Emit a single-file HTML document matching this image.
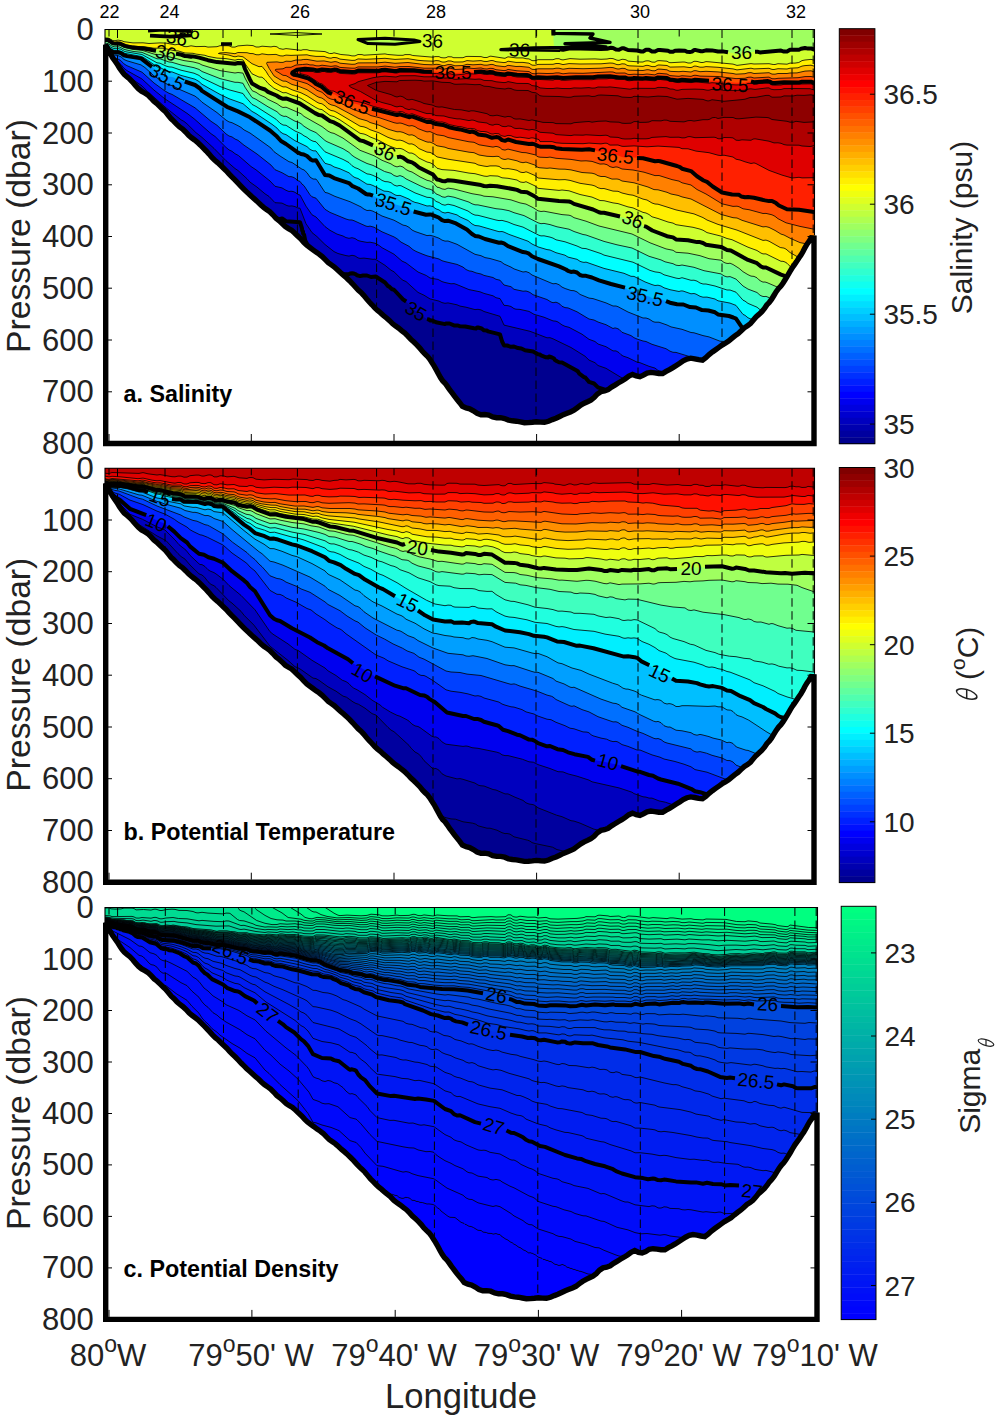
<!DOCTYPE html>
<html><head><meta charset="utf-8"><title>Section</title><style>html,body{margin:0;padding:0;background:#fff}svg{display:block}</style></head><body>
<svg width="1000" height="1421" viewBox="0 0 1000 1421">
<rect width="1000" height="1421" fill="#fff"/>
<clipPath id="cp1"><rect x="105.0" y="29.5" width="709.5" height="414.0"/></clipPath>
<g clip-path="url(#cp1)" stroke-linejoin="round">
<rect x="103.0" y="27.5" width="713.5" height="418.0" fill="#00008f"/>
<path d="M99 23.5L825 23.5L825 448.5L718 448.5L718 447.4L715 447.3L713 446.3L709.3 443.5L706 442.2L703 439.5L702 439.4L701 438.5L699 438.4L698 439.1L696 438.4L695 437.5L694 437.4L691 435.5L690 435.4L689 434.5L688 434.4L687 433.5L684 433L682 432L679 429.5L678 429.4L677 428.5L676 428.4L675 427.5L674 427.3L673 426.5L672 426.3L671 425.4L664 422.2L661 419.5L658 418.4L657 417.5L656 418.3L655.1 417.5L654 417.4L649 414.3L645.2 412.5L644 412.4L643 411.5L640 410.8L639 409.5L635.4 407.5L630 405.7L622.7 400.5L620 400.4L617 398.4L612 393.5L608 391.9L604.2 389.5L598 387.4L594 383.5L589 381.9L585.3 377.5L584 377.1L581.2 374.5L579 373.3L578 371.5L576.6 370.5L562 362.5L559 362.2L557 361.3L555 360.1L554 358.5L552 357.5L549 356.5L548 357.4L546 357.3L542.1 355.5L541 355.4L540 354.5L538 354.3L533.1 351.5L525 350.2L524 349.4L521.4 348.5L518 348.1L515 347.2L514 346.5L511 346.8L508 346.2L507.1 345.5L504 345.4L502.1 341.5L500 334.4L488 331.4L487 330.5L484 330.3L481.7 328.5L478 327.5L477 327.5L476 328.4L474 328.3L471.6 327.5L467 327.2L465.3 326.5L460 326.3L458 325.5L454 325.4L449.5 323.5L446 323.5L445 324.1L436 322.2L432.4 320.5L430 320.4L429 319.5L427 319.1L417 312.8L406.2 301.5L403 299.3L400 296.4L394.7 290.5L393.5 289.5L392 289.2L389.1 286.5L388 286.1L385 282.5L375.8 276.5L373.9 276.5L373 277.1L371 277L367 275.5L363 275.5L361 276.2L360 276.1L357 275.3L356 274.3L354 273.6L352 273.3L349.9 273.5L349 274.2L346 273.8L343 274.1L339 273.3L334 271L331.1 268.5L330 268.4L326.3 264.5L326 263.5L323 261.3L311.2 250.5L310 247.5L307.4 244.5L305.2 240.5L305 238.3L304.1 236.5L304 234.5L303.1 233.5L303 231.5L302.2 230.5L302 228.3L301.1 226.5L301 224.8L300.1 223.5L300 222.2L294 221.4L286 221.2L282.1 218.5L281 219.1L278 219.4L275 219.5L274 218.9L272 216.4L267.1 211.5L262 208.2L256 202.5L253 201.2L251 199.4L237.1 185.5L232 181.1L226.1 174.5L222.2 171.5L209 156.5L207 154.5L206 154.3L205 153.4L190 138.9L183.1 131.5L180 130L171 120.5L170 120.4L168 118.9L162.2 112.5L148 99.7L141 92.5L140 92.3L137 89.9L129.1 82.5L128 82.3L127 81.4L122.1 75.5L122 74.5L121 73.5L121 72.5L119 70.5L115 68.4L111.4 64.5L110 62.5L110 61.5L104 55.5L103 55.5L100.1 53.5L99 53.5L99 23.5Z" fill="#0000bf" stroke="none"/>
<path d="M99 23.5L825 23.5L825 448.5L771.8 448.5L769 445.9L760 442.3L757 442.7L754 441.3L751 437.5L748 436L745 435.6L743 434.6L736 429.3L724 423.5L719 420.1L714 419.3L709 416L702 412.4L697 411.3L688 407.4L684 406.8L677 402.8L673 401.5L664 397.3L654 391.8L652 390.9L649 390.5L645 388.8L622 378L606 368.3L598 365.5L595 362.7L589 360.1L585 356.2L571 347.5L553 338.8L550 337.7L547 337.8L530 331.3L504 325.1L500 316.3L484 311.5L481 309.9L478 309.3L475 309.6L466 307.2L460 306.1L457 304.8L448 302.9L445 303.3L442 302.6L439 301.1L430 298.9L424 295.2L418 292.4L406 281.5L403 280.3L401 278.7L394 271.8L391 270.2L385 265.3L376 259.6L375 259.1L373 259.3L364 258.1L360 258.4L358 257.9L355 255.9L352 255.3L349 256.1L346 255.6L338 253.5L334 251.6L325 244.5L317 236.6L312 232.6L306 223.7L300 208.2L298 208L295 206.6L292 205.9L289 206.1L287 205.6L282 203.1L275 202.7L269 196.4L265 193.8L257 187.1L250 182.1L247 178.7L238 170.5L235 168.5L226 160.7L214 148.4L202 137.4L196 132.7L187 123.8L184 121.4L181 119.8L166 107.8L148 91.9L142 85.9L127 75.4L124 72.7L121 68.4L118 65.7L114 63.3L105 54.1L100 51.4L99 51.4L99 23.5Z" fill="#0000ef" stroke="#000" stroke-width="0.8"/>
<path d="M99 23.5L825 23.5L825 446L815 440.3L811 439.7L798 433.4L790 430.6L785 427.7L781 427L772 422.9L769 419.8L766 418.4L760 415.9L758 416.5L756 416.1L754 415L751 411.3L748 409.8L745 409.3L743 408.3L736 401.6L732 400.2L721 394.5L718 393.2L713 392L709 389.6L703 387.1L694 384.5L691 382.3L689 381.5L685 381L676 377.3L673 377.1L670 375.8L666 373.3L658 370.4L655 368.1L649 366.3L640 362.7L637 362.1L628 357.7L623 356L621 354.7L619 352.6L616 350.9L613 350.9L606 346.7L598 344L595 341.5L589 339.3L582 334.2L569 327.3L565 326.3L562 324.9L558 322L556 321.2L553 320.9L544 317.2L534 314.3L529 311.4L520 309.4L516 309.2L514 308.6L511 306.5L508 305.7L504 305.3L500 298.6L496 297.7L493 295.8L484 293.4L480 291.8L469 289.6L456 284.2L454 283.6L451 283.8L445 282.5L442 281.6L438 279.4L430 278L426.3 275.5L418 272L406 262.9L402 261.1L394 254.2L382 247.7L379 245.4L375 243.2L370 242.2L367 242.4L361 241.3L358 240.5L355 238.5L352 237.7L349 238.3L346 237.6L343 236L337 234.1L330 230.3L325 226.6L316 217L312 214.8L306 206.2L300 195L298 194.5L295 192.3L293 191.5L291 191.2L289 191.5L286 190.3L282 187.9L275 186.3L270 181L256 169.8L251 166.5L238.4 155.5L235 153.7L232 151.3L229 149.9L226 147.4L215.1 136.5L211 133.7L194 118.7L187 113.3L165 98.9L154 90.1L142 79L127 70.6L124 68.3L121 64.5L118 62.3L115 61.2L113 59.8L109 55.7L105 52.7L100 50.2L99 50.2L99 23.5Z" fill="#0020ff" stroke="#000" stroke-width="0.8"/>
<path d="M99 23.5L825 23.5L825 420L815 413.9L813 413.4L811 413.6L803 409.5L796 406.9L784 400.8L781 400.1L773 397.2L768 393.2L760 389.7L757 389.7L755 388.7L751 385.6L743 381.6L736 374.1L731.4 372.5L727 369.8L724 368.7L721 368.3L712 365.2L709 363.7L695 359.5L690 356.7L676 352.4L673 352.3L670 351.2L666 348.7L652 344.3L646 341.5L643 341L637 339L634 337.7L631 335.6L622 332.3L619 329.3L617 328.4L615 327.9L613 328.5L606 324.7L598 322L594 320L589 319L577 311.8L568 307.9L565 307.6L562 306.3L560 304.2L558 303L556 302.2L553 302.7L551 302L547 299.5L533 294.7L530 292.5L528 291.6L526 291L523 291.2L514 289.3L511 286.7L504 285L500 280.2L496 279.3L493 277.5L484 275.4L481 274L476 272.9L472 271.3L469 270.9L466 269.5L463 267.1L457 264.4L445 261.6L442 260.7L439 259L427 255.8L423 254.3L416 251.4L413 249.7L409 246.3L401 242.1L397 238.7L394 236.9L382 231.8L374 227.2L370 226.1L368 226.5L366 226.1L354 220.7L352 220L349 219.9L346 219L330 212.4L325 209.3L316 198.2L312 196.8L310 194.8L304 185.7L302 184.1L300 181.4L298 180.7L295 178.2L293 177.2L291 176.6L289 176.7L282 172.7L275 169.7L271 165.1L257 154L244 145.2L238 140.3L235 139L232 136.9L229 136L226 133.9L217 125.3L211 121.3L195 107.8L172 94.4L169 93.3L165 91L154 83L142 72.2L127 65.7L124 63.9L120.7 60.5L118 59L115 58.3L113 57.1L109 53.7L105 51.3L100 49L99 49L99 23.5Z" fill="#0060ff" stroke="#000" stroke-width="0.8"/>
<path d="M99 23.5L825 23.5L825 394.1L820 391.2L816 387.9L799 382L787 375.6L779 372.6L769 367.7L748 358.4L745 355.8L743 354.8L736 346.2L730 343.2L724 341.4L720 341.2L709 336.9L703 335.6L694 332.8L691 332.5L682 329.3L671 326.9L667 325L659 322.2L655 322.2L653 321.6L649 319L646 318L643 318L628 312L618 306.7L616 306L613 306L606 302.9L593 298.6L589 298.1L580 294.4L577 291.9L574 290.7L571 290.5L565.1 288.5L562 287.1L559 284.7L556 283.5L553 283.8L551 283L532 275L529 272.7L526 271.6L523 272L514 268.9L511 267.1L504 264L501 261.7L490 258.5L485 257.6L481 255.7L475 254.3L457 244.3L448 241L445 241.1L442 240.1L439 238.2L433 236L430 235.3L427 235.6L415 231.5L412 230L409 227.3L406 225.7L403 225.1L394 220.2L382 216L373 211.2L370 210.3L367 210.5L364 209.1L361 206.9L350 201.7L335 196.4L328 193.1L325 192.4L317 180.2L316 179.1L313 179L310 177.1L307 172.7L304 169.9L302 169.2L292 162.5L289 161.7L280 156L274 151.7L271 148.1L269 146.6L250 133L244 129.9L241 127.4L238 125.7L232 122.7L229 121.9L226 120.1L217 112.6L202 102.2L199 99.2L195 96.1L180 89.6L172 85.5L169 85L165 83.1L154 75.9L145 67.6L141 64.9L127 60.8L124 59.5L121 56.8L118 55.6L114 54.9L112 54L108.8 51.5L100 47.9L99 47.9L99 23.5Z" fill="#008fff" stroke="#000" stroke-width="0.8"/>
<path d="M99 23.5L825 23.5L825 367.3L823 365.5L815 361.5L808 358.6L807 358.4L806 358.9L804 358.4L796 353.8L778 346.5L768 340.7L766 339.9L763 340.1L760 338.7L757 336.2L749 332.9L747 331.6L746 330.4L743 328.8L736 318.7L730.7 316.5L719 314.6L717 313.8L715 312.3L706 310.1L702 310.1L696 307.5L694 307.1L690 307.1L683.4 304.5L678 304.4L670 302.7L659.4 298.5L658 298.3L655 298.9L653 298.4L649 296.4L643 294.9L635 291.2L631 290.8L628 289.8L625 287.6L623 286.9L611 284L599 280.3L592 277.5L586 275.8L584 276.1L582 275.7L580 275L577 272.5L574 271.6L571 271.9L568 270.9L566 269.5L559 266.4L538 259L532 256.2L529 253.7L526.2 252.5L523 252.1L508 246.1L504 243.4L501 242.5L499 242.8L485 239L478.9 236.5L475 235.9L472 234L466.9 229.5L460 226L456 223.4L448 220.7L447 220.5L446 221.1L445 221.1L442 220.1L438.6 217.5L432 214.8L430 214.4L427 214.9L418 212.4L415 212.1L412 210.9L409 208.7L406 207.5L394 204.1L388.2 201.5L385 201.3L383 200.7L379 198.4L372.5 195.5L370 194.6L367 194.5L358.1 188.5L355 187.5L352 185.8L349 183.1L340 179.8L334 178.1L329.3 175.5L325 175L316 160.3L313 160.6L311 159.7L307 156L303.8 154.5L301 154L297 151.9L286 144L282 141.8L279.3 139.5L277 136.6L270 130.5L256.7 121.5L250 117.3L238 111.4L232 108.7L229 107.9L225 105.7L216 99.5L202 90.9L200 88.5L195 85L179 79.9L173.9 77.5L171 76.7L169 76.8L165 75.3L160 72.1L156 70.3L145 61.1L141 58.4L127 56.1L124 55.3L121 53.2L118 52.3L116 52.5L113 52L109 49.6L99 46.6L99 23.5Z" fill="#00bfff" stroke="none"/>
<path d="M99 23.5L825 23.5L825 352.7L823 351.4L814 347.5L808 345.4L805 345.3L802 344L799 341.5L796 339.8L790 336.7L772 328.8L769 326.3L767.3 325.5L766 325L763 325.5L760 324.2L757 321.6L748 317.8L745 315.3L743 314.4L736 305.4L730 303.1L718 300.8L715 299L707 297.1L703 297.2L700 296.3L696 294.1L694 293.5L691 293.8L683 291L681 290.9L679 291.5L670 289.7L664 287.8L661 286L658 285.2L655 285.5L652 284.6L645 281.9L634 276.4L631 276.3L624 273.3L604 268.4L586 262.1L584 262.4L582 262L580 261.3L577 259.3L568 257.1L565 255.2L556 252.7L550 250L547 249.6L538 246.9L532 244L528 241.2L509 234.4L504 232.1L502 231.5L499 231.7L479 225.9L475 225.5L472 223.9L468.1 220.5L460 216.9L457 214.9L448 212.3L445 213L442 212.2L439 209.9L436 208.9L433 206.7L430 205.8L427 206L418 203L415 202.4L412 201.1L409 199.1L402 196.2L400 195.4L397 195.5L395 194.9L391 192.4L388 191.4L384 191.1L373 185.5L370 184.4L367 184.2L358 178.5L355 177.6L353 176.4L349 172.8L340 168.8L334 166.9L331 165L325 163.3L316 150.9L313 150.8L310 149.4L307 146.6L295 140.7L286 134.6L283 133.7L280 131.6L277 128.1L272 124.3L256 113.6L252 111.4L243 103.7L229 98.7L220 94.4L202 84.3L199 81.5L195 79.2L181 75.4L172 71.9L169 71.8L167 71.2L160 67.5L157 66.8L145 58.4L141.6 56.5L125 53.4L121 51.2L118 50.4L115 50.5L113 50L109 47.7L99 45.1L99 23.5Z" fill="#00ffff" stroke="#000" stroke-width="0.8"/>
<path d="M99 23.5L825 23.5L825 338.7L820 336.6L803 330.9L790 322.5L787 321.5L778 316.6L775 315.9L772 314.5L769 311.8L766 310.5L763 311L760 309.7L757 307.2L748 303.4L745 301.1L743 300.2L736 292.2L730 290L727 290L715 286L706 284L703 284L700 283L697 281.1L694 280.2L691 280.3L682 277.7L679 278.6L676 278.1L664 274.8L661 273L659 272.4L655 271.9L650 270.4L633 262.2L604 255.1L601 253.6L586 248.6L582 248.3L577 246L565 241.8L556 239.8L553 238.1L550 237.1L544 235.8L541 235.9L539 235.3L523 227.1L514 224.5L508 222L502 220.4L499 220.6L496 220L478 215.3L475 215.1L472 213.8L468 211L454 205.5L448 204.2L445 205.2L442 204.5L439 202.5L436 201.4L433 198.5L430 197.5L427 197.3L415 192.9L401 185.7L399 185.5L397 186.1L394 185.1L391 182.7L388 181.8L385 181.6L382 180.4L379 178.3L373 175.4L370 174.3L367 173.9L358 168.7L355 167.6L352 165.7L349 162.6L343 159.4L325 151.8L316 141.8L313 141.2L310 139.7L307 137.3L304 135.8L301 133.6L295 131L286 125.3L283 125L280 123.2L276 119.2L256 106.4L252 104.4L245 96.4L243 93.5L229 89.8L220 86.5L202 77.9L199 75.4L194 73.2L181 70.2L172 67.1L169 66.9L166 66L160 63.2L157 62.8L142 54.5L126 51.8L124 51.2L121 49.3L118 48.6L115 48.7L113 48.2L111 47.4L109 45.8L99 43.6L99 23.5Z" fill="#30ffcf" stroke="#000" stroke-width="0.8"/>
<path d="M99 23.5L825 23.5L825 325.1L820 323.2L817 322.8L811 321L808 319.9L805 317.9L800 316.1L790 308.4L784 305.4L781 303.2L778 301.8L775 301.2L772 299.8L769 297.6L766 296.4L764 296.6L762 296.2L760 295.2L757 292.5L748 289.1L743 286L736 279.1L730 276.6L727 276.9L724 275.9L721 273.9L704 270.7L694 267.3L682 265L679 265.6L676 265.2L673 263.7L665 261.8L661 259.9L649 256.3L632 248L617 244.8L604 241.4L586 235L583 234.5L574 231.5L569 229.2L557 226.8L550 224.6L544 223.4L541 223.7L538 222.8L524 215.6L514 212.7L509 210.7L502 209.3L496 208.7L478 204.9L475 204.8L472 203.8L469 202.1L454 197.2L448 196.1L445 197.3L442 196.8L440 195.5L436 193.9L433 190.5L430 189.2L427 188.7L420 185.7L406 178.9L403 176.7L400 175.6L397 176.5L394 175.5L391 173.3L384.6 171.5L373 165.4L367 163.5L361 160.6L355 157.4L352 155.3L349 152.4L343 148.7L327 141.7L325 140.5L316 132.6L310 130L304 126.3L301 123.6L298 122L295 121.2L286 116.2L284 116.4L282 115.7L280 114.6L277 111.7L268 106.8L256 99.3L252 97.5L245 87.2L243 83.3L238 82.3L235 82.3L220 78.6L202 71.5L199 69.4L194 67.7L181 65L172 62.3L169 62L160 58.8L157 58.8L142 52.4L133 51.4L127 50.1L124 49.3L120 47.2L118 46.7L115 46.9L112 46.1L108 43.6L99 42L99 23.5Z" fill="#70ff8f" stroke="#000" stroke-width="0.8"/>
<path d="M99 23.5L825 23.5L825 311.8L820 309.8L817 310.1L808 307.1L805 304.4L802 303.2L800 303L799 302.3L786 291.4L779 287.8L767 282.6L765 282L763 282.1L761 281.2L759 279.9L757 277.8L754 276.4L751 276.1L748 274.7L743 271.7L739 268.3L733 264.5L730 263.2L728 263.5L726 263.2L724 262.4L721 260.2L709 258.7L700 255.7L688 253.2L676 252.3L673 250.3L666 248.9L650 242.8L632 234L599 226L586 221.2L574 217.7L571 215.8L569 215.2L562 214.6L544 211.2L541 211.5L538 210.8L533 207.6L526 204.1L520 202.9L511 199.9L493 196.8L484 196.2L481 195.2L472 193.7L454 189L448 188.1L445 189.4L442 188.9L439 187.5L437 187.2L433 182.5L430 181L427 180.3L420 176.9L412 172L409 171.1L406 169.5L403 167L400 166L397 166.9L394 165.9L391 163.9L382 160.3L374 155.7L360 150.3L343 138.1L334 133.4L331 132.7L328 131.2L322 126.6L304 116.4L301 113.7L286 107.2L283 107.5L281 106.6L277 103.7L268 99.4L265 97.2L260 95L256 92.3L253 91.1L252 90.5L249.6 86.5L245 78L243 73.1L238 72.5L235 73L220 70.6L202 65L199 63.4L193 61.9L184 60.6L160 54.5L157 54.8L154 54.1L142 50.3L133 49.4L127 48.1L124 47.4L120 45.4L118 44.9L115 45L112 44.3L110 42.7L108 41.7L99 40.5L99 23.5Z" fill="#9fff60" stroke="#000" stroke-width="0.8"/>
<path d="M99 23.5L553.3 23.5L553.5 40.5L554.1 47.5L555 48.8L559 48.5L562 49.8L565 49.7L568 48.4L570 48.2L601 48.9L608 48.7L610 47.8L613 47.9L616 49.6L618 49.7L619.6 49.5L622 48.2L624 48.3L628 50L637 50.5L641.3 51.5L643.1 51.5L646 49.7L649 49.8L652 51.5L655 51.5L658 50L660 49.9L668 50.8L669 51.6L670 51.8L673 51.8L675 50.8L679 50.6L685 50.8L687 51.8L689 52L692 51.6L694 50.1L697 50.1L701 51.2L703 51.2L706 50.3L712 50.4L715 50.6L718 51.5L725 51.7L733 53L735.6 54.5L738 54.6L740 54.4L742 53L751 51.9L757 51.7L760 52.4L780 50.6L784 51.6L786 51.6L787 51.5L790 49.8L799 49.7L801 48.8L805 48L808 48.6L811 48.4L814 49.5L820 48.5L825 48.3L825 298.5L820 296.5L817 297.2L808 294L805 291.1L799.6 289.5L786 276.4L781 274.6L773 270.4L766 267.5L762 267L760 266L757 263.2L754 261.8L750 260.9L736 253.5L733 251.5L730 250.2L727 250L721 246.9L708 245.2L700 242.1L697 242.1L688 240.3L676 239.4L673 237.4L667 236.2L652 230.4L646 226.6L643 225.7L633 220.3L616 215.5L604 212.8L601 212.8L599 212.3L593.1 209.5L574 203.9L571 202.1L569 201.5L559 201L538 198.8L535 196.5L526 191.8L522 192L520 191.6L516 189.7L502 187.3L499 186.4L490 185.7L487 186.2L484 186L481 185.1L468 183.3L454 180.8L448 180.2L445 181.3L442 180.9L439 179.8L437 179.6L433 174.5L430 172.8L427 171.9L419 167.5L415 164.2L412 162.4L408 161.3L403 157.6L400 156.6L397 157.2L394 156.2L387 153L374 145.7L364 141.3L360 140.4L339.7 125.5L334 122.4L332 122.1L330 121.2L322 115.5L319 115.1L315 113.1L309 109.7L299.9 103.5L286 98.4L283 98.8L280 97.7L276.5 95.5L268 91.8L265 89.5L260 87.9L253 84.1L252 83.4L250 79.6L245 69L243 63.2L238 63L235 63.8L217 62.1L208 60.2L199 57.6L193 56.4L185 56L180.9 54.5L161.2 50.5L156 50.8L149 49.8L144 48.5L133 47.6L125 45.9L119.9 43.5L113 43.2L108 40L103 40.1L102 39.4L99 39.2L99 23.5Z" fill="#cfff30" stroke="none"/>
<path d="M102.4 38.5L105 37.9L108 38.1L109 38.3L112.8 40.5L115 40.7L118 40.1L122 40.8L124 41.7L133 42.9L143 42.8L149 43.5L160 42.9L166 43.1L175 44.8L178 44.3L180 44.6L184 46.5L187 46.7L191 45.8L196 46.6L205 46.4L208 47.1L217 46.7L220 45.7L227 45.7L229 45.8L232 47.1L235 47.1L238 45.9L247 45.2L253 45.6L256 47L259 47L262 46.2L271 46.9L274 46.3L277 46.8L279.2 48.5L283 49.3L286 48.6L301 50.3L303 49.7L307 49.7L310 50.6L325 51.6L329.5 53.5L332 53.5L334 52.8L340.9 54.5L349 55.2L352 55.9L355 55.9L358 54.5L362 54.6L364 55.2L385 53.9L387.9 54.5L398 55.3L403 55.3L405 54.6L410 54.6L412.8 55.5L433 57.2L435 56.6L439 56.6L441 57.6L444 57.9L446 57.7L448 56.7L452 56.9L453 57.6L454 57.7L463 57.7L466 56.5L468 56.4L481 56.6L484 57.5L487 57.5L490 56.2L491 56.2L504 58.2L505 58.3L508 56.8L516 57.9L523 57.9L526 58.7L529 58.9L532 60.6L534 60.7L535.9 60.5L538 59.7L553 59.7L556 58.7L559 58.7L561 59.6L563 59.9L570 58.6L580 59.2L595 58.9L601 59.3L607 59L610 58.4L613 58.6L617 60.2L619 60.4L622 59.3L623 59.3L626 59.8L628 61.1L640 62L643 62L645 61.1L647 60.8L649 60.9L652 62.1L655 62.2L657 60.9L659 60.6L667 61.2L669.1 62.5L671 62.7L683 62L685 62.1L688 63L691 63L694 61.3L695 61.3L697 61.4L701 62.5L703.1 62.5L706 61.6L709 61.8L733 64.1L737 65.4L751 63.6L754 64L769 63.7L773.1 64.5L775 64.5L778 63.7L787 64.2L790 63.1L795 63.1L798.8 62.5L802 60.6L805 60L811 59.4L814 60.1L817 59.8L820 58.6L825 58.4L825 281.6L820 279.8L818 280.7L816 280.7L808 277.7L805 275.3L800 274L791 267.3L787 263.2L785 262L783 261.3L781 261.3L766 253.9L763 253.9L761 253.1L757 250.5L748 247.2L732 239.7L727 238.5L721 236.1L707 232.6L703 230.2L700 229.1L693 227.3L676 224.7L673 223.1L668 222L658 218.5L652 216.8L649 214.5L646 213L643 212.4L633 207.9L628 206.9L618 203.6L613 202.9L604 200.7L600 200.5L592 197.1L580 194.5L569 190.8L562 190L559 190.4L538 188.3L535 185.9L526 181.7L524 182.4L522 182.3L520 181.9L517 180L508 178.3L502 177.8L498 176.1L490 175.7L487 176.4L484 176.1L475 173.7L469 173.1L454 170.4L442 169.6L437 168.2L433 164.2L430 162.7L427 162L419 158.1L415 154.6L412 153.1L409 153L403 149.3L401 148.6L399 148.4L397 148.7L394 147.8L388 145.4L379 140.5L370 136.9L367 135.2L364 134L360 133.3L340 119.9L334 116.6L330 115.5L322 109.6L319 109.1L316 107.6L301 98.4L298 97L292 95.2L286 92.6L283 92.8L274 88.3L268.1 83.5L265 79.7L262 77.2L259 77.1L252 73.8L245 63.6L243 59.9L238 59.4L235 60.2L226 58.6L217 58.1L208 56.4L205 55.3L196 54.1L193 53.3L185 53L178 50.9L175 50.8L163 48.2L154 48.2L143 46.6L139 46.7L130 45.7L124 44.6L122 43.1L117 41.9L115 42.7L113.3 42.5L109 39.7L108 38.6L104 38.8L103 39.5L102.4 38.5Z" fill="#ffef00" stroke="#000" stroke-width="0.8"/>
<path d="M237.9 52.5L247 52.7L250 53.5L253 53.6L256 54.7L259 54.8L262 53.8L268 54.7L276 54.4L280 55.8L283 56L286 55.1L291 55.4L307 54.8L310 55.6L316 56.4L324 56.4L328 57.8L331 58.2L333 57.5L335 57.5L337 57.8L340 59.1L352 60.4L355 60.3L358 58.9L366 59.3L385 58.3L395 59.4L408 58.7L418 60.3L424 60.8L433 61.2L436 60.6L439 60.8L442 62L444 62.1L446 61.8L448 60.9L451 61L454 62L459 62L463 61.9L467 60.6L473 61.1L481 60.6L484 61.4L487 61.5L491 60.5L493 60.6L496 61.7L504 62.6L506 62.3L508 61.2L516 62.4L523 62.4L529 63.2L532 65.1L535 65.3L538 64.4L553 64.3L556 63.5L559 63.5L563 64.6L569 63.6L580 64L601 63.8L610 63L613 63.2L617 64.6L619 64.7L622 63.8L625 64L627 65.3L629 65.8L643 66.4L646 65.4L648 65.4L652 66.6L655 66.6L658 65L660 65L667 65.5L670 67.1L684 66.8L690 67.6L692 67.3L694 66.1L696 66.1L700 67.2L703 67.2L706 66.6L718 67.3L733 68.9L737 69.9L751 68.2L754 68.9L769 68.3L772 69.4L774 69.5L778 68.7L787 69L790 68.2L798 67.8L802 66.1L805 65.6L811 65.2L814 66.1L817 65.8L820 64.6L825 64.5L825 264.2L820 262.9L817 264.2L814 263.6L805 259.5L800 258.3L790 252.5L786 249.1L784 248.1L780.2 247.5L769 241.2L766 240.1L763 240.4L737 230.1L718 224.4L707 220L703 217.6L694 213.9L676 209.9L658 204.2L655 204L652 203L647 200L643 199.1L633 195.2L629 194.7L622 193L618 191.3L613 191.1L604 188.5L601 188.6L598 187.8L595 186L592 185.1L580 183.3L570 180.4L565 179.6L559 179.8L538 178L535 175.5L527 172.1L526 171.8L524 172.5L522 172.5L520 172L517 170.3L514 169.6L508 168.6L505 168.9L502 168.4L499 166.4L496 165.9L490 165.9L487 166.5L484 166.1L478 164.9L475 163.3L448 159.2L437 156.9L433 153.8L430 152.4L427 152.1L419 148.6L415 145.3L412 143.9L409 144L403 140.9L400 140.1L397 140.3L394 139.5L388 137.4L379 132.8L370 129.7L367 128L364 126.9L360 126.2L337 112.5L334 111L331 110.5L328 108.8L325 105.9L322 103.8L319 103.2L317 102.2L307 95.8L301 92.8L292 89.8L286 86.9L283 86.9L280 85.5L274 82.1L268.5 75.5L266 71.3L262 66.4L259 66.7L252 63.7L243 56.8L238 56L236 56.7L234 56.7L229 55.1L218.4 53.5L220 52.9L226 52.6L235 53.7L237.9 52.5Z" fill="#ffbf00" stroke="#000" stroke-width="0.8"/>
<path d="M303.2 59.5L307 59.4L317 61.2L324 60.9L331 62.3L335 61.6L337 61.9L340 63.2L352 64.3L355 64.2L358 62.9L378 62.8L385 62.2L395 63.3L408 62.5L424 64.5L433 64.8L436 64.3L439 64.5L442 65.5L444 65.7L448 64.6L451 64.6L455 65.8L463 65.5L467 64.3L473 64.8L481 64.3L484 65.1L487 65.2L491 64.4L493 64.5L496 65.7L503 66.5L505 66.7L508 65.3L516 66.5L520 66.4L529 67.3L532 69.3L535 69.5L538 68.8L553 68.8L556 68.2L559 68.2L563 69.2L569 68.3L583 68.7L601 68.2L610 67.4L613 67.6L617 68.9L619 69L622 68.3L625 68.5L627 69.7L629 70.2L643 70.5L647 69.7L649 69.8L652 70.7L655 70.8L658 69.1L661 69.2L667 69.8L669 71L671 71.4L679 71.7L683 71.3L691 72L694 70.7L696 70.7L700 71.7L706 71.3L718 71.9L733 73.5L736 74.2L745 73.7L748 72.8L751 72.6L754 73.5L769 72.7L772 74.1L775 74.2L778 73.5L787 73.5L790 73L797 72.9L805 71.1L811 70.8L814 71.8L817 71.6L820 70.5L825 70.7L825 246.5L820 245.7L818 246.8L816 247L805 243.6L800 242.6L790 238.2L784 235L781 234.1L775 230.4L769 227.4L766 226.6L763 226.9L742 220.3L737 218L733 217.7L721 214.4L691 199L682 196.9L678 195.4L671 194L667 192.3L658 189.8L654 189.6L648 187L634 182.8L622 181L619 179.4L617 179L612 179.1L605 176.5L601 176.5L598 175.7L595 174L592 173.2L582 172.5L571 169.9L565 169.2L559 169.1L550 168L547 168.3L539 167.7L537 166.9L535 165.1L526 162.1L523 162.7L520 162.1L517 160.8L508 158.8L505 159.5L503 159.2L501 158.4L499 156.6L497 156.3L493 156.6L487 156.3L479 155L474 152.7L469 152.2L448 148.4L445 147.2L437 145.8L433 143.3L430 142.1L428 142.2L426 141.7L418 138.4L415 136L412 134.8L409 135.1L403 132.4L400 131.7L397 131.8L388 129.2L379 125.2L370 122.5L367 120.8L359 118.6L335 105.8L331 104.8L328 103.2L325 100.2L322 98.1L319 97.3L317 96.3L307 89.7L298 86.1L292 84.5L286 81.2L283 81.1L280 79.6L274 75.9L269.2 68.5L266.6 63.5L267 62.3L277 61.9L280 62.4L283 62.4L286 61.2L291 61.4L296 60L301 60L303.2 59.5Z" fill="#ff8000" stroke="#000" stroke-width="0.8"/>
<path d="M302.4 64.5L307 64.1L310 64.9L313 64.9L316 65.8L319 65.9L322 65.2L331 66.4L335 65.8L337 66L340 67.4L352 68.2L355 68.2L358 66.9L378 66.9L385 66.1L395 67.2L400 66.6L409 66.5L424 68.2L439 68.2L442 69.1L444 69.2L448 68.2L451 68.3L455 69.5L463 69.1L467 68L474 68.5L481 67.9L484 68.8L487 69L490 68.3L493 68.5L496 69.7L504 70.6L506 70.4L508 69.4L517 70.8L529 71.5L532 73.5L535 73.8L538 73.2L547 73.5L553 73.4L556 72.9L559 72.9L563 73.8L569 73.1L583 73.3L610 71.9L613 72L616 73.1L625 73L628 74.4L630 74.5L634 74.2L643 74.5L647 74L655 74.9L657 73.7L659 73.3L667 74L670 75.6L676 76.1L679 76.3L682 75.7L691 76.4L694 75.3L696 75.3L700 76.1L718 76.5L736 78.6L745 78.3L748 77.3L751 77.1L754 78L769 77.1L772 78.7L775 78.8L778 78.3L798 77.7L805 76.6L811 76.5L815 77.5L817 77.5L820 76.5L824 76.6L825 76.9L825 229L820 228.3L818 229.3L816 229.6L800 226.4L786 222.8L778 218.7L775 216.3L772 214.8L766 213.4L763 213.5L749 209.7L743 208.8L739 206.7L737 206.2L733 206.4L722 203.8L706 194L697 189.5L691 185L682 182.8L679 181.1L672 179.6L659 175.5L655 175.6L644 172.2L633 170L622 169L618 167.2L616 166.9L613 167.5L610 166.7L607 164.7L604 163.9L600 164.1L592 161.4L586 160.8L581 161L571 159.4L556 158.3L550 157.1L547 157.5L540 157.2L538 156.8L535 154.8L526 152.7L522 152.5L508 149.1L505 150.1L502 149.5L500 147.6L498 146.8L496 146.4L493 147.1L479 144.8L474 142.3L469 141.8L448 137.5L444 135.8L437 134.8L430 131.6L427 131.9L424 130.9L418 128.6L415 126.6L412 125.6L409 126L402 123.4L400 123L397 123.3L394 122.7L379 117.6L371 115.6L367 113.6L360 111.9L353 109.4L334 99.7L331 99.1L328 97.7L322 92.3L317 90.3L313 87.3L307 83.6L292 79.1L286 75.6L283 75.3L275.3 70.5L275.5 69.5L276 69.3L283 68.8L286 67.3L291 67.3L296 65L302.4 64.5Z" fill="#ff5000" stroke="#000" stroke-width="0.8"/>
<path d="M299.4 69.5L303 68.8L307 68.7L317 70.4L319 70.4L322 69.5L331 70.3L335 69.7L337 69.8L340 71.1L352 71.9L355 71.8L358 70.6L379 70.7L382 69.9L385 69.8L394 70.9L397 70.9L400 70L414 70.2L424 71.6L439 71.7L443 72.6L446 72.6L448 71.7L451 71.8L453 72.7L455 73L463 72.5L466 71.5L474 71.9L481 71.5L485.5 72.5L492 72.1L496 73.6L505 74.5L508 73.4L517 74.8L528 75.2L530 75.9L532 77.6L535 77.8L538 77.3L547 77.8L557 77.3L563 78.1L576 77.3L580 77.7L593 77.3L598 76.6L610 76.2L619 77.5L625 77.5L629 78.6L632 78.6L634 78L643 78.4L646 77.9L655 78.7L658 77.4L667 78L670 79.6L677.8 80.5L682 79.8L691 80.6L693 79.8L697 79.7L701 80.4L718 80.8L724 81.9L736 82.8L745 82.7L747 81.8L751 81.4L754 82.2L766 81.1L769 81.2L772 83L775 83.1L784 82.3L799 82.5L803 81.8L811 81.7L813 82.7L815 82.9L823 82.3L825 82.9L825 211.5L823 210.7L820 210.7L817 212.1L814 212L799 209.7L787 209.3L778.9 205.5L777 204.4L776 203.1L772 200.9L769 201.1L765 200.4L760 199.5L754 197.8L748 196.9L745 197.3L741.3 196.5L739 194.8L732.1 194.5L722 192.5L712.7 186.5L707 181.9L703.5 180.5L697 176.3L691 171.1L682 168.7L680 167.2L677 166L659 161.1L655 161.2L643 158.3L628 157L625 157.4L622 157L618 155.4L616 155.1L613 155.6L610 154.8L608 153.1L606 152.2L604 151.8L600 152.1L595 150.4L589 149.3L582 149.7L561 148.8L556 148.2L554 147.3L550 146.7L541 146.7L538 146.1L535 144.4L532 143.7L529 144L516 142L508 139.5L505 140.8L504 140.6L502 140.1L498.8 137.5L496 137.1L493 137.9L492 137.8L489 137L486 135.5L478 134.4L475.2 132.5L472 131.5L470 132L460 129.4L457 129.1L449 127.2L443 124.9L436 124.1L433 122.5L430 121.7L427 122L412 116.4L409 117.2L400 114.3L397 115.1L373 109.1L366 106.5L353 103.3L347.2 100.5L341 98.2L334.6 94.5L331 93.7L328 92.3L322 86.9L320 86.3L316 84L313 81.3L308 78.3L298.3 75.5L294 74.8L292.1 73.5L292.4 72.5L296 70L299.4 69.5Z" fill="#ff2000" stroke="none"/>
<path d="M300 71.5L313 71.5L315 72.4L318 72.5L320 72.4L322 71.5L324.5 71.5L327 72.3L331 72.4L335.2 71.5L340 73.4L352 74L355 74L358 72.8L378 72.8L382 72L385 71.9L391 72.3L395 73L397 73L400 72.1L415 72.2L423 73.3L436.8 73.5L444 74.5L450 73.7L455 75L464 74.2L466 73.5L475 74L480 73.3L484 74.3L493 74.4L496 75.6L505 76.6L508 75.3L511 75.5L513 76.3L517 77L529 77.5L532 79.5L535 79.9L538 79.4L553 80.1L555 79.4L559 79.4L560 79.5L561 80.2L565 80.3L574 79.6L592 79.7L598 78.9L607 78.8L610 78.3L613 78.4L616 79.3L624.2 79.5L629 80.8L634 80.2L646 80.2L655 80.8L657.8 79.5L660.3 79.5L668 80.4L669 81.3L672.5 81.5L676 82.4L679 82.6L682 82L691 82.6L696 82L709 83.1L712 82.7L721 83.3L724 84.2L736 84.9L743 84.8L746 84.4L748 83.4L752 83.4L754 84.3L757 84.2L759 83.5L766 83.2L769 83.3L772 85L775 85.2L781 85L784 84.3L808 83.9L811 83.9L814 85.1L817 85.1L819 84.4L824 84.5L825 85.2L825 177.5L824 176.9L822 176.7L814 177.7L802 177.9L799 177.3L792 178L782 175.1L769 170.4L755.9 163.5L754 162.9L751 163.5L745 161.8L740 160L736 159.2L733 157L724 155.2L721 155.6L718 155.2L709 152.7L696 151.1L688 148.8L682 148.7L679 147.4L658 146.1L647 146.8L634 145.9L624 146.4L622 146.3L618 145L610 145.1L607 143.3L605 143.2L601 143.9L589 143.1L583 143.7L562 143.3L556 142.8L552 141.6L540 141.6L539 139.6L533 137.9L531 137.9L529 138.5L520 137.2L517 137.5L514 137L511 135.7L508 135.4L505 136.4L504 136.3L501 135.6L499 133.8L495 133.5L493 134.1L491 133.9L487 132L484 131.5L481 131.5L477.1 130.5L475 129L471 128.4L467.7 128.5L461 126.7L458 126.5L449 124.5L446 123L442 121.9L440 122.1L436 121.5L433 119.8L430 118.9L428 119.1L425 118.5L412 113.7L409 114.5L405.7 113.5L403 111.9L400 111.5L397 112.3L394 111.7L373 106.3L364 103L352.2 100.5L349 98.6L340.9 95.5L335 91.7L333 90.9L332 91.2L330 90.5L328 89.5L326 87.2L322 83.9L319.9 83.5L308 75.6L300 73.5L300 71.5Z" fill="#df0000" stroke="#000" stroke-width="0.8"/>
<path d="M381.1 76.5L385 76.2L396 77L400 75.8L415 75.7L424 76.8L436 76.8L445 78.1L450 77.7L454 79.2L456 79.3L466 78.6L475 79.3L479 79L481 79.2L484 80.4L492 80.7L496 81.8L504 82.6L506 82.4L508 81.6L517 83.4L528 83.5L530 84.2L532 85.6L537 86.2L540 87.9L547 88.5L553 88.5L557 88L562 88.5L570 88.6L574 87.9L581 88.1L589 87.6L592 88.1L595 88L598 87L607 87.2L610 86.9L630 89.2L634 88.3L655 88.4L658 87.4L661 87.4L667 87.8L670 89L673 89.1L676 90.2L678 90.3L682 89.4L695 89.1L703 89.4L707 90.2L709 90.2L712 89.3L720 89.6L724 90.4L742 90.4L745 90.2L749 88.9L751 88.8L755 89.4L767 87.9L769 87.9L771 89.2L774 89.7L781 89.5L784 88.6L796 88.5L810 88.7L814 90L823 90L825 90.8L825 147.7L820 147.1L818 145.7L816 145.2L814 145.2L812 146.2L810 146.5L802 146L799 145.2L787 145.1L784 144.6L781 143.3L778 142.8L774 142.9L769 141.2L755 138.8L753 139.1L751 140.3L742 139.8L739 140.4L736 140.2L733 137.9L730 137.6L724 137.5L721.9 138.5L720 138.8L718 138.7L716 137.6L714 137.2L695 137.7L690 136.6L688 136.7L685 137.8L682 137.9L679 137.2L670 137.3L666 136.6L652 137.4L649.1 138.5L646 138.8L640 138.8L634 138.3L631 138.9L625 139L622 138.7L618 137.4L610 137L608 135.7L606 135.2L600 135.6L586 134.8L583 135.2L574 135L571 135.6L556 134.6L553 133.2L540 132.3L536 130.2L532 129.4L529 130L520 128.3L516 128.5L514 128.1L511 126.3L508 125.9L506 126.6L504 126.6L502 126.3L499 124.6L497 124.3L495 124.4L493 125.2L491 124.9L489 124.3L487 123L478 121.9L474 120.3L472 120L469 120.6L460 118.9L457 118.9L449 117.5L444 116L436 115.6L432 113.9L430 113.5L427 113.6L424 112.8L413 109.1L411 109L409 109.7L405 108.5L403 106.9L400 106.2L397 106.9L395 106.5L391 104.8L382 102.5L376 100.4L360.4 91.5L352 87.9L349.7 86.5L349.1 85.5L355 83.6L358 81.8L360 81.2L373 77.7L381.1 76.5Z" fill="#af0000" stroke="#000" stroke-width="0.8"/>
<path d="M399.4 80.5L415 80.2L421 80.5L424 81.1L433 80.9L442 82.3L450 82.6L454 84.1L456 84.3L465 84L475 84.7L480 84.5L484 86.2L489 86.5L496 88.1L505 89L508 88.2L511 88.5L514 89.9L517 90.4L528 90.5L532 92.3L536 92.8L540 95.7L543 96.2L559 96.5L568 97.3L571 97.2L574 96.3L589 95.8L592 96.5L595 96.3L598 95.2L601 95L618 95.8L622 97.1L630 97.5L632 97.3L634 96.3L648 97L658 96.1L667 96.5L677 99.2L688 98.4L703 99.4L707 100.8L709 100.9L712 99.7L724 101.3L742 99.6L745 99.2L750 97.5L756 97.3L766 95.4L769 95.4L772 97.2L775 97.2L781 97L784 95.9L793 96L797 95.2L804 95.4L811 94.8L814 95.6L823 95.4L825 96.2L825 124.1L820 123.3L817 122L815 121.8L804 122.4L796 121.3L793 122.3L790 122.2L787 121.3L772 119.5L769 117.9L767 117.5L756 117.1L739 118.8L736 118.7L733 117.5L724 117.4L718 118.5L715.4 117.5L714 117.5L712 117.8L710 119.1L708 119.7L703 119.7L694 121.1L691 120.5L688 120.7L684 121.9L670 121.3L667 120.2L664 120.1L661 120.9L652 120.7L649 122L646 122.3L640 122.4L637 121.6L634 121.6L631 123.2L625 123.4L622 123.2L619 122.2L610 121.9L606 121L598 121.3L592 122.2L589 121.5L586 121.7L574 122.7L571 123.8L556 123.6L553 122.6L543 122.4L532 119.9L529 120.5L520 118.9L516 119.1L514 118.7L511 116.8L508 116.4L505 117.1L497 115.2L493 115.8L490 115.5L487 113.7L474 110.9L471 110.8L469 111.4L461 109.8L454.5 109.5L442 106.9L439 107.1L436 106.7L432 105L424 103.5L421 102.1L412 99.3L409 99.9L406.9 99.5L403 96.9L401 96.3L400 96.1L397 97L395 96.5L391 94.6L376.4 90.5L367.5 85.5L376 82.4L385 81.4L397 81.8L399.4 80.5Z" fill="#8e0000" stroke="#000" stroke-width="0.8"/>
<path d="M117.5 29.5V443.5" stroke="#000" stroke-width="1" stroke-dasharray="8.5 4.5" fill="none"/>
<path d="M165.0 29.5V443.5" stroke="#000" stroke-width="1" stroke-dasharray="8.5 4.5" fill="none"/>
<path d="M223.0 29.5V443.5" stroke="#000" stroke-width="1" stroke-dasharray="8.5 4.5" fill="none"/>
<path d="M297.4 29.5V443.5" stroke="#000" stroke-width="1" stroke-dasharray="8.5 4.5" fill="none"/>
<path d="M376.6 29.5V443.5" stroke="#000" stroke-width="1" stroke-dasharray="8.5 4.5" fill="none"/>
<path d="M433.0 29.5V443.5" stroke="#000" stroke-width="1" stroke-dasharray="8.5 4.5" fill="none"/>
<path d="M536.0 29.5V443.5" stroke="#000" stroke-width="1" stroke-dasharray="8.5 4.5" fill="none"/>
<path d="M638.0 29.5V443.5" stroke="#000" stroke-width="1" stroke-dasharray="8.5 4.5" fill="none"/>
<path d="M722.0 29.5V443.5" stroke="#000" stroke-width="1" stroke-dasharray="8.5 4.5" fill="none"/>
<path d="M792.0 29.5V443.5" stroke="#000" stroke-width="1" stroke-dasharray="8.5 4.5" fill="none"/>
<path d="M813.2 29.5V443.5" stroke="#000" stroke-width="1" stroke-dasharray="8.5 4.5" fill="none"/>
<path d="M718 448.5L718 447.4L715 447.3L713 446.3L709.3 443.5L706 442.2L703 439.5L702 439.4L701 438.5L699 438.4L698 439.1L687 433.5L684 433L679 429.5L678 429.4L664 422.2L661 419.5L658 418.4L657 417.5L656 418.3L654 417.4L649 414.3L644 412.4L643 411.5L640 410.8L639 409.5L635.4 407.5L630 405.7L622.7 400.5L620 400.4L617 398.4L612 393.5L608 391.9L604.2 389.5L598 387.4L594 383.5L589 381.9L585.3 377.5L584 377.1L579 373.3L578 371.5L576.6 370.5L562 362.5L559 362.2L557 361.3L555 360.1L554 358.5L552 357.5L549 356.5L548 357.4L546 357.3L541 355.4L540 354.5L538 354.3L533.1 351.5L525 350.2L521.4 348.5L518 348.1L514 346.5L511 346.8L507.1 345.5L504 345.4L502.1 341.5L500 334.4L488 331.4L487 330.5L484 330.3L481.7 328.5L478 327.5L477 327.5L476 328.4L474 328.3L465.3 326.5L460 326.3L458 325.5L454 325.4L449.5 323.5L446 323.5L445 324.1L436 322.2L432.4 320.5L430 320.4L429 319.5L427 319.1M406.2 301.5L403 299.3L394.7 290.5L393.5 289.5L392 289.2L389.1 286.5L388 286.1L385 282.5L375.8 276.5L371 277L367 275.5L363 275.5L360 276.1L357 275.3L356 274.3L354 273.6L352 273.3L349.9 273.5L349 274.2L342 273.9L339 273.3L334 271L331.1 268.5L330 268.4L326.3 264.5L326 263.5L311.2 250.5L310 247.5L307.4 244.5L305.2 240.5L304 234.5L303.1 233.5L303 231.5L302.2 230.5L302 228.3L300 222.2L286 221.2L282.1 218.5L278 219.4L275 219.5L274 218.9L267.1 211.5L262 208.2L256 202.5L253 201.2L251 199.4L232 181.1L226.1 174.5L222.2 171.5L209 156.5L207 154.5L205 153.4L183.1 131.5L180 130L171 120.5L170 120.4L168 118.9L162.2 112.5L148 99.7L141 92.5L137 89.9L129.1 82.5L127 81.4L122.1 75.5L121 72.5L119 70.5L115 68.4L111.4 64.5L110 62.5L110 61.5L104 55.5L103 55.5L100.1 53.5L99 53.5" fill="none" stroke="#000" stroke-width="4" stroke-linecap="butt"/>
<path d="M825 367.3L823 365.5L815 361.5L808 358.6L806 358.9L804 358.4L796 353.8L778 346.5L768 340.7L766 339.9L763 340.1L760 338.7L757 336.2L749 332.9L746 330.4L743 328.8L736 318.7L733.3 317.5L729 316L718 314.4L715 312.3L708.4 310.5L702 310.1L696 307.5L690 307.1L683.4 304.5L677 304.2L670 302.7L666 301.1M625 287.6L611 284L599 280.3L592 277.5L586 275.8L582 275.7L580 275L577 272.5L574 271.6L571 271.9L568 270.9L566 269.5L559 266.4L538 259L532 256.2L529 253.7L526.2 252.5L523 252.1L508 246.1L504 243.4L501 242.5L499 242.8L485 239L478.9 236.5L475 235.9L472 234L466.9 229.5L456 223.4L448 220.7L445 221.1L442 220.1L438.6 217.5L432 214.8L430 214.4L426 214.8L413.6 211.5M373 195.7L370 194.6L368 194.6L366 194L358.1 188.5L352 185.8L349 183.1L334 178.1L329.3 175.5L325 175L316 160.3L313 160.6L311 159.7L307 156L303.8 154.5L301 154L297 151.9L286 144L281 141L277 136.6L270 130.5L250 117.3L238 111.4L227 106.8L202 90.9L200 88.5L195 85L184.8 81.5M152 66.8L141 58.4L127 56.1L124 55.3L121 53.2L118 52.3L116 52.5L113 52L109 49.6L99 46.6" fill="none" stroke="#000" stroke-width="4" stroke-linecap="butt"/>
<path d="M553.3 23.5L553.4 35.5M560 48.8L561 49.5L563 49.8L570 48.2L601 48.9L607 48.8L611 47.8L613 47.9L616 49.6L619 49.7L622 48.2L624 48.3L628 50L637 50.5L641.3 51.5L643.1 51.5L646 49.7L647 49.7L649 49.8L652 51.5L655 51.5L658 50L660 49.9L668 50.8L670 51.8L673 51.8L675 50.8L679 50.6L685 50.8L687 51.8L690 52L692 51.6L694 50.1L696 50.1L701 51.2L703 51.2L706 50.3L712 50.4L718 51.5L724 51.6L728 52.3M755 51.8L758 51.8L760 52.4L781 50.6L784 51.6L786 51.6L787 51.5L790 49.8L799 49.7L801 48.8L805 48L808 48.6L811 48.4L814 49.5L825 48.3M825 298.5L820 296.5L817 297.2L808 294L805 291.1L799.6 289.5L786 276.4L781 274.6L766 267.5L763 267.4L761 266.5L757 263.2L748 259.9L730.8 250.5L727 250L721 246.9L706 244.7L703 243L700 242.1L697 242.1L688 240.3L676 239.4L673 237.4L667 236.2L652.3 230.5L646 226.6L644 226.1M620 216.5L604 212.8L601 212.8L599 212.3L593.1 209.5L574 203.9L571 202.1L569 201.5L559 201L538 198.8L535 196.5L527 192.2L521 191.8L517 189.9L514 189.2L497 186.2L490 185.7L487 186.2L484 186L481 185.1L454 180.8L448 180.2L445 181.3L442 180.9L439 179.8L437 179.6L433 174.5L419 167.5L415 164.2L412 162.4L408 161.3L403 157.6L400 156.6L397 157.2M373 145.3L364 141.3L360 140.4L339.7 125.5L334 122.4L330 121.2L322 115.5L319 115.1L315 113.1L299.9 103.5L286 98.4L283 98.8L280 97.7L276.5 95.5L268 91.8L265 89.5L260 87.9L253 84.1L252 83.4L250 79.6L245 69L243 63.2L238 63L235 63.8L217 62.1L208 60.2L199 57.6L193 56.4L185 56L180.9 54.5L176 53.7M156 50.8L144 48.5L133 47.6L125 45.9L119.9 43.5L113 43.2L108 40L103 40.1L102 39.4L99 39.2" fill="none" stroke="#000" stroke-width="4" stroke-linecap="butt"/>
<path d="M825 211.5L823 210.7L820 210.7L817 212.1L814 212L799 209.7L787 209.3L778.9 205.5L776 203.1L772 200.9L769 201.1L765 200.4L754 197.8L748 196.9L745 197.3L741.3 196.5L739 194.8L732.1 194.5L722 192.5L712.7 186.5L707 181.9L703.5 180.5L697 176.3L691 171.1L682 168.7L680 167.2L677 166L660 161.3L658 160.9L655 161.2L643 158.3L637 157.9M595 150.4L589 149.3L582 149.7L562 148.9L556 148.2L554 147.3L550 146.7L541 146.7L538 146.1L535 144.4L532 143.7L529 144L516 142L508 139.5L505 140.8L504 140.6L502 140.1L498.8 137.5L496 137.1L492 137.8L486 135.5L478 134.4L475.2 132.5L472 131.5L470 132L460 129.4L457 129.1L449 127.2L443 124.9L436 124.1L430 121.7L427 122L412 116.4L409 117.2L400 114.3L397 115.1L372 108.8M332 94L328 92.3L322 86.9L316 84L313 81.3L308 78.3L298.3 75.5L294 74.8L292.1 73.5L292.4 72.5L297 69.7L305 68.7L313 69.4L317 70.4L322 69.5L331 70.3L334 69.6L337 69.8L340 71.1L352 71.9L355 71.8L358 70.6L379 70.7L382 69.9L385 69.8L394 70.9L397 70.9L400 70L414 70.2L424 71.6L432 71.7M474 71.9L481 71.5L487 72.5L490 71.9L493 72.3L496 73.6L505 74.5L508 73.4L517 74.8L527 75.1L529 75.4L532 77.6L535 77.8L538 77.3L547 77.8L557 77.3L563 78.1L576 77.3L593 77.3L598 76.6L610 76.2L619 77.5L625 77.5L628 78.6L632 78.6L634 78L643 78.4L646 77.9L655 78.7L658 77.4L667 78L670 79.6L677.8 80.5L682 79.8L691 80.6L695 79.7L709 80.8M751 81.4L754 82.2L768 81.1L770 81.6L772 83L775 83.1L784 82.3L799 82.5L802 81.8L809 81.7L811 81.7L814 82.8L821 82.2L825 82.9" fill="none" stroke="#000" stroke-width="4" stroke-linecap="butt"/>
<path d="M358 39.5L385 38.2L414 40L420 41.5L395 44.3L368 43.6Z" fill="#b3ff4c" stroke="#000" stroke-width="3" stroke-linejoin="round"/><path d="M270 34L296 32.6L322 34L296 35.4Z" fill="none" stroke="#000" stroke-width="0.9"/><path d="M148 30.8L163 29.8L191 31.2M150 35.6L170 36.6L191 35.4M221 44L232 44M186 56L192 57" fill="none" stroke="#000" stroke-width="3.6"/><path d="M553.5 29.5V33.4L593 34L590 38L610 42.4L565 43.8L606 47L534 48L501 49.6L560 50.2" fill="none" stroke="#000" stroke-width="3.4" stroke-linejoin="round"/>
<text x="453.0" y="78.8" transform="rotate(0 453.0 72.0)" font-size="19" text-anchor="middle" font-family="Liberation Sans, sans-serif" fill="#000">36.5</text>
<text x="352.0" y="108.8" transform="rotate(22 352.0 102.0)" font-size="19" text-anchor="middle" font-family="Liberation Sans, sans-serif" fill="#000">36.5</text>
<text x="385.0" y="157.8" transform="rotate(27 385.0 151.0)" font-size="19" text-anchor="middle" font-family="Liberation Sans, sans-serif" fill="#000">36</text>
<text x="393.4" y="210.8" transform="rotate(18 393.4 204.0)" font-size="19" text-anchor="middle" font-family="Liberation Sans, sans-serif" fill="#000">35.5</text>
<text x="416.0" y="317.8" transform="rotate(30 416.0 311.0)" font-size="19" text-anchor="middle" font-family="Liberation Sans, sans-serif" fill="#000">35</text>
<text x="741.5" y="59.3" transform="rotate(0 741.5 52.5)" font-size="19" text-anchor="middle" font-family="Liberation Sans, sans-serif" fill="#000">36</text>
<text x="730.0" y="91.3" transform="rotate(3 730.0 84.5)" font-size="19" text-anchor="middle" font-family="Liberation Sans, sans-serif" fill="#000">36.5</text>
<text x="615.4" y="162.3" transform="rotate(6 615.4 155.5)" font-size="19" text-anchor="middle" font-family="Liberation Sans, sans-serif" fill="#000">36.5</text>
<text x="632.8" y="226.1" transform="rotate(22 632.8 219.3)" font-size="19" text-anchor="middle" font-family="Liberation Sans, sans-serif" fill="#000">36</text>
<text x="645.0" y="302.8" transform="rotate(13 645.0 296.0)" font-size="19" text-anchor="middle" font-family="Liberation Sans, sans-serif" fill="#000">35.5</text>
<text x="167.0" y="83.8" transform="rotate(28 167.0 77.0)" font-size="19" text-anchor="middle" font-family="Liberation Sans, sans-serif" fill="#000">35.5</text>
<text x="166.0" y="59.3" transform="rotate(12 166.0 52.5)" font-size="19" text-anchor="middle" font-family="Liberation Sans, sans-serif" fill="#000">36</text>
<text x="177.0" y="44.3" transform="rotate(12 177.0 37.5)" font-size="19" text-anchor="middle" font-family="Liberation Sans, sans-serif" fill="#000">36</text>
<text x="190.0" y="37.8" transform="rotate(12 190.0 31.0)" font-size="19" text-anchor="middle" font-family="Liberation Sans, sans-serif" fill="#000">36</text>
<text x="432.6" y="47.4" transform="rotate(2 432.6 40.6)" font-size="19" text-anchor="middle" font-family="Liberation Sans, sans-serif" fill="#000">36</text>
<text x="519.5" y="56.6" transform="rotate(2 519.5 49.8)" font-size="19" text-anchor="middle" font-family="Liberation Sans, sans-serif" fill="#000">36</text>
<text x="553.5" y="50.3" transform="rotate(0 553.5 43.5)" font-size="19" text-anchor="middle" font-family="Liberation Sans, sans-serif" fill="#000"></text>
</g>
<path d="M105.7 44.8L112.5 57.5L114.8 60.8L117.2 64.1L119.5 68L121.9 71.5L124.2 74.3L126.9 76.6L129.7 79L132.6 82L135.4 85.4L138.4 88.7L141.5 91.2L144.7 93L147.8 94.9L150.9 98L153.9 101.3L156.9 103.6L159.9 106.5L162.9 109.4L165.6 111.8L168.3 115.2L171 118.6L173.7 121.1L176.6 124.1L179.6 127L182.6 129.1L185.6 132L188.6 135.2L191.6 137.8L194.6 140L197.5 142.3L200.5 145.2L203.4 148.2L206.2 151L209.1 154.1L211.9 157.5L214.8 160.3L217.6 162.6L220.5 165.3L223.3 168L226.2 170.8L229 173.9L231.9 176.9L234.7 179.6L237.6 182.6L240.4 185.6L243.3 188.6L246.1 191.4L249 194L251.9 196.8L254.9 199.4L257.9 202.1L260.9 205L263.9 207.6L266.9 209.7L269.9 211.8L272.9 214.8L276 218.2L279.3 220.8L282.4 223.7L285.4 226.6L288.5 228.6L291.6 230.3L294.6 233L297.7 236L300.7 238.8L303.8 242.3L306.8 245.3L309.9 247.5L313 249.8L316.1 252.1L319.1 254.1L322.2 256.6L325.3 259.7L328.3 262.7L331.4 264.9L334.4 267L337.4 269.7L340.4 272.5L343.4 275.1L346.4 277.7L349.5 280.7L352.5 283.8L355.4 287L358.2 290L361 292.5L363.7 295.4L366.5 298.8L369.3 302L372 304.8L374.8 307.9L377.6 310.4L380.4 312.7L383.4 315.5L386.5 318L389.6 320.7L392.7 323.8L395.7 326.1L398.8 328.2L401.9 330.8L404.9 333.1L407.9 336.1L410.9 339.4L413.9 342.1L416.8 344.9L419.8 348L422.4 351.3L424.9 353.8L427.4 356.2L429.9 359.4L432.1 362.9L434.2 366.1L436.3 369.9L438.5 374L440.6 377.8L442.8 381L445.1 383.2L447.4 386.4L449.8 390L452.1 392.9L454.5 396.2L457.1 399.5L459.7 402.7L462.4 406.3L466.1 408L469.7 408.8L473.4 410.8L477.1 413.3L480.9 414.7L484.8 414.5L488.8 415.1L492.7 416.9L496.7 417.7L500.6 417.7L504.6 418.5L508.5 420.1L512.4 420.8L516.4 421.2L520.4 421.9L524.4 422.7L528.4 422.6L532.4 422.2L536.4 421.7L540.5 422.1L544.5 422.3L548.5 421.3L552.3 419.6L556 418.3L559.7 416.5L563.3 414.7L567 413.2L570.4 411.9L573.9 410.2L577.3 407.7L580.8 405.1L584.2 403.2L587.5 401.7L590.8 400.1L594.1 397.6L597.4 394L600.9 391.7L604.5 391L608.1 389.6L611.5 387.1L614.9 385.1L618.2 383L621.8 381L625.3 378.7L628.9 376L632.5 374.4L636.2 376L639.9 376.7L643.4 375.2L647 373.1L650.8 372.4L654.8 372.9L658.8 373.5L662.6 373.5L666.1 371.4L669.5 369.6L672.9 367.6L676.3 365.4L679.7 363.2L683.2 360.8L686.9 359L690.7 358.2L694.7 358.8L698.7 359.7L702.5 360.1L705.8 357.7L709.1 354.6L712.4 352L715.6 349.7L718.9 347.4L722.1 345.1L725.3 343.2L728.6 341.1L731.8 338.4L734.9 335.9L738.1 333.6L741.2 330.7L744.4 327.8L747.5 325.9L750.4 323.6L753.2 320.2L756 316.9L758.9 314.4L761.7 311.8L764.5 308.5L766.8 305L769.2 302.5L771.5 299.5L773.9 295.5L776.2 291.7L778.6 288.4L780.9 286L783.1 283L785.4 279.3L787.6 275.6L789.9 271.6L792.1 268L794.3 264.9L796.6 261.6L798.7 258.3L800.8 255.3L802.9 251.8L804.9 247.8L807 244.2L809.1 241.3L811.2 237.8L814 238L814 443.5L105.7 443.5Z" fill="#fff" stroke="#000" stroke-width="5.4" stroke-linejoin="miter" stroke-miterlimit="3"/>
<path d="M105.0 46.25V29.5H814.5V235.0" fill="none" stroke="#000" stroke-width="1.1"/>
<path d="M105.0 81.2h7M814.5 81.2h-7M105.0 133.0h7M814.5 133.0h-7M105.0 184.8h7M814.5 184.8h-7M105.0 236.5h7M814.5 236.5h-7M105.0 288.2h7M814.5 288.2h-7M105.0 340.0h7M814.5 340.0h-7M105.0 391.8h7M814.5 391.8h-7M109.0 29.5v7M109.0 441.0v-7M251.3 29.5v7M251.3 441.0v-7M394.0 29.5v7M394.0 441.0v-7M536.6 29.5v7M536.6 441.0v-7M679.2 29.5v7M679.2 441.0v-7" stroke="#000" stroke-width="1" fill="none"/>
<clipPath id="cp2"><rect x="105.0" y="468.2" width="709.5" height="414.00000000000006"/></clipPath>
<g clip-path="url(#cp2)" stroke-linejoin="round">
<rect x="103.0" y="466.2" width="713.5" height="418.00000000000006" fill="#00008f"/>
<path d="M99 462.2L825 462.2L825 888.2L750.4 888.2L742 885.6L739 885.5L731 883.7L729 882.7L727 881.1L722 879.7L718 879.3L715 878.1L703 878.4L700 878.1L698 877.1L694 876.7L685 877.5L676 875.6L674 874.2L670 873.3L668 873.5L664 872.9L661 873.6L658 873.1L655 871.2L652 870.9L649 871.8L640 870.8L635 868.4L623 865.4L619 865.5L616 864.9L613.9 863.2L612 862.4L606 862L590 858.6L580.1 855.2L571 853.6L564.1 851.2L557 849.6L552.6 847.2L535 843.5L532 842.6L530 841.1L527.6 840.2L514 836.8L510 834.1L507 833.5L505 833.6L502 832.7L497 830.2L490 828.2L487 828.2L478 825.8L475.8 824.2L472.8 823.2L463 821.8L455.5 819.2L451 818.9L446 817.7L442 816.2L437.4 813.2L436 812.7L433 812.8L430 809.6L427 805.1L415 793.3L406 782.8L402.4 779.2L394 769.1L388 763L385 758.5L382 755.3L380 754.1L374.1 748.2L364 739.3L358.1 733.2L356 732L342 720.6L338 716.2L331 709.6L324 704.1L318.5 698.2L316 696L313 694.8L300 682.2L294 678.1L277 662.1L270 656.9L256.7 642.2L253 637.4L243.2 628.2L240 623.9L232 616.5L228 613.7L216.9 601.2L213.6 598.2L211 596.9L208 594L203.7 588.2L201.4 586.2L200 585.9L199 585.1L184 570.2L181 568.2L176 563.7L172 559.7L169 555.4L166.7 553.2L158 547.7L137.2 531.2L132 528.6L130 527.1L123.2 518.2L120 513.2L113.1 506.2L109.2 501.2L109 500.2L106.1 497.2L105 495.2L99 495.2L99 462.2Z" fill="#00009f" stroke="#000" stroke-width="0.8"/>
<path d="M99 462.2L825 462.2L825 885.3L820 884.9L814 882.6L811 882.9L808 881.9L805 879.7L803 879L796 876.8L793 876.9L791 876.2L784 873.5L781 871.6L757 863.5L745 857.9L733 854L722 849.5L712 848.4L701 849.5L697 848.3L681.1 848.2L676 847.6L673 846.4L665 845.6L663 845.7L661 846.5L652 845.4L646 845.2L643 845.7L639.1 845.2L637 843.7L629.1 841.2L624 838.4L622 837.7L618 837.4L606 832.6L598 830L594 829.2L580 823.1L574 821.1L571 820.7L562 816.7L556.6 815.2L538 807.8L535 805.5L533 804.6L529 804L526 802.8L523 800.4L515 797.2L508 793.9L505 793.9L496 790L493 789.5L484 786L480 785.7L478 785L475 783.1L463 779.3L460 778.6L457 778.9L446 776L442 773.8L439 770.2L437 769L435 768.3L434 769L433 768.9L424 760.6L420.9 756.2L418 753.6L415 752L411.1 748.2L409 745.4L397.9 735.2L394 731.7L391 730.1L388 727.4L376 715.1L372 713.6L365 708.2L358.4 704.2L356 703.5L353 701.9L346.5 697.2L343 696.1L336 691.2L328 686.8L319 680.3L316 678.6L313 678.1L301 669.6L298 667.8L295 666.7L288 660.4L270 646.2L254 625.2L244 615.2L241 611.3L232 603.1L229 600.9L216 587.4L214 585.7L211 584.4L208 581.7L204.6 577.2L202 575L199 573.8L190 565L185 559.1L181 556.5L178 553.6L166 540.6L157 535.9L140 525.2L130 520.4L120.8 509.2L118 506.2L115 504.1L105 492.8L99 492.6L99 462.2Z" fill="#0000bf" stroke="#000" stroke-width="0.8"/>
<path d="M99 462.2L825 462.2L825 860L820 860.3L817 858.3L815 857.6L813 857.3L811 857.8L808 856.8L803.2 854.2L792 851.4L772 842.3L767 839.3L763 838.5L754 833.5L750 832.9L745 830L732.4 824.2L724 821.1L721 819.1L718 818.1L715 817.8L700 813.2L695 812.4L691 810.2L682 808L679.2 806.2L677 805.5L673 804.8L665.3 802.2L659 800.9L652 798.1L649 798.1L646 797.1L643 796.8L634 793.6L632 792.2L619 787.9L592 781.8L589 780.1L577 776.2L568 773.9L563 771.9L558 771.7L550 768.5L538 764.6L533.3 762.2L529 761.8L522.3 759.2L508 755.6L505 755.6L502 754.8L499.8 753.2L496.9 752.2L478 748.3L472 747.7L468 746.3L466 746L463 746.4L446 744.2L445 743.7L442 741.9L439 738.6L436 736.9L434 737L432 736.3L420 727.6L418 726.5L415 725.9L412 724.1L409 721.1L407 719.8L400 716.2L397 715.3L390.7 712.2L382.5 707.2L380 704.9L372.1 700.2L365 694.6L357 689.7L353.8 688.2L351.2 686.2L349 683.7L346 681.6L342.2 680.2L336 675.5L328 670.8L325 668L312 660.3L298 650.4L295 649.4L288 643.9L273 634.2L270 631.7L255 609.8L241 595.4L229 585.5L223 579.2L217 574.6L214 572.6L210 571L208 569.7L205 566.5L202 564.6L200 564.5L199 563.8L190 555.3L186 550.2L179 544.7L175 539.9L165 530L157 526.8L142.3 519.2L130 514.3L121 504.9L118 502.2L115 500.4L105 490.8L99 490.6L99 462.2Z" fill="#0000ef" stroke="#000" stroke-width="0.8"/>
<path d="M99 462.2L825 462.2L825 839.8L823 840.6L820 840.7L818 838.8L816 837.8L814 837.1L811 837.5L805 835.1L796 832.3L793 830.7L778 824.9L767 819.3L762 818L760 817.1L756 813.8L754 813L752 813.1L750 812.6L745 809.6L736 806.3L721 799L715 797.4L700 792.2L697 792L695 791.3L691 788.8L679 784L661 779.5L658 778.5L654 776.2L649 775L640 771.8L637 771.4L622 766.5L619 765.1L604 761.8L593 760.1L588 756.9L574.4 754.2L568 752.3L563 750L557.4 749.2L550 746L547 746.3L544 745.3L538 743.2L535 741L532 739.7L529 739.6L520 735.2L517 734.7L508 731.1L503 729.7L501 728.4L499 726.2L496.6 725.2L484 721.8L480 719.7L478 719.1L474 719L469 716.8L466 716L463 716L448 712.8L446 711.9L435 702.2L429 698.6L427 696.8L424 695.4L421 695.4L420 695L409 689.4L406 688.3L403 688.2L395 685.7L376 677.1L364 669.5L353 663.3L349 659.9L328 648.3L324 645.5L317.1 642.2L312 638.7L306 635.8L298 631L292 628.3L281 621.6L277 620.3L274 618.7L270 615.3L255 591.3L250 586.9L245 581.3L232 571.2L226 566L223 562.8L214 558.7L211 558.3L208.4 557.2L204 554.8L202 554.1L200 554.3L199 553.8L190 546.4L187 542.5L184 540L180.8 538.2L174 531.4L165 523.7L157 520.6L143 513.6L130 508.8L120.3 500.2L118 498.4L115 496.9L105 489L99 488.8L99 462.2Z" fill="#0020ff" stroke="none"/>
<path d="M99 462.2L825 462.2L825 819.8L823 820.7L820 820.7L816 818.2L811 817.1L802 814L793 809.8L780 804.8L772 800.9L763 797.6L760 796.2L757 793.1L754 791.7L751 791.4L742 786.9L738 785.9L736 784.9L733 782.4L730 780.9L707 772.2L695 769.6L691 766.8L684 764.2L675 761.5L664 759L660 757.2L652 754.9L640 750L637 750L628 746.4L622 744.6L618 742L616 741.4L613 741.6L610 740.8L606.7 739.2L601 738.1L593 735.8L591 734.7L589 732.8L587 732.1L583 731.9L574 728.8L570 728.2L565 725.7L556 722.3L551 719.7L547 719.2L538 716.1L534 714L526 711.9L522 709.6L514 707.1L511 706.8L505 705.1L502 704L499 702.1L484 698L481 696.4L478 695.7L475 696L468 693.9L460 692.3L451 691.2L446 689.8L433 680.6L426 676.4L424 675.5L421 675.4L418 674L415 671.3L413 670.4L402 666.8L388 660.8L383.9 658.2L376 655L346 633.8L341.9 630.2L340 629L337 627.9L329 622.8L325 619.7L316 614L311 609.9L307 608.5L296 602.2L286 597.9L283 595.7L280 594.4L277 594.3L270 590.4L255 571L250 567L246.7 563.2L232 553L223 545L207.3 537.2L202 535.1L200 534.8L193 531.4L190 529.7L187 527.1L178 522L174.2 519.2L165 514.1L157 511.1L143 504.6L130 500.1L119.2 494.2L115 493L105 488.1L99 487.7L99 462.2Z" fill="#0040ff" stroke="#000" stroke-width="0.8"/>
<path d="M99 462.2L825 462.2L825 799.8L820 800.2L808 795.3L802 793.5L799 791.9L787 787.8L769 780.4L760 776.1L757 773.1L755.2 772.2L751 771L736 765.1L733 762L730 760.6L727 760.5L722 758L712 755.3L706.5 753.2L700 751.6L697 752.1L695 751.6L693 750.7L691 748.9L667 743L664 741.9L661 739.6L658 738.5L656 738.8L654 738.4L643 733.4L637 731.3L628 727.3L622 725.3L618 722.5L616 721.8L613 721.9L598 716.7L589 711.9L582 709.6L574 705.8L572 706.3L570 705.9L556 699.5L553 697L551.3 696.2L547 695.1L537 691.1L520 686.1L515.3 684.2L514 683.9L511 684.3L509 683.8L481 675.5L467 674.1L460 672.5L451 672L446 671L424 659.1L419 657.2L414 653.4L407 650.9L402.5 648.2L393 643.9L384.8 639.2L376 634.9L365 627.8L358 622.1L355 620.9L347 616L340 610.7L328 604.5L325 601.9L310 592.3L301 588.9L297 586.5L286 582.1L283 580.1L280 578.9L277 578.5L270 575.8L262 566.7L259 564.1L255 559.6L250 555.7L247 552.6L232.5 542.2L223 533.9L209.6 526.2L207.5 525.2L205 524.7L197 521.2L193 520.4L184 516.9L181 515.1L157 506L142.6 499.2L139 498.4L119 491L115 490.4L104 487L99 486.9L99 462.2Z" fill="#0070ff" stroke="#000" stroke-width="0.8"/>
<path d="M99 462.2L825 462.2L825 779.4L820 779.2L818 778.7L808 774.5L805 773.9L796 770.7L792.8 770.2L784 766.6L776 764.2L760 756.8L757 754.2L754 752.8L748 750.4L746 750.2L737 747.2L735 745.8L733 743.5L731 742.6L729 742.2L727 742.7L721 739.9L713 738.1L709 736.6L702 734.8L700 734.4L697 735.2L694 734.5L691 732.7L682 730.8L676 730.2L670 727L668 727.1L666 726.5L664 725.7L661 722.7L658 721.4L656 721.8L653.7 721.2L640 714.7L635 711.8L622 707.3L619 704.7L616 703.5L613 703.2L601 699.1L574 687.2L572 687.5L570 687.1L564 683.9L556 681.1L553 678.5L538 672.3L535 672.3L532 671.5L514 665.6L511 665.7L505 664.8L487 658.5L473 655.7L469 656.3L466 656L463 654.8L448 653.3L433 648L418 640.6L414 637.8L408 635.7L402 631.9L400 630.9L396.9 630.2L373 618L364 611.8L361 608.7L358 606.6L355 605.8L340 595.5L328 589.3L325 586.2L310 577.1L283 565.2L274 562L270 561.2L262 553.7L259 551.7L232 529.5L223 521.5L214 518.5L211 516.6L208 515.5L205 515.6L198 512.9L195 512.3L193 512.4L185 510.5L180.7 508.2L164 503.7L160 502.1L157 501.4L142 495.2L139 494.9L119 488.9L109 487.6L104 486.2L99 486.1L99 462.2Z" fill="#009fff" stroke="#000" stroke-width="0.8"/>
<path d="M99 462.2L825 462.2L825 754.1L818 753.2L808 749L792 745.4L785 740.9L783 740.2L781 740.2L778 738.6L766 731.5L748.8 720.2L742 716.9L738 715.7L736 714.6L733 711.5L730.6 710.2L727 709.9L722 706.9L718 706.8L715 706L708 706.4L688 705.7L682 705.7L679 706.5L676 706.5L673 704.6L671 703.9L669 703.6L667 704L664 703.1L661 700.5L659 699.8L657 699.6L655 699.9L641.6 695.2L639.4 694.2L637 692.2L634 690.9L628 689.1L626 689.1L623 688.2L618 684.8L612.7 683.2L589 674.1L581 670.4L572 668L562 663.7L558 662.9L547 656.7L538 653.4L535 653.6L532 653L514 647.9L505 647.2L492 641.7L487 640.3L478 639L475 637.9L472 637.5L469 639L466 638.7L463 637.7L454 637L451 636.2L445 635.5L436 633.5L433 633.2L424 628.8L415 623.2L406 619.2L403 616.6L401 615.5L397 614.1L382 606L373 601.9L364 595.7L361 592.6L359 591.3L357 590.4L355 590.1L340 579.8L329 574.7L327 573.2L325 570.9L312 563.6L297 556.7L292 555.4L282 551.3L274 548.7L270 548.6L264 544.2L255 539.2L244 530.6L223 512.8L214 511.6L211 509.7L208 509.1L205 509.8L196 507.3L193 507.4L184 505.9L181 503.9L169 501.5L160 498.5L157 498L142.2 492.2L139 492L128 488.9L118 487L109 486.5L103 485.3L99 485.2L99 462.2Z" fill="#00bfff" stroke="#000" stroke-width="0.8"/>
<path d="M99 462.2L825 462.2L825 729.7L817 728.8L814 727.9L810 725.4L802 723.2L799 723.3L793 721.7L784 717.8L781 717.2L778 715.8L775 713.4L766 709L763 707L754 703.2L750 700.2L740.5 696.2L731 691.1L729 690.5L727 690.6L722 687.9L713 686.1L709 686.4L706 686L700 684.4L697 683.1L688 681.5L685 681.7L676 680.8L653 667.7L647 663.8L641 661.1L637 657.9L628 656.3L624 656.6L610 652.8L607 651.6L593.5 648.2L580 645.6L577 645.8L575 645.4L562 641.6L558 641.6L545 636.9L533 635.6L529 634.1L519.9 632.2L505 630.5L496 626.7L492 624.3L478 623.1L475 621.8L473 621.6L471 622L469 623.2L462 622.6L454 622.7L451 621.2L445 621.4L433 619.5L425 615.3L415 608.6L406 603.6L403 601L384.9 590.2L379 587.5L365 579.6L359.1 575.2L355 573.9L346 568.8L340 564.8L334 562.3L329 560.8L327 559.5L324.8 557.2L304 547.9L276 539L274 538.6L272 539L270 538.8L264.6 536.2L255 533.1L250 528.7L244 524.6L223 506.9L221 506.2L218 506.5L214 505.9L212 504.2L208 503.2L205 504.1L202 503.6L198 502.1L184 501.7L181.7 500.2L179 499.2L175 499.4L165 497.5L149 492.7L143.4 490.2L138 489.9L128 487.1L124 486.9L121 486.1L109 485.7L103 484.6L99 484.6L99 462.2Z" fill="#00efff" stroke="none"/>
<path d="M99 462.2L825 462.2L825 702.6L816 702.1L811 700.7L802 699.6L799 700L796 699.5L787 696.9L778 693.5L775 691.4L763 685.8L754 682.7L750 679.9L730 672.1L727 671.5L722 669.4L718 668.7L715 667.6L712 667L709 667.3L706 666.6L703 665.1L694 662.2L676 658.8L674 658.1L670 656.1L666.1 653.2L659 650.6L655 647.6L649 644.3L642 641.5L637 638.3L634 637.9L631 638.2L628 637.8L625 638.3L623 638L619 636.3L605 634.1L594 631.3L574 629.5L565 627.1L562 626.6L559 626.9L556 626.4L547 623.5L535 622.3L527 619.8L514 617.4L509 617L505 616.1L498.9 613.2L496 611.7L492 608.8L487 608.9L478 608L475 606.6L472 606.3L469 607.4L455 607.1L453 606.6L451 605.3L448 605.1L445 605.7L435 604L426.4 600.2L406 588.4L397 582.7L383 575.3L379 573.9L370.7 569.2L364 566.4L359.1 563.2L348 558.8L340 554.4L334 552.1L331 551.8L328 550.7L325 548L304 540L297 538L292 537.1L274.6 532.2L270 532.5L264.6 530.2L256 527.6L250 523.3L247 522.1L238 516.1L234.9 513.2L223 505.1L220 504.6L217 504.9L215 504.6L213 503.9L211 502.4L208 501.9L205 502.7L202 502.2L198 500.7L184 500.3L181 498.5L175 498L165 496.1L160 494.5L157 494.1L142.6 489.2L139 489.2L128 486.6L118 485.3L109 485.1L103 484.1L99 484.1L99 462.2Z" fill="#20ffdf" stroke="#000" stroke-width="0.8"/>
<path d="M99 462.2L825 462.2L825 672.4L817 672.5L802 670.5L797 670.3L793 668.5L790 667.8L787 667.9L778.8 666.2L775 664.6L772 663.9L768.8 664.2L762 662.1L754 660.9L750 658.8L744 658.3L736 656.7L729.3 656.2L718.8 654.2L715 652.6L706 650.4L694 644.9L690.2 644.2L684 641.6L673 638.5L670 637.1L667 634.6L664 633.3L659.7 632.2L658 631.4L655 628.6L637 619.9L634 619.6L631 620.3L628 620L624 620.5L622 620.2L619 618.7L610 617.1L606 617.5L598 615.9L594 614.3L580 613.3L574 613.3L571 612L562 611.1L558 611.2L553 609.6L547 608.5L535 607.2L528 604.8L514 601.4L511 601.3L505 599.8L496 594.5L492 591.3L487 591.4L479 590.6L475 589L472 588.6L460 588.5L454 587.7L450.1 586.2L439 585.6L436 584.8L430 581.6L418 577.8L409 572.8L400 569.7L397 567.6L394 566.3L391 565.6L382 561.8L378 560.8L371 557.3L364 555.1L358.5 552.2L352 550L349 549.6L340 545.8L334 543.9L331 543.9L329 543.3L325 540.8L304 534.3L292 532.1L275 527.7L270 528L256.6 523.2L250 519.1L247 518.4L238 513.3L235 510.7L226 506.1L223 504.1L220 503.5L217 503.9L214 503.4L211 501.4L208 500.9L205 501.8L202 501.3L199 500L196 499.5L193 499.8L184 499.3L181 497.4L173 496.6L160 493.4L157 493.1L142 488.4L139 488.5L121 485.1L112 484.5L109 484.7L103 483.6L99 483.6L99 462.2Z" fill="#40ffbf" stroke="#000" stroke-width="0.8"/>
<path d="M99 462.2L825 462.2L825 631.6L823 632.3L817 632.3L796 630.3L793 628.7L790 628L787 628.2L778 625.7L773 623.7L771 623.6L769 624.3L761 622L757 622.1L754 621.5L752 620L750 619.3L748 618.9L746 619.5L744 619.4L739 617.6L724 614.6L703 612.2L694 609.9L691 610.5L688 610L685 607.9L673 607L661 605.1L637 599.3L628 599.1L625 599.9L616 598.6L613 597.2L610 596.8L607 597.8L598 595.8L595 594.4L589 593.4L580 593L577 593.6L574 593.3L571 592.1L559 591.5L550 589.3L536 587.6L526 585.4L520 584.8L515.8 583.2L505 582.4L492 574.6L484 574.3L479 574.8L475 573.7L466 573.1L464 574L462 574.2L442 571.6L439 572.2L436 571.7L430.8 569.2L418 565.9L412 563.2L409 560.9L407.1 560.2L402 559.7L395.1 556.2L390 554.8L378 550.7L373 548.5L366 546.6L361 544.3L354 542.1L352 541.5L349 541.5L335 537.1L329 536.6L325 534.4L319 532.5L304 529L292 527.3L275 523.2L270 523.5L256 518.4L253 516.3L250 514.9L246 514.2L238 510.6L235 508.3L226 504.7L223 503L220 502.5L217 502.9L214 502.4L211 500.4L208 499.9L205 500.8L196 498.6L187 498.7L184 498.3L181 496.4L174 495.7L160 492.3L157 492.1L142 487.7L139 487.9L121 484.7L112 484L109 484.3L103 483.2L99 483.2L99 462.2Z" fill="#70ff8f" stroke="#000" stroke-width="0.8"/>
<path d="M99 462.2L825 462.2L825 592.4L819 592.1L817 592.8L802 587.6L797 585.3L788 584.2L778 584.1L771 583.2L762 583.6L757 582.8L748 582.5L745 581.7L736 580.7L734 581.6L732 581.8L722 580L709 580.3L703 580.9L694 581.2L690 581.8L684 581.4L676 582.3L661 582.6L658 582.8L655 583.9L653 584.1L649 583.2L640 583.9L622 584.1L619 584.6L610 582.8L607 583.8L604 583.5L595 581.2L589 580.4L586 580.3L577 581.3L562 580.1L559 580.2L552 578.9L537 577.6L527 575.3L520 574.5L517 573.2L514 572.6L505 572.4L492 564.3L484 563.7L481 564.6L478 564.5L475 563.6L466 562.8L464 563.9L462 564.2L442 561.3L438 561.5L430 559L419 556.8L412 554.2L409 551.8L407.2 551.2L405 551L403 551.5L400 550.6L398 549.2L395.4 548.2L390 546.9L353 535.2L348 534.8L334 531.2L329 530.8L319 527L311 525.8L304 523.9L292 522.5L280 520.1L275 518.7L270 518.9L256 513.6L252 511.2L250 510.5L247 510.6L241 508.6L238 507.6L235 505.5L226 503L223 501.6L220 501.2L217 501.7L214 501.3L211 499.3L209 499L207 499.1L205 499.8L202 499.4L199 498.1L196 497.6L187 497.7L184 497.3L181 495.3L175 494.8L160 491.2L157 491.1L142 487L139 487.3L118 483.9L112 483.6L109 483.9L103 482.8L99 482.7L99 462.2Z" fill="#9fff60" stroke="#000" stroke-width="0.8"/>
<path d="M99 462.2L825 462.2L825 572.4L823 571.8L820 571.8L817 573.6L815 573.7L811 573L805 572.8L792 573.8L784 572.9L781 573.2L773 572.3L766 572.2L755 570.5L749 570.5L745 568.9L736 567.6L734 568.5L732 568.7L727 567.1L721 566.3L712 566.8L707 566.5L703 567.5L694 567.6L678 569L670 569.2L667 568.3L659 568.6L657 569.1L655 570.2L653 570.3L651 570.1L649 569.1L640 569.9L634 569.8L631 570.5L622 569.9L619 571.1L610 570.1L607 571L604 570.9L601 569.9L589 568.6L586 568.6L583 569.5L577 570L569 570L565 569.5L556 569.5L553 568.8L544 567.9L541 568.5L537 568.2L528 565.8L520 564.8L517 563.4L514 562.9L505 562.8L502 561.2L499 558.6L492 554.6L484 553.8L481 554.9L478 554.9L475 553.9L466 553.1L463 554.6L461 554.5L451 552.7L439 551.6L421 548.7L412 546.6L408.5 544.2L406 543.7L403 544.7L401 544.3L397 542.5L376 537.7L353 530.7L349 530.4L335 527L328 526L317.8 522.2L313 521.8L304 519.1L292 517.8L280 515.7L277 514.5L274 514.1L270 514.5L257 509.6L253.2 507.2L250.3 506.2L247 506.7L242 505.7L238 504.7L235 502.8L226 501.3L223 500.1L220 499.8L217 500.4L215 500.2L213 499.5L211 498.1L208 497.7L205 498.7L202 498.4L199 497.1L196 496.6L185 496.4L183 495.7L181 494.3L173 493.3L160 490.1L157 490.1L142 486.3L139 486.6L119 483.6L112 483.1L109 483.5L103 482.3L99 482.3L99 462.2Z" fill="#bfff40" stroke="none"/>
<path d="M99 462.2L825 462.2L825 555.2L820 554.9L816 555.7L802 554.4L799 555L786 555.3L767 557.1L765 556.8L763 555.8L754 556L751 556.9L749 556.9L747 556.4L745 555.1L736 554.9L733 556L730 555.9L727 555.1L723 555L712 555.7L707 555.5L703 556.6L695 556.5L691 557.3L673 558.8L670 558.8L667 557.8L664 557.9L658 558.2L654 559.6L652 559.7L649 558.6L640 559.5L634 559.3L631 560.1L628 560.1L625 558.8L623 558.8L621 559.1L619 560.3L610 559.2L607 560L605 559.9L601 559L588 557.6L586 557.6L583 558.5L569 558.9L565 558.2L556 557.9L545 556L543 556.1L541 556.8L538 556.6L532 555.6L529 554.6L520 553.6L517 552.4L514 552L511 552.7L505 552.6L502 551.4L499 549.3L493 546.9L487 545.8L484 545.8L481 547L479 547L475 546L466 545.4L464 546.6L462 546.9L454 546L451 545.2L445 545.1L427 543.2L412 540.3L409 538.1L407 537.7L405 537.7L403 538.6L401 538.2L397 536.6L388 534.9L353.2 526.2L328 522.5L317.8 519.2L313 519.1L304 516.8L295 516.1L286 514.6L280 513.5L275 512L270 512.1L257 507.8L253 505.4L250 504.6L247 505L241 503.8L238 503.1L235 501.2L226 499.8L223 498.7L220 498.3L217 499L214 498.6L211 496.6L209 496.3L207 496.4L205 497.2L202 496.9L199 495.6L196 495.2L185 495.1L183 494.5L181 493.1L173 492.3L160 489.2L157 489.2L142 485.5L139 486L119 483L112 482.6L109 482.9L103 481.7L99 481.7L99 462.2Z" fill="#efff10" stroke="#000" stroke-width="0.8"/>
<path d="M99 462.2L825 462.2L825 542.2L814 542L809 542.4L805 541.4L802 541.4L799 542.1L784 542.9L772 544.4L769 545.2L766 545.3L763 543.8L761 543.8L754 544.6L750 545.7L748 545.7L745 543.8L736 544L733 544.8L724 544.1L721 545L706 545.2L701 546.3L695 545.8L691 546.9L676 547.5L673 548.2L670 548.3L667 547.4L664 547.5L658 547.8L653 548.7L649 548L640 548.7L634 548.6L631 549.5L628 549.4L625 547.9L623 547.8L621 548.3L619 549.6L611 548.7L607 549.5L604 549.4L588 547.9L586 548L583 548.8L568 549.3L556 548.4L545 546.5L543 546.7L541 547.6L537 547.4L532 546.7L529 545.7L520 544.9L515 543.7L511 544.3L505 544.3L502 543.5L498 541.5L492 540L487 539.3L484 539.4L481 540.4L479 540.4L475 539.3L466 538.6L464 539.8L462 540.1L454 539.2L451 538.2L445 538.3L437 537.2L427 536.8L412 534.2L410 532.7L408 532L406 531.6L404 532.5L402 532.6L397 531L388 529.5L354 522.2L329 519.4L322 517.9L318 516.4L316 516.1L313 516.5L304 514.5L295 514.1L286 512.5L280 511.4L275 509.8L270 509.9L257 506.2L252 503.6L250 503.2L247 503.6L240.4 502.2L238 501.6L235 499.7L226 498.3L223 497.2L220 496.8L217 497.5L214 497.1L211 495.1L208 494.7L205 495.7L202 495.3L199 494L196 493.6L185 493.8L183 493.2L181 491.8L173 491.2L160 488.2L157 488.3L143 484.9L139 485.3L119 482.5L112 482L109 482.3L103 481.2L99 481.2L99 462.2Z" fill="#ffdf00" stroke="#000" stroke-width="0.8"/>
<path d="M99 462.2L825 462.2L825 533.2L821 533.5L814 532.8L810 533.3L805 532.5L802 532.5L799 533.1L792 533.1L784 534.1L768 537L766 537.1L763 535.7L760 535.8L757 536.8L754 537L751 538L749 538.2L748 538.2L746 536.7L744 536.3L733 537.4L724 537.3L721 538.5L707 538.1L701 539L696 537.9L694 538L691 539L676 538.8L673 539.6L670 539.6L667 538.9L652 539.1L649 538.6L634 538.9L629 539.8L627 539.3L625 538L623 538L621 538.5L619 539.8L616 539.8L613 539L610 539L606 539.9L588 539.1L583 539.9L568 540.6L556 539.9L545 538L543 538.3L541 539.3L536 539.2L515 536.1L511 536.7L505 536.8L502 536.3L499 535L487 533.5L478 534.1L475 533.1L466 532.2L464 533.2L462 533.5L454 532.5L450 531.3L445 531.6L437 530.5L427 530.4L420 528.9L412 528L408 526.1L406 525.8L404 526.6L402 526.7L379 521.9L358 518.8L355 518L328 515.8L322 514.7L318 513.3L316 513.1L313 513.7L304 511.8L295 511.6L280 509L276 507.6L271 507.6L265 506.6L256 504.2L253 502.3L251 501.8L247 502L241 500.8L238 500.1L235 498.2L226 496.8L223 495.7L220 495.3L217 496L214 495.6L212 494.1L210 493.4L208 493.1L205 494.1L202 493.7L199 492.4L196 492.1L185 492.5L183 491.9L181 490.6L172 489.9L160 487.3L157 487.4L148 485.6L143 484.1L139 484.5L119 481.9L112 481.4L109 481.8L103 480.6L99 480.6L99 462.2Z" fill="#ffbf00" stroke="#000" stroke-width="0.8"/>
<path d="M99 462.2L825 462.2L825 527.2L822 527.6L815 526.8L811 527.4L802 526.9L798 527.6L792 527.6L772 530.3L769 531.1L766 531.2L763 529.9L761 529.9L757 530.9L749 532L747 531.5L745 530.1L733 530.9L724 530.7L721 532L708 531.5L701 532.2L696 530.9L690 531.9L676 531.3L672 532L647 530.8L643 531.1L634 531L629 531.7L627 531.2L625 529.9L623 529.8L621 530.2L619 531.3L610 530.6L607 531.3L588 530.9L577 532L565 532.1L556 531.4L546 529.5L544 529.4L541 530.7L520 529.1L515 528.3L503 529L499 527.8L496 527.6L493 528.1L487 527.4L478 527.5L475 526.7L467 525.7L462 526.7L449 524.4L445 524.9L438 524L430 523.6L427 523.9L424 523.6L421 522.6L412 521.8L409 520.4L407 520.1L405 520.2L403 520.9L388 518.6L385 517.6L379 516.6L358 514.4L355 513.6L346 512.8L329 512.4L322 511.5L319 510.3L317 510.1L313 510.8L305 509.2L295 509.1L280 506.5L276 505.2L271 505.1L262 503.9L256 502.5L253 500.6L250 499.9L247 500.4L238 498.5L234 496.4L227 495.6L221 493.9L217 494.5L214 494.1L212 492.5L210 491.8L208 491.6L205 492.5L202 492.1L199 490.8L196 490.5L185 491.2L183 490.6L181 489.4L172 488.9L160 486.3L156 486.3L143 483.4L137 483.7L118 481.2L112 480.7L109 481.2L103 480L99 480L99 462.2Z" fill="#ff8f00" stroke="#000" stroke-width="0.8"/>
<path d="M99 462.2L825 462.2L825 520.7L823 521.2L814 520.4L796 521.2L793 520.9L784 522.3L772 523.6L769 524.5L766 524.6L763 523.4L761 523.5L757 524.5L748 525.3L746 523.9L744 523.5L733 524.2L724 524.1L721 525.6L712 524.8L700 525.3L698 524.2L696 523.8L694 523.9L691 524.7L685 524.8L682 524.7L678 523.8L676 523.8L673 524.4L658 523.8L655 523.2L647 522.8L643 523.3L635 523L628 523.5L626 522.2L624 521.8L622 521.8L619 522.8L610 522.2L607 522.8L601 523L592 522.6L576 524L562 523.8L545 521.2L543 521.5L541 522.4L515 520.9L508 520.9L505 521.6L503 521.6L498 520.1L496 520.1L493 520.9L490 520.9L478 520.2L467 518.6L465 518.8L463 519.6L461 519.5L449 517.4L445 518.1L430 516.9L426 517.3L421 516.1L412 515.5L407 514.3L403 514.8L388.7 513.2L385 512L377 511L358 509.8L355 509L350 508.5L330 508.5L322 507.8L319 506.7L317 506.5L313 507.4L304 506L295 506.1L280 503.8L275 502.4L271 502.6L264 502L256 500.3L253 498.5L250 497.8L247 498.4L240 497.2L238 496.6L234 494.6L228 494.2L223 492.6L220 492.3L217 492.9L214 492.5L212 490.9L210 490.2L208 490L205 490.9L202 490.5L199 489.2L196 488.9L185 489.8L183 489.3L181 488.1L172 487.8L160 485.3L155.4 485.2L143 482.5L137 482.9L118 480.5L112 480.1L109 480.6L103 479.4L99 479.4L99 462.2Z" fill="#ff6000" stroke="#000" stroke-width="0.8"/>
<path d="M99 462.2L825 462.2L825 513.7L823 514.3L814 513.4L808 513.4L796 514.2L793 513.8L786 515.3L772 516.6L769 517.6L766 517.7L763 516.8L761 516.8L757 517.9L748 518.4L746 517.2L744 516.8L738 517.4L724 517.6L721 519.1L712 518L700 518.2L698 517L696 516.5L694 516.5L691 517.2L685 517.3L682 517.1L678 515.9L673 516.2L661 515.7L658 515.4L655 514.5L647 514L643 514.6L637 514.1L628 514.2L626 513L624 512.6L619 513.2L610 512.7L601 513.4L592 512.8L589 513.4L580 513.8L577 514.5L574 514.5L562 514L544 511.4L541 512.4L533 511.7L520 512.1L509 511.5L505 512.7L503 512.7L501 512.3L499 511.1L497 511.1L493 512.2L484 512L468 510.1L466 510L463 510.9L460 510.7L457 509.8L449 509.1L445 510L430 509L425 509.4L420 508.2L415 508.3L406 507.2L403 507.6L394 506.6L390 506.6L388 506.3L385 505.2L382 504.9L364 503.9L358 504L355 503.1L349 502.7L329 503.3L322 502.8L319 501.8L317 501.6L313 502.7L310 502.5L306 501.5L295 501.6L286 500.7L275 498.7L271 498.9L262 498.3L256 497L253 495.3L251 494.9L249 494.8L247 495.3L238 493.9L236 492.5L234 491.9L227 491.5L223 490.3L220 490L217 490.8L214 490.5L212 488.9L210 488.2L208 488L205 489L202 488.7L199 487.5L196 487.3L190 487.5L187 488.4L185 488.3L183 487.9L181 486.7L172 486.5L160 484.1L157 484.4L148 482.8L143 481.5L138 482L119 479.9L112 479.4L109 479.9L103 478.7L99 478.7L99 462.2Z" fill="#ff4000" stroke="#000" stroke-width="0.8"/>
<path d="M99 462.2L825 462.2L825 504.3L822 504.9L809 503.6L804 504.4L796 504.3L792 503.8L786 505.7L772 507.5L769 508.5L760 508.5L757 509.5L748 510.2L745 509L743 509.1L736 510.2L724 510.7L721 512.3L713 510.7L709 511.1L700.3 510.2L697 508.3L685 508.3L682 507.9L679 506.6L661 505.1L652.8 503.2L646 502.7L643 503.1L638 502.4L628 502L625 501L610 501.1L599 501.8L592 501.3L589 502.3L580 502.5L577 503.5L574 503.6L571 503L562 503.2L556 502.7L553 502L544 501L541 502L532 501.5L529 502.1L514 502.4L511 501.8L508 501.9L506 503.1L504 503.5L502 503.5L500 502.3L498 502L496 502L493 503.2L484 503.3L481 502.5L472 502.2L469 501.6L461 502.1L457 501.1L450 500.8L448 500.8L445 502L436 502L430 501.4L425 501.7L421 500.6L415 500.8L403 500.2L394 499.3L391 499.6L388 499.3L385 498.2L383 498L364 497.3L359 497.5L355 496.5L349 496.2L340 496.1L337 496.7L329 496.9L322 496.4L319 495.4L317 495.3L315 495.5L313 496.4L310 496.2L305 495L289 495.1L276 493.6L265 494L256 492.8L253 491.2L251 490.9L249 490.9L247 491.5L238 490.5L234 488.8L228 488.9L223 487.7L220 487.5L217 488.4L214 488.2L212 486.6L210 486.1L208 486L205 487L202 486.7L199 485.6L196 485.4L190 485.7L187 486.7L185 486.7L183 486.3L181 485.1L172.1 485.2L160 482.8L157 483L151.8 482.2L144 480.3L142 480.2L138 480.8L112 478.5L109 479.3L107 479.2L103 477.9L99 477.9L99 462.2Z" fill="#ff1000" stroke="#000" stroke-width="0.8"/>
<path d="M99 462.2L825 462.2L825 496.3L823 496.9L820 496.8L808 495.4L805 496.5L802 496.5L793 495.5L784 497.1L757 497.2L748 496.1L746 495.1L744 494.8L742 494.8L739 495.6L727 494.5L724 494.5L721 495.5L712 494.8L709 495.9L707 495.9L703 495.2L700 495.1L697 494L694 493.9L691 494.9L684 494.9L677 493.8L664 494.2L653 492.8L643 493.6L634 493.4L631 492.5L624 492.1L599 492.7L593 492.1L589 493.4L580 493.2L577 494.3L574 494.4L571 493.5L562 494.2L556 493.6L553 492.8L544 491.9L541 492.9L532 492.6L529 493.2L515 493.8L511 492.9L509 492.9L507 493.5L505 494.9L503 495L501 494.7L499 493.6L496 493.6L493 494.6L484 494.9L475 493.7L467 493.3L460 493.6L457 492.7L453 492.6L448 492.6L445 494.1L436 494.2L424 493.7L420 492.6L409 492.9L394 491.1L390 491.5L388 491.3L385 490.1L382 489.9L379 490.1L364 489.4L358 489.7L354 488.5L340 488.2L337 488.9L330 489.4L322 488.7L319 487.7L316 487.6L313 488.7L306 487.5L297 487.2L292 487.2L288 487.8L274 487.2L263 488L256 487.3L253 485.8L251 485.6L249 485.7L247 486.5L239 486.2L234 484.5L227 484.9L223 484L220 483.8L217 484.9L214 484.7L211 482.8L210 482.6L208 482.6L205 483.7L201 483.4L199 482.5L196 482.4L190 482.8L187 484L184 484L181 482.6L178 482.5L175 483.2L172 482.9L160 480.6L157 480.8L152.2 480.2L143 478.1L138 478.7L121 476.9L112 476.3L109 476.9L103 475.7L99 475.7L99 462.2Z" fill="#df0000" stroke="#000" stroke-width="0.8"/>
<path d="M99 462.2L825 462.2L825 487.5L822 488L808 486.4L806 487.3L802 487.5L799 486.7L796 486.8L793 486.2L790 486.3L787.8 487.2L785 487.6L766 487.4L763 487.8L753 487.3L747 486.2L745 485.3L742 485.2L739.2 486.2L737 486.2L725 484.8L721 485.5L712 485.2L710 486.3L707 486.5L705 486.3L703 485.4L699.2 485.2L697 484.4L694 484.4L691 485.6L682 485.3L678 484.5L667 485.1L653 483.5L649 484.5L634 484.2L631 482.8L628 482.7L599 483.4L593 482.8L589 484.3L585 484.3L582 483.6L580 483.8L577 484.8L574 485L571 483.9L569 483.9L565 485.3L563 485.3L560 484.6L555 484.2L553 483.4L544 482.6L541 483.6L532 483.5L515 484.5L513 484.3L511 483.4L508 483.5L505 485.7L503 485.8L501 485.5L499 484.6L484 485.5L478 485.1L475 484.2L460 484.1L457 483.3L449 483.2L447 483.5L445 485.1L442 485.2L430 484.9L424 484.3L421 483.3L417 483.3L415 483.9L408 483.8L397 481.6L394 481.3L390 481.8L387 481.4L385 480.6L382 480.3L379 480.8L364 480.3L361 480.9L358 480.8L356 479.8L354 479.4L346 479.9L340 479.4L337.8 480.2L334 480.4L330 481.2L322 480.4L319 479.6L316 479.4L313 480.5L309 480.2L307 479.6L293 479L289 479.7L274 479.3L264 479.9L256 479.2L253 477.7L251 477.5L249 477.6L247 478.4L239 477.8L234 476.3L227 476.9L223 475.8L220 475.8L217 476.9L214 476.9L212 475.4L210 474.9L208 475L204 476.1L202 476.1L199 475.1L196 475.1L190 475.7L187 477.1L184 477.2L181 476.1L178 476.1L175 476.8L172 476.7L160 474.6L157 475L148 473.8L143 472.6L139 473.4L112 472.5L109 473.5L106 473.4L103 472.5L99 472.5L99 462.2Z" fill="#bf0000" stroke="#000" stroke-width="0.8"/>
<path d="M117.5 468.2V882.2" stroke="#000" stroke-width="1" stroke-dasharray="8.5 4.5" fill="none"/>
<path d="M165.0 468.2V882.2" stroke="#000" stroke-width="1" stroke-dasharray="8.5 4.5" fill="none"/>
<path d="M223.0 468.2V882.2" stroke="#000" stroke-width="1" stroke-dasharray="8.5 4.5" fill="none"/>
<path d="M297.4 468.2V882.2" stroke="#000" stroke-width="1" stroke-dasharray="8.5 4.5" fill="none"/>
<path d="M376.6 468.2V882.2" stroke="#000" stroke-width="1" stroke-dasharray="8.5 4.5" fill="none"/>
<path d="M433.0 468.2V882.2" stroke="#000" stroke-width="1" stroke-dasharray="8.5 4.5" fill="none"/>
<path d="M536.0 468.2V882.2" stroke="#000" stroke-width="1" stroke-dasharray="8.5 4.5" fill="none"/>
<path d="M638.0 468.2V882.2" stroke="#000" stroke-width="1" stroke-dasharray="8.5 4.5" fill="none"/>
<path d="M722.0 468.2V882.2" stroke="#000" stroke-width="1" stroke-dasharray="8.5 4.5" fill="none"/>
<path d="M792.0 468.2V882.2" stroke="#000" stroke-width="1" stroke-dasharray="8.5 4.5" fill="none"/>
<path d="M813.2 468.2V882.2" stroke="#000" stroke-width="1" stroke-dasharray="8.5 4.5" fill="none"/>
<path d="M825 839.8L823 840.6L820 840.7L816 837.8L814 837.1L811 837.5L796 832.3L778 824.9L767 819.3L762 818L760 817.1L756 813.8L754 813L750 812.6L745 809.6L736 806.3L721 799L700 792.2L695 791.3L691 788.8L678 783.7L661 779.5L658 778.5L653 775.8L649 775L640 771.8L637 771.4L621 766.1M595 760.6L592 759.8L588 756.9L574.4 754.2L568 752.3L563 750L557.4 749.2L550 746L547 746.3L538 743.2L535 741L532 739.7L529 739.6L520 735.2L517 734.7L508 731.1L503 729.7L499 726.2L496.6 725.2L484 721.8L481 720L478 719.1L474 719L466 716L463 716L447 712.5L435 702.2L429 698.6L427 696.8L424 695.4L420 695L406 688.3L403 688.2L395 685.7L375 676.4M353 663.3L348 659.3L328 648.3L324 645.5L317.1 642.2L310 637.5L292 628.3L280 621L277 620.3L274 618.7L270 615.3L255 591.3L250 586.9L247 583.1L244 580.4L232 571.2L223 562.8L214 558.7L208.4 557.2L204 554.8L199 553.8L190 546.4L187 542.5L180.8 538.2L174 531.4L167.8 526.2M146.2 515.2L130 508.8L120.3 500.2L115 496.9L105 489L99 488.8" fill="none" stroke="#000" stroke-width="4" stroke-linecap="butt"/>
<path d="M825 729.7L817 728.8L814 727.9L810 725.4L802 723.2L799 723.3L793 721.7L784 717.8L781 717.2L778 715.8L775 713.4L766 709L763 707L754 703.2L750 700.2L740.5 696.2L731 691.1L727 690.6L722 687.9L713 686.1L709 686.4L706 686L700 684.4L697 683.1L688 681.5L676 680.8L672 678.5M649.3 665.2L641 661.1L637.7 658.2L634.5 657.2L628 656.3L624 656.6L593.5 648.2L580 645.6L576 645.7L564 642L557 641.4L547 637.4L544 636.7L534 635.8L529 634.1L520 632.2L505 630.5L496 626.7L492 624.3L478 623.1L475 621.8L473 621.6L471 622L469 623.2L462 622.6L454 622.7L451 621.2L445 621.4L433 619.5L425 615.3L418 610.5M395 596.2L383 589.1L379 587.5L365 579.6L359 575.1L355 573.9L346 568.8L340.7 565.2L334 562.3L329 560.8L325 557.3L312 551.2L297 545.5L292 544.4L276.6 539.2L274 538.6L270 538.8L264.6 536.2L255 533.1L250 528.7L244 524.6L223 506.9L221 506.2L218 506.5L214 505.9L212 504.2L208 503.2L205 504.1L198 502.1L184 501.7L181.7 500.2L179 499.2L176 499.4L172 498.9M148 492.3L143.4 490.2L138 489.9L128 487.1L121 486.1L109 485.7L103 484.6L99 484.6" fill="none" stroke="#000" stroke-width="4" stroke-linecap="butt"/>
<path d="M825 572.4L820 571.8L818 573.1L816 573.6L805 572.8L792 573.8L785 572.9L781 573.2L766 572.2L754 570.4L749 570.5L745 568.9L736 567.6L734 568.5L732 568.7L722 566.3L705 566.8M677 569L670 569.2L667 568.3L664 568.4L658 568.7L654 570.3L652 570.3L649 569.1L640 569.9L634 569.8L631 570.5L622 569.9L618 571.1L610 570.1L607 571L604 570.9L601 569.9L589 568.6L577 570L569 570L556 569.5L544 567.9L541 568.5L538 568.3L528 565.8L520 564.8L517 563.4L514 562.9L505 562.8L492 554.6L484 553.8L481 554.9L478 554.9L475 553.9L466 553.1L464 554.2L462 554.5L451 552.7L439 551.6L431 550M405 543.9L403 544.7L401 544.3L397 542.5L376 537.7L353 530.7L349 530.4L335 527L330 526.5L319 522.5L316 521.8L313 521.8L304 519.1L286 516.8L275 514.2L270 514.5L257 509.6L253.2 507.2L250.3 506.2L247 506.7L242 505.7L238 504.7L235 502.8L226 501.3L223 500.1L220 499.8L217 500.4L215 500.2L211 498.1L208 497.7L205 498.7L202 498.4L199 497.1L196 496.6L185 496.4L181 494.3L173 493.3L160 490.1L157 490.1L142 486.3L139 486.6L119 483.6L109 483.5L103 482.3L99 482.3" fill="none" stroke="#000" stroke-width="4" stroke-linecap="butt"/>
<text x="160.0" y="504.3" transform="rotate(20 160.0 497.5)" font-size="19" text-anchor="middle" font-family="Liberation Sans, sans-serif" fill="#000">15</text>
<text x="156.0" y="529.3" transform="rotate(22 156.0 522.5)" font-size="19" text-anchor="middle" font-family="Liberation Sans, sans-serif" fill="#000">10</text>
<text x="417.5" y="554.3" transform="rotate(8 417.5 547.5)" font-size="19" text-anchor="middle" font-family="Liberation Sans, sans-serif" fill="#000">20</text>
<text x="407.5" y="609.3" transform="rotate(27 407.5 602.5)" font-size="19" text-anchor="middle" font-family="Liberation Sans, sans-serif" fill="#000">15</text>
<text x="362.5" y="679.3" transform="rotate(30 362.5 672.5)" font-size="19" text-anchor="middle" font-family="Liberation Sans, sans-serif" fill="#000">10</text>
<text x="691.0" y="574.8" transform="rotate(0 691.0 568.0)" font-size="19" text-anchor="middle" font-family="Liberation Sans, sans-serif" fill="#000">20</text>
<text x="659.7" y="680.0" transform="rotate(25 659.7 673.2)" font-size="19" text-anchor="middle" font-family="Liberation Sans, sans-serif" fill="#000">15</text>
<text x="608.0" y="768.4" transform="rotate(15 608.0 761.6)" font-size="19" text-anchor="middle" font-family="Liberation Sans, sans-serif" fill="#000">10</text>
</g>
<path d="M105.7 483.4L112.5 496.2L114.8 499.5L117.2 502.8L119.5 506.7L121.9 510.2L124.2 513L126.9 515.3L129.7 517.7L132.6 520.7L135.4 524.1L138.4 527.4L141.5 529.9L144.7 531.7L147.8 533.6L150.9 536.7L153.9 540L156.9 542.3L159.9 545.2L162.9 548.1L165.6 550.5L168.3 553.9L171 557.3L173.7 559.8L176.6 562.8L179.6 565.7L182.6 567.8L185.6 570.7L188.6 573.9L191.6 576.5L194.6 578.7L197.5 581L200.5 583.9L203.4 586.9L206.2 589.7L209.1 592.8L211.9 596.2L214.8 599L217.6 601.3L220.5 604L223.3 606.7L226.2 609.5L229 612.6L231.9 615.6L234.7 618.3L237.6 621.3L240.4 624.3L243.3 627.3L246.1 630.1L249 632.7L251.9 635.5L254.9 638.1L257.9 640.8L260.9 643.7L263.9 646.3L266.9 648.4L269.9 650.5L272.9 653.5L276 656.9L279.3 659.5L282.4 662.4L285.4 665.3L288.5 667.3L291.6 669L294.6 671.7L297.7 674.7L300.7 677.5L303.8 681L306.8 684L309.9 686.2L313 688.5L316.1 690.8L319.1 692.8L322.2 695.3L325.3 698.4L328.3 701.4L331.4 703.6L334.4 705.7L337.4 708.4L340.4 711.2L343.4 713.8L346.4 716.4L349.5 719.4L352.5 722.5L355.4 725.7L358.2 728.7L361 731.2L363.7 734.1L366.5 737.5L369.3 740.7L372 743.5L374.8 746.6L377.6 749.1L380.4 751.4L383.4 754.2L386.5 756.7L389.6 759.4L392.7 762.5L395.7 764.8L398.8 766.9L401.9 769.5L404.9 771.8L407.9 774.8L410.9 778.1L413.9 780.8L416.8 783.6L419.8 786.7L422.4 790L424.9 792.5L427.4 794.9L429.9 798.1L432.1 801.6L434.2 804.8L436.3 808.6L438.5 812.7L440.6 816.5L442.8 819.7L445.1 821.9L447.4 825.1L449.8 828.7L452.1 831.6L454.5 834.9L457.1 838.2L459.7 841.4L462.4 845L466.1 846.7L469.7 847.5L473.4 849.5L477.1 852L480.9 853.4L484.8 853.2L488.8 853.8L492.7 855.6L496.7 856.4L500.6 856.4L504.6 857.2L508.5 858.8L512.4 859.5L516.4 859.9L520.4 860.6L524.4 861.4L528.4 861.3L532.4 860.9L536.4 860.4L540.5 860.8L544.5 861L548.5 860L552.3 858.3L556 857L559.7 855.2L563.3 853.4L567 851.9L570.4 850.6L573.9 848.9L577.3 846.4L580.8 843.8L584.2 841.9L587.5 840.4L590.8 838.8L594.1 836.3L597.4 832.7L600.9 830.4L604.5 829.7L608.1 828.3L611.5 825.8L614.9 823.8L618.2 821.7L621.8 819.7L625.3 817.4L628.9 814.7L632.5 813.1L636.2 814.7L639.9 815.4L643.4 813.9L647 811.8L650.8 811.1L654.8 811.6L658.8 812.2L662.6 812.2L666.1 810.1L669.5 808.3L672.9 806.3L676.3 804.1L679.7 801.9L683.2 799.5L686.9 797.7L690.7 796.9L694.7 797.5L698.7 798.4L702.5 798.8L705.8 796.4L709.1 793.3L712.4 790.7L715.6 788.4L718.9 786.1L722.1 783.8L725.3 781.9L728.6 779.8L731.8 777.1L734.9 774.6L738.1 772.3L741.2 769.4L744.4 766.5L747.5 764.6L750.4 762.3L753.2 758.9L756 755.6L758.9 753.1L761.7 750.5L764.5 747.2L766.8 743.7L769.2 741.2L771.5 738.2L773.9 734.2L776.2 730.4L778.6 727.1L780.9 724.7L783.1 721.7L785.4 718L787.6 714.3L789.9 710.3L792.1 706.7L794.3 703.6L796.6 700.3L798.7 697L800.8 694L802.9 690.5L804.9 686.5L807 682.9L809.1 680L811.2 676.5L814 676.7L814 882.2L105.7 882.2Z" fill="#fff" stroke="#000" stroke-width="5.4" stroke-linejoin="miter" stroke-miterlimit="3"/>
<path d="M105.0 484.95V468.2H814.5V673.7" fill="none" stroke="#000" stroke-width="1.1"/>
<path d="M105.0 520.0h7M814.5 520.0h-7M105.0 571.7h7M814.5 571.7h-7M105.0 623.5h7M814.5 623.5h-7M105.0 675.2h7M814.5 675.2h-7M105.0 727.0h7M814.5 727.0h-7M105.0 778.7h7M814.5 778.7h-7M105.0 830.5h7M814.5 830.5h-7M109.0 468.2v7M109.0 879.7v-7M251.3 468.2v7M251.3 879.7v-7M394.0 468.2v7M394.0 879.7v-7M536.6 468.2v7M536.6 879.7v-7M679.2 468.2v7M679.2 879.7v-7" stroke="#000" stroke-width="1" fill="none"/>
<clipPath id="cp3"><rect x="105.0" y="907.5" width="712.5" height="411.9000000000001"/></clipPath>
<g clip-path="url(#cp3)" stroke-linejoin="round">
<rect x="103.0" y="905.5" width="716.5" height="415.9000000000001" fill="#00ff80"/>
<path d="M99 901.5L323.1 901.5L323.1 905.5L323.7 906.5L334 913.2L338 915.2L340 915.6L347 915.1L361 915.8L367 915.4L371 914.2L379 914.8L382 915.8L388 915.9L397 915.1L400 915.6L409 915.4L413 914.3L415 914.4L418 915.5L421 915.7L424 914.9L433 916L437 915L448 915.8L457 915.9L460 916.8L469 916.5L472 917.6L474 917.6L478 917.1L491 916.6L496 917L505 916.7L506 916.4L508 914.8L509 914.8L511 914.9L513 916.6L515 917L517 917.1L520 916.2L528 917.2L535 917.1L538 918L546 917.4L550 918.8L558 919.1L577 918.4L584 917.5L586 916.6L595 916.8L598 915.3L600 915.2L608 915.9L610.1 916.5L619 916L622 917.4L623.6 917.5L625 917.5L628 916L629 916L636 916.4L649 918.2L653 917.6L667 918.6L670 917.9L673 917.9L682 919.1L691 918.7L694 919.4L703 919.9L706 919L726 919.4L736.6 921.5L745 921.7L748 920.9L757 921.7L760 923L772 924.1L776 924.8L777 925.5L786 926.6L788 926.6L790 925L808.8 927.5L823 927.8L825 927.3L825 1324.5L99 1324.5L99 901.5Z" fill="#00f784" stroke="#000" stroke-width="0.8"/>
<path d="M99 901.5L306.2 901.5L306.5 907.5L312 911.3L314 912L316 912L321 914.6L327 916.4L337 917.9L349 917.5L361 918.3L367 917.9L370 916.7L372 916.7L379 917.4L382 918.5L388 918.6L397 917.8L409 918.1L412 917L414 917L418 918.2L420 918.3L424 917.6L433 918.7L436 917.8L449 918.8L457 918.8L461 919.8L469 919.4L472 920.6L474 920.7L493 919.6L496 920L505 919.9L507 918.4L509 918L511 918.1L513 919.6L515 920.2L517 920.3L520 919.4L527 920.5L535 920.5L538 921.3L547 920.7L550 922L558 922.4L571 921.6L577 921.6L583 921L587 919.8L595 920.2L598 918.6L601 918.6L610 919.8L619 919.6L623 920.9L625 920.9L628 919.7L636 919.9L640 920.8L648 921.7L652 921.2L661 921.4L665 922L673 921.5L679 921.8L682 922.6L685 922.6L689 922L703 923.3L706 922.4L724 922.7L737 924.7L745 925L748 924.4L756 924.8L760 926.3L775 927.4L778 928.5L786 929.5L788 929.2L790 928L808 930.1L823 930.7L825 930L825 1324.5L99 1324.5L99 901.5Z" fill="#00f386" stroke="#000" stroke-width="0.8"/>
<path d="M99 901.5L289.2 901.5L289.2 906.5L290 907.2L301 914.1L305 917.4L309 918.5L312 918.8L317 917.4L325 917.9L337 919.8L349 919.4L361 920.4L367 920.1L370 919L373 919L379 919.8L382 920.8L387 920.9L397 920.2L409 920.6L412 919.4L414 919.5L418 920.6L420 920.7L424 920L433 921.2L436 920.2L449 921.4L457 921.3L461 922.3L469 922L473 923.4L487 922.5L505 922.7L507 921.3L509 920.9L511 921L513 922.5L515 923L517 923.2L521 922.4L526 923.4L535 923.5L538 924.4L540 924.4L544 923.6L547 923.6L550 925L557 925.4L571 924.6L577 924.7L583 924.1L587 922.9L595 923.3L598 921.8L601 921.8L610 923L619 922.8L622 924L624 924.1L626 923.9L628 923L636 923.1L640 924.1L648 925L652 924.5L661 924.6L665 925.3L673 924.8L679 925L682 925.7L685 925.8L689 925.1L703 926.3L706 925.6L726 926L737 927.6L745 927.9L748 927.4L756 927.6L760 929L775 929.9L778 931L786 932L788 931.7L790 930.4L808 932.4L823 932.9L825 932.3L825 1324.5L99 1324.5L99 901.5Z" fill="#00ef88" stroke="#000" stroke-width="0.8"/>
<path d="M99 901.5L272.3 901.5L272.3 907.5L282 912.9L288.1 917.5L301 919.2L304 920.3L310 921L313 921L316 919.6L319 919.6L325 919.9L336 921.6L343 921.8L349 921.4L359 922.5L367 922.4L370 921.2L373 921.3L379 922.1L382 923.2L387 923.3L397 922.6L409 923L412 921.8L414 921.9L419 923.1L421 923.2L424 922.5L433 923.7L436 922.7L449 924L457 923.9L461 924.9L469 924.7L472 926L474 926.1L487 925.2L505 925.6L507 924.2L509 923.8L511 923.9L513 925.3L515 925.9L517 926L521 925.3L526 926.5L535 926.5L538 927.4L540 927.5L544 926.5L547 926.6L550 927.9L557 928.4L571 927.6L574 928L577 927.8L583 927.2L586 926.1L595 926.4L598 925L601 925.1L610 926.2L619 926L622 927.2L624 927.3L628 926.3L636 926.3L640 927.4L648 928.2L658 927.7L665 928.5L678 928.1L685 928.9L689 928.2L702 929.3L706 928.7L718 929.3L727 929.2L736 930.4L745 930.9L748 930.3L754 930.3L757 930.6L760 931.8L775 932.4L778 933.5L786 934.4L788 934.1L790 932.8L808 934.7L823 935.1L825 934.5L825 1324.5L99 1324.5L99 901.5Z" fill="#00eb8a" stroke="#000" stroke-width="0.8"/>
<path d="M99 901.5L255.4 901.5L255.4 908.5L256.2 909.5L265 915.4L271 918.5L277 919.8L283 920.1L286 921L295 921L301 921.7L304 922.7L310 923.2L313 923.2L316 921.7L319 921.7L325 921.9L337 923.5L349 923.4L360 924.7L367 924.6L370 923.5L373 923.6L379 924.4L382 925.5L387 925.6L397 925L409 925.4L412 924.2L414 924.3L419 925.5L425 924.9L433 926.2L436 925.2L449 926.6L457 926.5L461 927.5L469 927.3L472 928.7L474 928.8L487 927.9L505 928.5L507 927.1L509 926.7L511 926.8L513 928.2L515 928.8L517 928.9L521 928.2L523 928.4L526 929.5L535 929.5L538 930.4L540 930.5L544 929.5L547 929.5L550 930.9L557 931.4L565 931.3L571 930.6L574 931.1L577 930.9L583 930.2L586 929.2L595 929.5L598 928.3L601 928.3L610 929.4L619 929.2L622 930.4L624 930.5L628 929.6L636 929.5L640 930.7L648 931.4L660 931L664 931.8L678 931.3L685 932.1L689 931.3L702 932.4L706 931.8L718 932.6L727 932.3L745 933.8L754 933.1L757 933.4L760 934.6L775 934.9L778 936L786 936.8L788 936.5L790 935.3L805 936.4L808 937L817 936.9L823 937.4L825 936.7L825 1324.5L99 1324.5L99 901.5Z" fill="#00e38e" stroke="#000" stroke-width="0.8"/>
<path d="M99 901.5L238.5 901.5L238.5 908.5L239 909.5L241 910.8L244 911.8L256.7 920.5L265 923.3L272 924.6L277 924.5L280 923.7L287 924.2L295 923.7L298 924.3L301 924.3L304 925.2L310 925.5L313 925.4L316 923.9L324 924L334 925.3L343 925.7L349 925.4L361 927L367 926.9L370 925.8L373 926L379 926.8L382 927.9L385 928L397 927.4L409 927.9L412 926.7L414 926.7L419 927.9L425 927.4L433 928.7L436 927.6L450 929.2L454 928.8L457 929L461 930L469 930L472 931.4L474 931.5L487 930.6L505 931.4L507 930L509 929.6L511 929.8L513 931.1L515 931.7L517 931.8L521 931.1L523 931.3L526 932.5L535 932.5L538 933.5L540 933.6L544 932.4L547 932.5L550 933.8L556 934.4L565 934.3L571 933.6L576 934.1L583 933.4L586 932.4L595 932.7L598 931.5L600 931.5L607 932L611 932.7L619 932.4L622 933.6L624 933.7L635 932.7L637 932.9L640 934.1L649 934.7L661 934.2L664 935.1L666 935.1L678 934.5L685 935.3L689 934.5L700 935.4L707 935.1L718 936L727 935.6L745 936.9L755 936.1L762 937.6L775 937.4L778 938.6L786 939.4L788 939L790 937.8L805 938.8L808 939.5L817 939.2L823 939.7L825 939.1L825 1324.5L99 1324.5L99 901.5Z" fill="#00df90" stroke="#000" stroke-width="0.8"/>
<path d="M99 902.5L100 901.5L100 903.5L99 904.5L99 902.5ZM99 908.5L99 907.5L103 908.2L109 907.9L111 908.8L115 909.1L121 908.9L124 908.1L132 908.1L134 908.5L136 909.9L143.5 909.5L151 910.1L154 909.2L156 909.2L160 910.5L162 910.5L166 909.6L172 909.2L175 909.4L179 910.4L187 910.5L193 911.5L196 912.7L198 912.9L202 912.3L208 913.1L223 913.9L226 913.1L229 913.2L230 913.4L237.5 919.5L239.6 920.5L244 920.9L253 923.8L256 925.3L265 927.1L268 926.8L277 927.2L281 926.4L287 926.9L295 926.5L298 927.1L301 927.1L304 928L310 928.2L313 928.1L316 926.6L324 926.7L335 928.1L343 928.5L346 928L349 928.1L361 929.7L367 929.7L370 928.5L373 928.7L379 929.4L382 930.6L385 930.7L397 930.1L409 930.5L412 929.2L414 929.2L419 930.4L425 929.9L427 930L430 931L433 931.2L436 930.1L450 931.9L456 931.5L461 932.7L469 932.7L472 934.2L475 934.3L481 934.2L484 933.5L487 933.5L505 934.5L507 933.1L509 932.7L511 932.9L513 934.2L515 934.7L517 934.9L521 934.2L523 934.4L526 935.7L534 935.6L538 936.7L540 936.8L542 936.6L544 935.6L547 935.8L550 937.1L558 937.9L565 937.9L571 937.2L574 937.9L576 937.8L583 937.1L586 936.2L595 936.5L599 935.6L607 936L611 936.9L619 936.7L623 937.9L631 937.7L634 937.1L637 937.3L640 938.6L649 939.1L661 938.7L664 939.7L677 939.1L685 939.8L689 939L702 939.9L709 939.8L718 940.8L727 940.3L745 941.2L754 940.3L757 940.4L760 941.5L763 941.6L774 941L778 942.2L785 942.8L787 942.8L789 941.6L791 941.2L805 942L808 942.8L816 942.5L823 943L825 942.5L825 1324.5L99 1324.5L99 908.5Z" fill="#00db92" stroke="#000" stroke-width="0.8"/>
<path d="M99 916.5L99 915.8L106 915.6L110 915.8L112 916.6L132 916.4L134 916.9L136 918L139 918.1L142 917.5L151 918.2L154 917.4L156 917.4L160 918.8L162 918.8L166 918L173 917.5L178.4 918.5L187 918.8L199 920.8L202 920.4L214 921.4L223 921.7L226 920.9L229 921L240.9 925.5L244 925.3L256 928.5L265 929.8L268 929.4L277 929.9L280 929L288 929.6L294 929.2L298 929.9L301 929.9L304 930.8L310 931L313 930.9L316 929.5L324 929.5L340 931.3L349 930.9L355 931.4L358 932.4L360 932.5L367 932.5L370 931.3L373 931.4L379 932.1L382 933.3L384 933.3L397 932.7L409 933.1L411 932.1L413 931.7L415 931.8L418 932.9L421 933L425 932.4L432 933.7L434 933.4L436 932.6L445 933.5L449 934.5L451 934.6L454 934L457 934.2L461 935.3L469 935.4L471 936.6L473 937.1L481 937.2L484 936.4L487 936.3L490 936.9L505 937.6L507 936.2L509 935.8L511 936L513 937.3L515 937.8L522 937.4L526 938.9L529 939.2L534 938.8L538 940L540 940.1L542 939.9L544 938.9L546 939L550 940.4L559 941.3L565 941.4L568 940.8L571 940.8L574 941.6L576 941.5L586 940.1L595 940.5L599 939.7L607 940.2L611 941.2L619 941.1L622 942.1L625 942.3L631 942.3L635 941.6L637 941.8L640 943.2L642 943.3L655 943.6L661 943.3L664 944.3L676 943.8L685 944.3L688 943.6L694 943.6L709 944.6L719 945.8L724 945.2L736 945.1L745 945.6L754 944.7L763 945.7L774 944.7L778 945.9L786 946.4L788 946L790 944.7L792 944.7L796 945.2L805 945.4L808 946.3L816 945.9L823 946.5L825 946L825 1324.5L99 1324.5L99 916.5Z" fill="#00d296" stroke="#000" stroke-width="0.8"/>
<path d="M99 917.5L106 917L114 918.3L132 918.7L134 919.2L136 920.5L139 920.7L143 920.1L151 921.3L154 920.5L156 920.6L158 921.1L160 922.2L162 922.3L166 921.7L174 921.4L178 922.2L187 922.9L196 924.6L216 926.2L229 925.9L239 929.2L241 929.5L244 929.1L256 931.5L265 932.5L268 931.9L277 932.5L280 931.6L288 932.3L293 931.9L298 932.8L301 932.8L304 933.6L310 933.8L313 933.7L316 932.3L324 932.4L340 934.2L343 934.3L346 933.6L355 934.2L358 935.2L360 935.3L367 935.3L370 934.1L373 934.2L379 934.8L382 936L384 936L403 935.2L409 935.7L411 934.6L413 934.3L415 934.3L419 935.5L421 935.5L424 934.8L427 935L430 936L432 936.1L434 935.9L436 935.1L445 936.1L449 937.1L451 937.2L454 936.6L457 936.9L461 938L469 938.2L471 939.4L473 939.9L481 940.1L484 939.2L487 939.2L490 939.9L499 940L505 940.7L507 939.3L509 939L511 939.2L513 940.4L515 940.9L522 940.5L526 942.1L529 942.4L534 942L538 943.2L540 943.4L542 943.1L544 942.2L546 942.3L550 943.8L557 944.7L565 945L568 944.3L571 944.4L574 945.2L576 945.2L586 944L595 944.5L599 943.9L607 944.3L611 945.5L619 945.4L622 946.4L625 946.6L631 946.9L633 946.2L635 946.1L637 946.3L640 947.7L642 947.9L655 948.2L661 947.8L665 949L676 948.4L685 948.9L688 948.2L694 948.1L718 950.7L736 949.5L745 950L754 949L763 949.8L774 948.5L778 949.6L786 950L788 949.5L790 948.2L792 948.1L796 948.7L805 948.7L808 949.7L816 949.3L823 949.9L825 949.4L825 1324.5L99 1324.5L99 917.5Z" fill="#00ce98" stroke="#000" stroke-width="0.8"/>
<path d="M99 918.5L99 917.7L109 917.8L113 919.3L124 919.7L126.8 920.5L133 920.7L136 922.6L145 922.7L147 923.5L151 923.8L157 923.7L161 925.6L164 925.6L166 925L171 925.5L173 925L181.5 926.5L187 926.9L193 928.5L211 929.9L217 931.4L219 930.8L227 930.8L230.2 931.5L235 931.8L238 932.7L247 932.7L249.1 933.5L260 934.6L265 934.8L268 934.1L277 934.9L280 933.9L282 933.9L286 934.6L295 934.5L304 936.1L312 936.4L313 936.4L316 934.9L324 935L340 936.9L349 936.3L355 936.8L359 937.8L367 937.9L370 936.7L373 936.8L379 937.3L383 938.5L402 937.7L408 938.1L410 937.7L412 936.7L415 936.7L417 937.6L419 937.8L422 937.7L424 937.1L427 937.2L430 938.3L432 938.4L436 937.3L449.1 939.5L452 939.5L454 939L461.6 940.5L469 940.7L472.9 942.5L481 942.7L484 941.8L487 941.8L490 942.6L499 942.7L502 943.5L505 943.5L507 942.1L509 941.8L511 942.1L514 943.6L517 943.8L520 943.2L523 943.5L526 945L528.7 945.5L531 944.8L534 944.8L538 946.1L541 946.5L544 945.2L545 945.2L548 945.7L550 946.8L558 947.8L565 948.1L568 947.6L571 947.6L573 948.6L575 948.7L586 947.5L595 948.1L598 947.6L605 947.8L607 948L611 949.4L616 949.3L631 951.3L634 950.2L635 950.3L638 950.8L639 951.6L641 951.9L655 952.5L658 951.8L661 951.9L665 953.3L670 952.8L685 952.9L694 952.2L702.9 953.5L709 953.8L711 954.5L718 954.9L727 954.4L730 953.8L739 953.6L743 954.1L754 952.9L763 953.6L765 952.8L770 952.6L773 951.9L775 951.9L778 953L785 953.2L787 953.1L790 951.3L792 951.2L796 951.8L805 951.8L808 952.8L814 952.3L820 952.9L825 952.6L825 1324.5L99 1324.5L99 918.5Z" fill="#00ca9a" stroke="#000" stroke-width="0.8"/>
<path d="M99 918.5L99 918.1L103 918.4L105 917.8L108 918L112 919.6L131 921L134 921.8L135 922.7L138.4 923.5L140 923.6L142 922.9L149.1 924.5L156 924.2L158 924.8L160 926.1L162 926.5L166 925.9L174 925.9L187 927.9L194 929.5L211 931L214 931.9L228 932L235 932.9L238 933.8L246 933.7L250 934.6L264 935.9L268 935.2L277 936L280 935L282 935.1L287 935.7L295 935.6L298 936.5L301 936.6L304 937.3L311 937.6L313 937.5L316 936.2L319 936.2L325 936.4L340 938.3L343 938.4L346 937.6L355 938.1L359 939.2L367 939.2L370 937.9L373 938L379 938.6L383 939.8L403 938.8L406 939.4L409 939.3L411 938.2L413 937.8L415 937.9L419 939.1L421 939.1L424 938.4L427 938.5L430 939.6L432 939.7L434 939.5L436 938.6L445 939.7L449 940.8L451 940.9L454 940.2L457 940.5L461 941.7L469 941.9L471 943.1L473 943.6L481 944.1L484 943L487 943.1L490 943.9L499 944L505 944.8L507 943.5L509 943.1L511 943.3L514 944.8L517 945.1L520 944.5L522 944.6L526 946.2L529 946.5L532 945.9L534 946L540 947.6L542 947.3L544 946.3L546 946.5L550 948L562 949.3L571 948.9L575 949.9L586 948.8L595 949.5L598 949L604 949.2L607 949.4L610 950.7L619 950.8L622 951.6L630 952.5L632 952.4L634 951.5L636 951.7L641 953.4L655 953.8L661 953.2L665 954.5L675 954L685 954.2L694 953.4L719 956.3L736 954.8L743 955.2L757 954.2L763 954.7L766 953.8L773 953.1L775 953L778 954.2L785 954.4L787 954.3L790 952.6L792 952.4L796 953L805 952.9L808 954L814 953.5L820 954.1L825 953.7L825 1324.5L99 1324.5L99 918.5Z" fill="#00c69c" stroke="#000" stroke-width="0.8"/>
<path d="M99 918.5L103 918.6L105 918L107 918.1L110 918.7L112 919.7L133 921.8L137 923.6L140 923.8L142 923.3L148 924.7L157 924.8L159.8 926.5L161 926.7L173 926.3L186 928.3L192 929.8L211 931.7L214.2 932.5L228 932.6L235 933.6L238 934.6L241 934.8L245 934.3L250 935.4L264 936.7L268 936L277 936.9L280 935.9L282 935.9L287 936.6L295 936.5L298 937.4L301 937.5L304 938.3L312 938.6L314 938.3L316 937.2L319 937.3L325 937.6L334 939.1L340 939.6L349 938.9L355 939.2L359 940.3L367 940.3L370 939L373 939L379 939.6L383 940.8L403 939.9L406 940.4L409 940.3L411 939.2L413 938.9L415 938.9L419 940.1L421 940.2L424 939.4L427 939.6L430 940.6L432 940.8L434 940.5L436 939.7L445 940.8L449 941.8L451 942L454 941.2L457 941.5L461 942.7L469 943L472 944.5L478 945L481 945.1L484 944L487 944.1L490 944.9L499 944.9L505 945.7L507 944.5L509 944.1L511 944.3L515 945.9L522 945.6L526 947.1L529 947.4L532 946.9L534 947L538 948.3L541 948.5L544 947.3L546 947.4L550 948.9L562 950.3L571 949.9L574 950.9L576 950.9L586 949.8L595 950.6L598 950.1L604 950.2L607 950.4L610 951.8L618 951.8L630 953.6L632 953.5L634 952.6L637 952.9L640 954.4L655 954.8L658 954.2L661 954.2L664 955.4L685 955.1L694 954.3L712 956.6L721 957.2L724 956.5L736 955.6L742 956L755 955.1L763 955.5L766 954.7L773 953.9L775 953.9L778 955L786 955.3L788 954.7L790 953.4L792 953.3L796 953.9L805 953.8L808 954.9L814 954.3L820 954.9L825 954.6L825 1324.5L99 1324.5L99 918.5Z" fill="#00bea0" stroke="#000" stroke-width="0.8"/>
<path d="M104.4 918.5L106 918.2L110 918.9L112 919.8L133 922L136 923.7L138 924L142 923.6L151 925.4L154 924.8L157 925.2L159 926.5L161 927.1L173 926.7L187 929L192 930.3L211 932.3L214 933.1L228 933.3L235 934.3L238 935.2L241 935.5L245 935L250 936.1L264 937.4L268 936.8L277 937.7L280 936.7L282 936.8L287 937.4L295 937.4L304 939.2L313 939.6L315 938.6L317 938.3L325 938.8L334 940.4L340 940.9L343 940.9L346 940L349 940.1L355 940.4L359 941.4L367 941.4L369 940.4L371 940L379 940.6L382 941.7L384 941.8L402 940.9L409 941.4L411 940.3L413 939.9L415 940L419 941.2L421 941.2L424 940.5L427 940.6L430 941.7L432 941.8L434 941.6L436 940.7L445 941.8L449 942.9L451 943L454 942.3L457 942.5L460 943.6L469 944L472 945.5L478 946L481 946.1L484 945L486 945L490 945.9L499 945.9L505 946.7L507 945.5L509 945.1L511 945.3L514 946.8L517 947L520 946.4L522 946.5L526 948.1L529 948.3L532 947.8L534 947.9L540 949.4L542 949.2L544 948.2L546 948.3L550 949.9L562 951.2L571 950.8L574 951.8L576 951.9L586 950.8L595 951.6L598 951.1L604 951.2L607 951.5L610 952.8L618 952.9L630 954.7L632 954.6L634 953.7L637 954L640 955.5L655 955.8L658 955.2L661 955.2L664 956.4L685 956L694 955.2L712 957.4L721 958L730 956.7L736 956.4L742 956.8L755 956L763 956.3L766 955.5L774 954.7L778 955.8L786 956.1L788 955.6L790 954.3L792 954.1L796 954.8L805 954.6L808 955.7L814 955.2L820 955.8L825 955.4L825 1324.5L99 1324.5L99 918.6L104.4 918.5Z" fill="#00baa2" stroke="#000" stroke-width="0.8"/>
<path d="M104.8 918.5L109 918.8L112 920L115.8 920.5L133 922.2L136 924L138 924.3L142 923.9L151 925.7L154 925.2L156 925.4L158 926L160 927.3L162 927.6L173 927.1L187 929.5L192 930.8L211 932.8L215 933.8L228 933.9L235 935L238 935.9L241 936.2L245 935.7L250 936.9L264 938.2L268 937.5L276 938.5L280 937.5L288 938.3L293 938.1L304 940.2L313 940.6L316 939.4L318 939.5L340 942.1L343 942.1L346 941.2L349 941.2L355 941.5L358 942.5L367 942.4L369 941.4L371 941.1L379 941.6L383 942.8L403 941.9L408 942.4L413 941L415 941L418 942.2L421 942.3L424 941.5L426 941.6L430 942.8L433 942.9L436 941.8L445 942.9L449 943.9L451 944.1L454 943.3L457 943.6L460 944.6L469 945L472 946.5L478 947.1L481 947.1L484 946L486 946L490 946.9L499 946.9L505 947.7L507 946.5L509 946.1L511 946.3L514 947.7L517 948L520 947.3L522 947.5L526 949L529 949.3L532 948.7L534 948.8L540 950.3L542 950.1L544 949.1L546 949.2L550 950.8L562 952.2L571 951.8L574 952.8L576 952.9L586 951.8L595 952.6L598 952.1L604 952.2L607 952.5L610 953.9L618 954L630 955.8L632 955.6L634 954.8L637 955.1L640 956.5L655 956.8L658 956.2L661 956.2L664 957.4L685 956.9L694 956L712 958.2L721 958.8L730 957.5L736 957.2L742 957.6L755 956.9L763 957.2L766 956.3L774 955.5L778 956.6L786 956.9L788 956.4L790 955.1L792 955L796 955.6L805 955.4L808 956.5L814 956L820 956.6L825 956.3L825 1324.5L99 1324.5L99 918.7L104.8 918.5Z" fill="#00b6a4" stroke="#000" stroke-width="0.8"/>
<path d="M99 919.5L99 918.8L107 918.6L114.7 920.5L133 922.5L135 923.8L137.7 924.5L142 924.1L150 925.9L154 925.5L156 925.7L158 926.3L160 927.6L163 928L166 927.6L174 927.6L187 929.9L192 931.2L211 933.4L217 934.6L228 934.6L235 935.6L238 936.6L241 936.8L245 936.4L250 937.6L264 938.9L268 938.3L276 939.4L280 938.4L288 939.1L293 939L304 941.1L312 941.6L314 941.4L316 940.5L319 940.6L325 941.2L334 942.9L340 943.4L343 943.4L346 942.5L349 942.4L355 942.7L358 943.6L367 943.5L370 942.1L372 942.1L379 942.6L383 943.8L402 942.9L408 943.5L413 942L415 942L418 943.2L421 943.3L424 942.6L426 942.7L430 943.8L433 944L436 942.8L445 943.9L449 945L451 945.1L454 944.3L457 944.6L460 945.6L469 946L472 947.5L478 948.1L481 948.2L484 947L486 947L490 947.9L499 947.9L505 948.7L507 947.5L509 947.2L511 947.3L514 948.7L517 948.9L520 948.3L522 948.4L526 949.9L529 950.2L532 949.6L534 949.7L540 951.2L542 951L544 950L546 950.2L550 951.7L562 953.1L571 952.8L574 953.8L576 953.8L580 953.1L586 952.8L595 953.7L598 953.2L604 953.3L607 953.5L610 955L619 955.1L630 956.9L632 956.7L634 955.8L637 956.1L640 957.6L655 957.8L658 957.2L661 957.2L664 958.3L685 957.8L694 956.9L712 959.1L720 959.6L730 958.3L736 958L742 958.4L755 957.8L763 958L766 957.1L774 956.4L778 957.5L786 957.8L788 957.3L790 955.9L792 955.8L796 956.5L805 956.3L808 957.4L814 956.8L820 957.4L825 957.1L825 1324.5L99 1324.5L99 919.5Z" fill="#00aea8" stroke="#000" stroke-width="0.8"/>
<path d="M99 919.5L99 918.9L107 918.8L113.7 920.5L133 922.7L135 924L137 924.7L139 924.9L142 924.4L151 926.3L154 925.8L156 926L158 926.6L160 927.9L163 928.4L166 927.9L174 928L187 930.4L192 931.7L211 934L217 935.2L228 935.2L235 936.3L238 937.2L241 937.5L245 937.1L250 938.4L264 939.7L268 939L276 940.2L280 939.2L288 940L294 939.9L304 942L312 942.6L314 942.4L316 941.5L318 941.7L325 942.4L334 944.2L340 944.7L343 944.6L346 943.7L349 943.6L355 943.8L358 944.7L367 944.6L369 943.5L371 943.2L379 943.6L382 944.8L384 944.8L402 943.9L409 944.5L411 943.4L413 943L415 943.1L418 944.3L421 944.4L424 943.7L426 943.7L432 945L434 944.8L436 943.9L445 945L449 946L451 946.2L454 945.3L457 945.6L460 946.6L469 947L472 948.5L478 949.1L481 949.2L484 948L486 948L490 948.9L499 948.9L505 949.7L507 948.5L509 948.2L511 948.3L514 949.7L517 949.9L520 949.2L522 949.4L526 950.9L529 951.1L532 950.5L534 950.6L540 952.1L542 951.9L544 950.9L546 951.1L550 952.7L562 954L571 953.7L574 954.8L576 954.8L580 954.1L586 953.8L595 954.7L598 954.2L604 954.3L607 954.5L610 956L619 956.2L631 958.1L633 957.2L635 957L637 957.2L640 958.7L642 958.8L655 958.8L658 958.2L661 958.1L665 959.3L670 958.9L685 958.7L694 957.7L703 958.5L712 959.9L720 960.4L730 959.1L736 958.8L742 959.3L755 958.6L763 958.8L766 957.9L774 957.2L778 958.3L786 958.6L788 958.1L790 956.8L792 956.7L796 957.4L805 957.1L808 958.2L814 957.7L820 958.2L825 957.9L825 1324.5L99 1324.5L99 919.5Z" fill="#00aaaa" stroke="#000" stroke-width="0.8"/>
<path d="M99 919.5L99 919L107 918.9L113 920.5L133 923L135 924.3L137 924.9L139 925.2L143 924.8L151 926.6L154 926.1L156 926.3L158 927L160 928.3L163 928.7L166 928.3L174 928.4L187 930.9L192 932.2L211 934.5L217 935.8L228 935.9L235 937L238 937.9L241 938.2L245 937.8L250 939.1L264 940.4L268 939.8L276 941L280 940L288 940.8L295 940.8L304 943L313 943.7L315 942.9L317 942.7L325 943.6L335 945.6L340 945.9L343 945.9L346 944.9L349 944.8L355 945L358 945.8L367 945.7L370 944.3L372 944.2L379 944.6L382 945.8L384 945.8L402 944.9L409 945.5L411 944.4L413 944.1L415 944.1L418 945.3L421 945.4L424 944.7L426 944.8L432 946.1L434 945.8L436 945L445 946L449 947L451 947.2L454 946.4L457 946.6L460 947.7L469 948.1L472 949.5L478 950.1L481 950.2L484 949L486 949L490 949.9L499 949.9L505 950.7L507 949.5L509 949.2L511 949.4L514 950.6L517 950.9L520 950.2L522 950.3L526 951.8L529 952L532 951.4L534 951.5L540 953L542 952.8L544 951.9L546 952L550 953.6L562 955L571 954.7L574 955.7L576 955.8L580 955L586 954.8L595 955.7L598 955.3L604 955.3L607 955.6L610 957.1L619 957.3L631 959.2L633 958.2L635 958.1L637 958.3L640 959.7L642 959.8L655 959.8L658 959.2L661 959.1L665 960.3L670 959.8L685 959.6L694 958.6L703 959.3L712 960.7L720 961.1L730 959.9L736 959.6L742 960.1L755 959.5L763 959.7L766 958.8L774 958.1L778 959.1L786 959.5L788 959L790 957.6L792 957.5L796 958.2L805 957.9L808 959L814 958.5L820 959.1L825 958.8L825 1324.5L99 1324.5L99 919.5Z" fill="#00a6ac" stroke="#000" stroke-width="0.8"/>
<path d="M99 919.5L99 919.1L107 919L113 920.7L133 923.2L135 924.5L137 925.1L139 925.4L143 925L151 926.9L154 926.4L156 926.6L158 927.3L160 928.6L163 929.1L166 928.7L174 928.9L187 931.3L192 932.7L211 935.1L217 936.4L228 936.5L238 938.6L241 938.9L245 938.5L250 939.9L264 941.2L268 940.5L276 941.8L280 940.8L288 941.7L295 941.7L304 943.9L313 944.7L315 943.9L317 943.8L331 945.8L335 946.9L340 947.2L343 947.1L346 946.1L349 946L355 946.1L358 946.9L367 946.7L370 945.3L373 945.2L379 945.6L382 946.8L384 946.8L402 946L409 946.5L411 945.4L413 945.1L415 945.2L418 946.4L421 946.5L424 945.8L426 945.8L432 947.1L434 946.9L436 946L445 947.1L449 948.1L451 948.2L454 947.4L457 947.7L460 948.7L469 949.1L472 950.5L478 951.2L481 951.2L484 950.1L486 950L490 951L499 950.9L505 951.7L507 950.5L509 950.2L511 950.4L515 951.7L517 951.8L520 951.2L523 951.4L527 952.8L529 952.9L532 952.3L535 952.5L538 953.7L540 954L542 953.7L544 952.8L546 952.9L550 954.5L564 956L571 955.7L574 956.7L586 955.8L595 956.8L598 956.3L605 956.4L607 956.6L610 958.1L619 958.4L631 960.3L633 959.3L635 959.1L637 959.4L640 960.8L642 960.9L655 960.8L658 960.1L661 960.1L665 961.3L691 960.1L694 959.4L703 960.2L712 961.6L720 961.9L730 960.6L736 960.4L742 960.9L763 960.5L766 959.6L774 958.9L778 960L786 960.3L788 959.8L790 958.5L792 958.4L796 959.1L805 958.8L808 959.9L814 959.4L820 959.9L825 959.6L825 1324.5L99 1324.5L99 919.5Z" fill="#00a2ae" stroke="#000" stroke-width="0.8"/>
<path d="M99 919.5L107 919.2L113 920.8L133 923.4L135 924.8L137 925.4L139 925.7L142 925.2L150 927.1L154 926.7L156 927L158 927.6L160 928.9L163 929.4L166 929L174 929.3L187 931.8L192 933.2L211 935.6L216 936.9L228 937.2L238 939.2L245 939.3L250 940.6L264 941.9L268 941.3L271 941.5L274 942.5L276 942.7L280 941.7L288 942.5L295 942.6L304 944.9L313 945.8L315 945L317 944.9L331 947.1L335 948.1L340 948.4L343 948.3L346 947.3L349 947.2L355 947.3L358 948L367 947.8L370 946.4L373 946.2L379 946.7L382 947.8L384 947.9L402 947L409 947.5L411 946.5L413 946.1L415 946.2L418 947.4L421 947.6L424 946.8L426 946.9L432 948.2L434 948L436 947.1L445 948.2L449 949.1L451 949.3L454 948.4L457 948.7L460 949.7L469 950.1L472 951.5L478 952.2L481 952.2L484 951.1L486 951.1L490 952L499 951.9L505 952.7L507 951.5L509 951.2L511 951.4L515 952.7L517 952.8L520 952.1L523 952.3L527 953.7L529 953.8L532 953.2L535 953.4L538 954.6L540 954.9L545 953.8L547 954L550 955.4L564 957L571 956.6L574 957.7L577 957.7L580 956.9L586 956.8L595 957.8L598 957.3L605 957.4L607 957.6L610 959.2L619 959.4L631 961.4L633 960.4L635 960.2L637 960.4L641 961.9L655 961.8L658 961.1L661 961.1L665 962.2L670 961.7L691 961L694 960.3L703 961L706 961.8L712 962.4L720 962.7L731 961.4L739 961.2L742 961.7L763 961.3L766 960.4L774 959.7L778 960.8L786 961.1L788 960.6L790 959.3L792 959.2L796 959.9L805 959.6L808 960.7L814 960.2L820 960.7L825 960.4L825 1324.5L99 1324.5L99 919.5Z" fill="#009ab2" stroke="#000" stroke-width="0.8"/>
<path d="M99 919.5L107 919.3L113 920.9L133 923.7L135 925L137 925.6L139 925.9L142 925.4L150 927.3L154 927L156 927.3L158 927.9L160 929.3L163 929.8L166 929.4L174 929.7L187 932.3L192 933.7L211 936.2L216 937.5L228 937.9L238 939.9L245 940L247 940.2L250 941.4L264 942.7L268 942.1L271 942.3L274 943.3L276 943.5L280 942.5L288 943.3L295 943.5L304 945.8L313 946.8L315 946L317 945.9L331 948.3L335 949.4L340 949.7L343 949.6L346 948.5L349 948.4L355 948.5L358 949.1L367 948.9L370 947.4L372 947.3L379 947.7L382 948.8L385 948.9L402 948L409 948.6L412 947.2L414 947.2L419 948.6L425 947.9L427 948L430 949.1L433 949.2L436 948.2L450 950.2L454 949.4L456 949.6L460 950.7L469 951.1L472 952.5L478 953.2L481 953.3L484 952.1L486 952.1L490 953L499 952.9L505 953.7L507 952.6L509 952.2L511 952.4L515 953.6L517 953.8L520 953.1L523 953.3L527 954.6L529 954.7L532 954.1L535 954.3L538 955.6L540 955.8L545 954.7L547 954.9L550 956.4L564 957.9L571 957.6L574 958.6L577 958.7L580 957.9L586 957.8L595 958.8L604 958.4L607 958.7L610 960.3L619 960.5L631 962.5L633 961.5L635 961.3L637 961.5L641 963L655 962.8L658 962.1L661 962.1L665 963.2L670 962.6L691 961.9L694 961.2L703 961.8L706 962.6L712 963.2L720 963.5L731 962.2L739 962L742 962.5L763 962.2L766 961.2L774 960.6L778 961.6L786 962L788 961.5L790 960.2L792 960.1L796 960.8L805 960.5L808 961.5L814 961L820 961.6L825 961.3L825 1324.5L99 1324.5L99 919.5Z" fill="#0096b4" stroke="#000" stroke-width="0.8"/>
<path d="M99 919.5L107 919.4L113 921.1L133 923.9L135 925.2L137 925.9L139 926.2L142 925.7L150 927.6L154 927.3L157 927.8L160 929.6L163 930.1L166 929.8L174 930.1L187 932.8L192 934.2L196.1 934.5L205 936.3L211 936.8L216 938.1L228 938.5L238 940.5L245 940.7L247 940.9L250 942.1L264 943.4L268 942.8L271 943L274 944.1L276 944.3L280 943.3L288 944.2L295 944.4L304 946.7L313 947.8L315 947.1L317 947L331 949.5L335 950.7L343 950.8L346 949.7L349 949.6L355 949.6L358 950.2L366 950L368 949.6L370 948.5L373 948.3L379 948.7L383 949.8L402 949L409 949.6L412 948.2L414 948.2L419 949.6L425 949L427 949.1L430 950.2L433 950.3L436 949.2L450 951.3L454 950.5L456 950.6L460 951.8L469 952.2L472 953.5L478 954.2L481 954.3L484 953.1L486 953.1L490 954L499 953.9L505 954.7L507 953.6L509 953.3L511 953.4L515 954.6L517 954.7L520 954L523 954.3L527 955.5L529 955.7L532 955.1L535 955.2L538 956.5L540 956.7L545 955.6L547 955.9L550 957.3L564 958.9L571 958.6L574 959.6L577 959.7L580 958.8L589 958.9L595 959.8L604 959.4L607 959.7L610 961.3L619 961.6L625 962.3L628 963.2L631 963.5L633 962.5L635 962.3L641 964L655 963.8L658 963.1L661 963.1L665 964.1L670 963.5L679 963.5L691 962.8L694 962L703 962.7L706 963.5L712 964L720 964.3L731 963L739 962.8L742 963.3L763 963L766 962L774 961.4L778 962.5L786 962.8L788 962.3L790 961L792 960.9L796 961.6L805 961.3L808 962.3L814 961.9L820 962.4L825 962.1L825 1324.5L99 1324.5L99 919.5Z" fill="#0092b6" stroke="#000" stroke-width="0.8"/>
<path d="M104.4 919.5L107 919.6L112 921L120 922.4L132 923.9L136 925.9L138 926.3L142 925.9L150 927.9L154 927.6L156 927.9L158 928.6L160 930L162 930.3L172 930.2L175 930.6L187 933.2L191 934.5L197 935.1L205 936.8L211 937.3L216 938.7L228 939.2L238 941.2L245 941.4L247 941.6L250 942.9L264 944.2L268 943.6L271 943.8L274 944.9L276 945.1L280 944.1L288 945L295 945.2L304 947.7L313 948.8L315 948.2L317 948.1L331 950.8L335 951.9L343 952L346 951L349 950.8L355 950.8L358 951.3L366 951.1L368 950.7L370 949.5L373 949.3L379 949.7L382 950.8L385 950.9L402 950L409 950.6L412 949.3L414 949.3L419 950.7L425 950L427 950.2L430 951.2L433 951.4L435 950.5L437 950.3L451 952.4L454 951.5L456 951.6L460 952.8L469 953.2L472 954.5L478 955.2L481 955.3L484 954.1L486 954.1L490 955L499 954.9L505 955.7L507 954.6L509 954.3L515 955.6L517 955.7L520 955L523 955.2L527 956.5L529 956.6L532 956L535 956.1L538 957.4L541 957.6L543 956.7L545 956.6L547 956.8L550 958.2L564 959.8L571 959.5L574 960.6L577 960.7L580 959.8L589 959.9L595 960.9L604 960.4L607 960.7L610 962.4L616 962.4L624 963.2L628 964.3L631 964.6L633 963.6L635 963.4L641 965.1L655 964.8L661 964L665 965.1L670 964.5L679 964.5L691 963.7L694 962.9L703 963.5L706 964.3L718 965.1L727 964.5L731 963.8L739 963.6L742 964.1L763 963.8L766 962.8L774 962.2L778 963.3L784 963.7L787 963.6L790 961.9L792 961.8L796 962.5L805 962.1L808 963.2L814 962.7L820 963.2L825 963L825 1324.5L99 1324.5L99 919.6L104.4 919.5Z" fill="#008aba" stroke="#000" stroke-width="0.8"/>
<path d="M104.9 919.5L118 922.2L133 924.4L137 926.4L139 926.7L142 926.2L150 928.2L154 927.9L156 928.2L158 928.9L160 930.3L163 930.8L166 930.5L174 930.9L187 933.7L192 935.2L198 935.8L205 937.4L211 937.9L216 939.3L228 939.8L238 941.9L247 942.3L250 943.6L264 945L268 944.3L271 944.6L274 945.8L276 945.9L280 945L295 946.1L304 948.6L313 949.9L317 949.2L331 952L335 953.2L343 953.3L346 952.2L349 952L355 952L358 952.4L366 952.2L368 951.7L370 950.6L373 950.4L379 950.8L382 951.8L385 951.9L402 951L409 951.6L412 950.3L414 950.3L419 951.8L425 951.1L427 951.2L430 952.3L433 952.4L437 951.4L451 953.4L455 952.6L460 953.8L469 954.2L472 955.5L478 956.2L481 956.3L484 955.1L486 955.1L490 956L499 955.9L505 956.7L507 955.6L509 955.3L516 956.6L520 956L523 956.2L527 957.4L532 956.9L535 957.1L538 958.3L541 958.5L543 957.7L545 957.5L547 957.8L550 959.2L563 960.7L571 960.5L574 961.6L577 961.6L580 960.7L589 960.9L592 961.7L595 961.9L604 961.5L607 961.8L609 963L611 963.5L616 963.5L624 964.2L628 965.4L631 965.7L633 964.7L635 964.5L641 966.1L655 965.8L661 965L664 966.1L666 966L670 965.4L678 965.4L691 964.6L694 963.8L703 964.3L706 965.2L718 966L731 964.6L763 964.7L766 963.7L773 963.1L775 963.1L778 964.2L785 964.6L787 964.4L790 962.8L792 962.6L796 963.4L805 963L808 964L814 963.5L820 964.1L825 963.8L825 1324.5L99 1324.5L99 919.7L104.9 919.5Z" fill="#0086bc" stroke="#000" stroke-width="0.8"/>
<path d="M99 920.5L99 919.8L106 919.6L114 921.7L133 924.6L137 926.6L139 926.9L142 926.4L150 928.5L154 928.2L156 928.5L158 929.2L160 930.6L163 931.2L166 930.9L174 931.2L187 934.1L191.1 935.5L197 936L205 937.9L210 938.2L214 939.5L229 940.6L238 942.5L247 943L250 944.3L253 944.7L265 945.7L268 945L270 945.2L274 946.6L276 946.7L280 945.7L295 946.9L304 949.5L310.4 950.5L313 950.8L316 950.1L319 950.6L335 954.5L343 954.5L346 953.5L349 953.3L358 953.6L367 953.4L370 951.7L372 951.5L379 952L382 953.1L385 953.2L402 952.3L409 952.9L412 951.5L415 951.5L418 953L419 953.1L426 952.5L430 953.6L433 953.8L436 952.7L444.6 953.5L447 954.3L451 954.7L454 953.9L457 954.1L460 955.2L469 955.5L472 956.8L478 957.4L482 957.3L483 956.5L485 956.3L487.7 956.5L490 957.4L499 957.3L504 957.9L508 956.6L511 956.8L515 958L517 958.1L520 957.3L524 957.5L525 958.3L529 958.7L532 958.1L535 958.3L538 959.4L542 959.4L544 958.7L548 959.3L550 960.4L562 961.9L571 961.9L574 962.9L577 962.8L580 962L589 962.3L592 963.1L595 963.3L598 962.8L604 962.9L608 963.4L609 964.3L613 965.1L624.3 965.5L628 966.9L631 967.1L634 965.5L641 967.5L655 967.1L657 966.5L660 966.3L662 966.4L664 967.3L671 966.4L678 966.7L682 966.1L691 965.8L695 964.9L704 965.5L706 966.3L718 967.1L731 965.8L762 965.7L766 964.7L772 964.3L776 964.4L777 965.2L785 965.8L787 965.6L790 964L792 963.9L796 964.6L805 964.2L808 965.2L814 964.8L825 965.1L825 1324.5L99 1324.5L99 920.5Z" fill="#0082be" stroke="#000" stroke-width="0.8"/>
<path d="M99 920.5L99 919.9L106 919.8L113 921.6L133 924.8L137 926.8L139 927.1L142 926.7L150 928.8L154 928.5L156 928.8L158 929.5L160 931L163 931.5L166 931.2L174 931.6L192 936.1L196 936.3L205 938.4L211 938.9L214 940L217 940.4L220 940.2L229 941.1L238 943L247 943.6L250 944.9L253 945.3L265 946.4L268 945.7L270 945.9L274 947.2L276 947.4L280 946.5L295 947.7L304 950.3L313 951.7L317 951.2L335 955.7L340 956.1L349 954.8L367 955.3L370 953.8L373 953.7L379 954.2L382 955.2L385 955.4L401 954.8L409 955.5L412 954.3L414 954.3L419 955.9L425 955.3L427 955.4L430 956.4L433 956.6L437 955.7L451 957.6L454 956.7L456 956.9L460 958.1L469 958.5L472 959.6L478 960.5L481 960.6L484 959.5L486 959.5L490 960.5L499 960.6L505 961.4L507 960.5L509 960.3L516 961.6L520 961L523 961.3L527 962.4L535 962.1L538 963.3L541 963.6L543 962.8L545 962.6L547 962.9L550 964.2L564 965.6L571 965.5L574 966.5L577 966.5L581 965.5L589 965.8L592 966.6L595 966.8L605 966.3L607 966.5L610 968.2L624 968.8L628 970.1L631 970.3L634 968.9L637 969.2L640 970.5L646 970L655 970.1L661 969.4L665 970.3L671 969.5L677 969.8L682 969L691 968.8L694 967.9L703 968.5L706 969.4L718 970.1L727 969.5L731 968.7L739 968.7L742 969.1L763 969L766 968L774 967.6L778 968.6L786 969.1L788 968.6L790 967.3L792 967.2L796 968.1L805 967.7L808 968.6L814 968.2L820 968.7L825 968.6L825 1324.5L99 1324.5L99 920.5Z" fill="#007dc0" stroke="#000" stroke-width="0.8"/>
<path d="M99 920.5L99 920L106 919.9L113 921.8L133 925L137 927L139 927.4L142 926.9L150 929.1L154 928.8L156 929.2L158 929.9L160 931.3L163 931.9L166 931.6L174 932L187 935L192 936.6L196 936.7L204 938.6L210 939.1L216 940.7L220 940.7L229 941.6L238 943.5L247 944.1L250 945.5L253 945.9L265 947L268 946.3L270 946.5L274 947.9L276 948.1L280 947.2L295 948.5L304 951.1L313 952.6L317 952.1L334 956.7L340 957.5L349 956.5L366 957.4L368 957.1L370 956L373 955.9L385 957.9L400 957.5L409 958.4L412 957.3L414 957.4L419 959.1L421 959.2L425 958.4L433 959.7L437 959L451 960.8L455 960L460 961.3L469 961.7L472 962.7L475 962.9L478 963.7L481 963.9L484 962.9L487 963L490 964L499 964.3L504 965.1L509 964.3L517 965.7L520 965.2L526 966.4L535 966.2L538 967.4L540 967.6L545 966.9L547 967.1L550 968.3L564 969.5L571 969.5L574 970.4L577 970.5L581 969.3L589 969.7L592 970.5L595 970.6L606 970.1L608 970.7L610 971.9L624 972.3L628 973.6L631 973.8L634 972.4L637 972.6L640 973.9L646 973.3L655 973.4L661 972.7L664 973.6L671 972.8L676 973.2L679 973L682 972.3L691 972.2L694 971.2L703 971.8L706 972.8L718 973.4L727 973L731 972.1L757 972.9L763 972.6L766 971.6L774 971.3L778 972.3L785 972.8L787 972.7L790 971.1L792 971L796 971.9L804 971.5L808 972.4L814 972.1L825 972.6L825 1324.5L99 1324.5L99 920.5Z" fill="#0075c4" stroke="#000" stroke-width="0.8"/>
<path d="M99 920.5L99 920.1L106 920L113 921.9L133 925.2L137 927.3L139 927.6L142 927.1L150 929.3L154 929.1L156 929.5L158 930.2L160 931.6L163 932.2L172 932.1L174.6 932.5L192 937L197 937.3L204 939.1L211 939.7L216 941.2L220 941.1L229 942L238 944L247 944.7L250 946L253 946.5L265 947.6L268 946.9L270 947.1L274 948.5L276 948.7L280 947.8L295 949.2L307 952.4L313 953.5L316 952.9L319 953.5L334 957.9L340 958.9L349 958.1L366 959.5L368 959.2L370 958.2L373 958.2L385 960.3L400 960.3L409 961.3L412 960.3L414 960.4L419 962.2L421 962.3L424 961.5L427 961.8L430 962.6L433 962.9L437 962.2L451 963.9L454 963.2L456 963.3L460 964.5L469 965L479 967L481 967.2L484 966.3L486 966.4L490 967.5L498 967.9L505 968.8L509 968.2L516 969.7L520 969.3L527 970.5L534 970.3L540 971.7L545 971.1L550 972.4L564 973.5L571 973.5L574 974.4L577 974.4L581 973.1L589 973.6L594 974.4L606 973.9L610 975.5L624 975.8L628 977.1L631 977.3L634 975.8L637 976.1L640 977.3L643 977.3L646 976.6L654 976.7L661 976.1L664 976.9L672 975.9L676 976.5L679 976.4L682 975.5L691 975.6L694 974.6L703 975.2L706 976.2L718 976.7L727 976.4L731 975.5L739 975.6L742 976L751 975.9L757 976.5L763 976.2L766 975.2L774 974.9L778 976L785 976.5L787 976.4L790 975L792 974.9L796 975.8L804 975.4L808 976.2L814 976L825 976.5L825 1324.5L99 1324.5L99 920.5Z" fill="#0071c6" stroke="#000" stroke-width="0.8"/>
<path d="M99 920.5L107 920.3L113 922.1L133 925.4L137 927.5L139 927.8L142 927.4L150 929.6L154 929.4L157 930L159 931.4L161 932.2L174 932.8L187 935.8L192 937.4L197 937.7L202 939.1L210 940L216 941.6L220 941.5L229 942.5L238 944.5L247 945.2L250 946.6L253 947.1L265 948.2L268 947.6L270 947.7L274 949.2L276 949.4L280 948.5L295 950L307 953.2L313 954.3L316 953.8L319 954.4L334 959.2L340 960.3L349 959.8L366 961.6L370 960.4L373 960.5L385 962.8L388 962.5L400 963L409 964.2L412 963.3L415 963.5L418 965.2L420 965.4L424 964.7L431 965.8L437 965.5L451 967.1L455 966.4L460 967.7L469 968.2L479 970.3L486 969.8L490 971L505 972.5L508 972L511 972.4L517 973.8L520 973.4L526 974.5L535 974.5L539 975.8L545 975.4L550 976.5L571 977.5L574 978.3L577 978.3L579 977.3L581 977L593 978.2L606 977.8L610 979.1L625 979.5L628 980.7L630 980.8L632 980.5L634 979.3L637 979.5L640 980.7L643 980.7L646 979.9L661 979.5L664 980.2L672 979.2L676 979.8L679 979.7L682 978.7L691 978.9L694 977.9L703 978.6L706 979.5L718 980L727 979.8L730 979L732 978.9L739 979L742 979.5L751 979.4L754 980L757 980.1L763 979.7L766 978.8L774 978.6L778 979.7L784 980.2L787 980.2L790 978.8L792 978.8L796 979.7L804 979.2L808 979.9L815 979.8L825 980.5L825 1324.5L99 1324.5L99 920.5Z" fill="#006dc8" stroke="#000" stroke-width="0.8"/>
<path d="M99 920.5L107 920.5L117 923L133 925.7L137 927.7L139 928.1L142 927.6L150 929.9L154 929.7L157 930.3L159 931.8L161 932.5L174 933.1L187 936.2L192 937.8L197 938L202 939.5L210 940.4L216 942L220 942L229 943L238 945L247 945.8L250 947.2L253 947.6L265 948.8L268 948.2L270 948.4L274 949.8L276 950L280 949.2L295 950.7L307 954L313 955.2L316 954.7L319 955.3L325 957.7L334 960.4L340 961.6L349 961.4L352 962.2L361 962.8L366 963.6L370 962.6L373 962.8L385 965.2L388 965L400 965.7L408 967L412 966.3L415 966.6L418 968.3L420 968.5L424 967.8L431 969L438 968.8L451 970.2L455 969.7L460 970.9L469 971.5L479 973.5L486 973.3L490 974.4L505 976.1L511 976.3L517 977.9L520 977.5L525 978.5L535 978.7L538 979.9L544 979.7L552 980.8L556 980.6L562 981.3L571 981.6L574 982.3L577 982.2L579 981.2L581 980.9L592 982L606 981.6L610 982.7L625 983L628 984.2L630 984.3L632 983.9L634 982.7L637 982.9L640 984.1L642 984.1L647 983.2L661 983L665 983.5L673 982.4L676 983.1L678 983.1L682 982L691 982.3L694 981.3L703 982L706 982.8L718 983.3L727 983.1L730 982.4L738 982.4L742 983L751 982.8L754 983.6L757 983.7L763 983.3L766 982.4L774 982.3L778 983.4L784 983.9L787 983.9L790 982.7L792 982.7L796 983.6L803 983.1L825 984.5L825 1324.5L99 1324.5L99 920.5Z" fill="#0065cc" stroke="#000" stroke-width="0.8"/>
<path d="M99 920.5L106.4 920.5L117 923.2L133 925.9L136 927.7L138 928.1L142 927.8L150 930.2L154 930L156.4 930.5L160 932.7L162 933.1L174 933.5L187 936.6L192 938.2L197 938.4L202 940L210 940.8L216 942.5L220 942.4L229 943.5L238 945.5L247 946.3L250 947.8L253 948.2L256 948.2L265 949.4L268 948.8L270 949L274 950.5L276 950.7L280 949.9L295 951.5L307 954.9L313 956L316 955.6L319 956.3L325 958.8L340 963L349 963.1L352 963.9L361 964.6L366 965.7L370 964.8L373 965L385 967.7L388 967.4L400 968.5L408 969.9L412 969.4L415 969.7L418 971.3L420 971.5L424 971L433 972.3L438 972.1L451 973.4L454 972.8L456 973L460 974.1L469 974.7L479 976.6L485 976.6L490 977.9L510 980L517 981.9L520 981.6L525 982.6L535 982.8L538 984L553 984.9L558 984.7L574 986.2L577 986.1L581 984.8L592 985.7L606 985.5L610 986.3L625 986.6L628 987.7L630 987.8L632 987.4L634 986.2L637 986.3L640 987.5L642 987.5L646 986.6L661 986.5L664 986.9L673 985.7L676 986.4L678 986.4L683 985.2L691 985.7L694 984.7L706 986.1L718 986.6L727 986.5L730 985.8L738 985.9L742 986.5L751 986.3L754 987.1L757 987.2L763 986.9L766 986.1L774 985.9L778 987.1L784 987.6L787 987.6L790 986.6L792 986.6L796 987.5L803 987L817 987.7L820 988.3L825 988.5L825 1324.5L99 1324.5L99 920.5Z" fill="#0061ce" stroke="#000" stroke-width="0.8"/>
<path d="M104.9 920.5L120 924L132 925.8L136 927.9L138 928.4L142 928.1L151 930.7L154 930.3L156 930.7L158 931.5L160 933L162 933.4L174 933.9L181 935.4L192 938.6L197 938.8L202 940.4L210 941.2L216 942.9L220 942.8L229 944L238 946L247 946.9L250 948.3L253 948.8L256 948.8L265 950L268 949.4L270 949.6L274 951.1L276 951.4L280 950.6L295 952.2L307 955.7L313 956.9L316 956.5L319 957.2L325 959.9L340 964.4L348 964.6L352 965.7L361 966.5L366 967.8L370 967L373 967.3L385 970.1L388 969.9L397 971.2L400 971.2L408 972.9L412 972.5L415 972.8L417 974L419 974.5L421 974.7L424 974.2L433 975.4L451 976.5L454 976.1L457 976.4L460 977.3L469 977.9L479 979.8L485 980L490 981.3L510 983.9L517 985.9L520 985.7L525 986.7L535 987L538 988.2L553 988.9L558 988.7L574 990.1L577 990.1L580 988.8L583 988.7L586 989.5L605 989.4L616 990.2L625 990.3L628 991.2L630 991.3L632 990.9L634 989.6L637 989.7L640 991L642 991L646 990L664 990.2L671 989.1L677 989.7L679 989.6L682 988.5L691 989L695 988.2L706 989.3L718 989.9L738 989.3L742 990L751 989.7L754 990.5L757 990.7L763 990.4L766 989.8L774 989.6L778 990.8L784 991.3L792 990.5L796 991.4L799 991.5L802 991L814 991.4L825 992.5L825 1324.5L99 1324.5L99 920.6L104.9 920.5Z" fill="#005dd0" stroke="#000" stroke-width="0.8"/>
<path d="M99 921.5L99 920.7L106 920.7L118 923.8L133 926.3L135 927.7L138 928.6L142 928.3L150 930.8L156 931L157.4 931.5L160 933.3L162 933.8L174 934.3L181 935.8L193 939.2L197 939.2L202 940.8L210 941.6L217 943.5L220 943.3L226 944L238 946.5L246 947.2L250 948.9L252 949.2L256 949.3L265 950.6L268 950L270 950.2L274 951.8L276 952L280 951.3L295 953L307 956.5L313 957.7L316 957.4L319 958.1L325 961.1L330 962.8L341 966L348 966.3L352 967.5L361 968.4L366 969.8L370 969.2L373 969.6L376 970.7L385 972.6L388 972.4L397 973.9L400 973.9L408 975.8L412 975.6L415 975.9L419 977.6L424 977.3L433 978.6L445 979.4L451 979.7L454 979.3L460 980.5L469 981.1L479 983L485 983.4L490 984.7L511 987.8L517 990L520 989.7L525 990.9L535 991.2L538 992.5L547 993L558 992.8L574 994.1L577 994L580 992.7L583 992.6L586 993.5L601 993.2L624 993.8L630 994.7L632 994.3L634 993.1L637 993.2L640 994.4L642 994.4L646 993.3L664 993.5L672 992.4L677 993L679 992.9L682 991.8L691 992.4L695 991.6L700 992.3L718 993.2L727 993.3L730 992.7L736 992.7L743 993.5L750 993.1L754 994L757 994.1L774 993.2L778 994.5L784 995L787 995L790 994.5L798 995.4L802 994.9L814 995.2L817 995.4L820 996.3L825 996.5L825 1324.5L99 1324.5L99 921.5Z" fill="#0059d2" stroke="#000" stroke-width="0.8"/>
<path d="M99 921.5L99 920.9L106 920.9L117 923.7L132 926.2L135 927.9L138 928.9L142 928.6L150 931.1L156 931.3L160 933.7L162 934.2L173 934.5L181 936.2L193 939.6L196 939.4L199 940L202 941.3L210 942.1L216 943.8L220 943.7L226 944.5L238 947L246 947.8L252 949.8L256 949.9L265 951.2L268 950.6L270 950.9L274 952.4L276 952.7L280 951.9L295 953.7L307 957.3L313 958.6L316 958.3L319 959.1L325 962.2L340 967.2L348 967.9L352 969.2L361 970.3L364 971.6L367 972L370 971.4L373 971.8L376 973.1L385 975L388 974.9L397 976.5L400 976.7L408 978.8L415 979L419 980.6L424 980.5L434 981.9L445 982.7L454 982.6L460 983.6L469 984.2L511 991.6L517 994L520 993.8L525 995.1L535 995.5L538 996.7L547 997.4L557 996.8L574 998L577 997.9L580 996.7L583 996.6L586 997.5L593 997L613 997.1L616 997.5L625 997.5L630 998.2L632 997.8L634 996.6L637 996.6L640 997.9L642 997.9L646 996.7L655 996.6L658 997.2L667 996.7L672 995.7L676 996.3L679 996.2L682 995.1L691 995.7L694 995.1L700 995.8L718 996.5L727 996.6L736 996.1L745 997L750 996.5L754 997.4L757 997.6L774 996.9L778 998.1L784 998.7L792 998.5L799 999.3L802 998.8L814 999.1L817 999.3L820 1000.3L825 1000.6L825 1324.5L99 1324.5L99 921.5Z" fill="#0051d7" stroke="#000" stroke-width="0.8"/>
<path d="M99 921.5L99 921L106 921.1L117 924L132.2 926.5L135 928.2L138 929.2L142 928.9L145 929.5L149 931.2L155.2 931.5L157.9 932.5L160 934.1L162 934.6L174 935.1L180.8 936.5L193 940.1L197 940L202 941.7L210 942.5L216 944.2L220 944.1L229 945.4L239 947.7L247 948.5L251 950.3L256 950.5L265 951.9L268 951.3L271 951.7L275 953.2L278 953.3L280 952.6L295 954.5L304 957.3L312 959.2L316 959.2L319 960L325 963.3L340 968.6L343 969.2L346 969.1L353 971.2L361 972.2L365 973.8L367 974.1L370 973.6L373 974.1L376 975.4L385 977.4L388 977.4L397 979.2L400 979.4L408 981.8L413 981.9L415 982.2L418 983.5L424 983.7L434 985.1L445 985.9L454 985.8L461 986.9L469 987.4L505 994.1L511 995.4L517 997.9L520 997.9L525 999.3L535 999.7L538 1001L547 1001.7L550 1001.1L559 1001L569 1002L577 1001.8L580 1000.7L582 1000.6L586 1001.4L593 1000.7L605 1001.2L613 1000.6L616 1001.2L625 1001.1L630 1001.7L632 1001.3L634 1000.1L637 1000.1L640 1001.3L642 1001.3L646 1000.1L655 999.9L659 1000.6L667 1000L672 999.1L676 999.6L679 999.5L682 998.5L685 998.4L688 999.1L695 998.5L700 999.2L709 999.2L724 1000L738 999.6L744 1000.5L749 999.8L757 1001L773 1000.5L775 1000.6L778 1001.8L784 1002.3L792 1002.4L799 1003.2L808 1002.7L814 1003L817 1003.2L820 1004.3L825 1004.6L825 1324.5L99 1324.5L99 921.5Z" fill="#004dd9" stroke="#000" stroke-width="0.8"/>
<path d="M99 921.5L99 921.2L106 921.2L112 923.1L121 925.1L132 926.8L137 929.3L143.7 929.5L150 931.9L154 931.8L157 932.5L160 934.6L162 935.1L174 935.5L193 940.7L197.2 940.5L202 942.3L205 942.9L208 942.7L217 945L220 944.6L226.4 945.5L238 948.2L247 949.3L251 951.1L257.7 951.5L265 952.7L268 952.2L271 952.5L274 954L276 954.3L278 954.3L280 953.4L289 955L294.8 955.5L307 959.2L314 960.6L316 960.3L320 961.5L325 964.7L337 968.7L340 970.1L349 971.4L352 972.9L361 974.2L366 976.1L370 975.9L373 976.5L376 977.9L385 980L388 980.1L397 982L401 982.4L408 984.8L415 985.4L420 986.9L424 986.9L442 989.1L454 989.2L469 990.7L471 991.3L484.9 993.5L499 997L503.5 997.5L511 999.3L517 1002.1L520 1002.1L525 1003.6L535 1004.1L538 1005.4L547 1006L550 1005.3L565 1005.4L567 1006.1L570 1006.2L577 1005.9L580 1004.9L582 1004.8L586 1005.5L595 1004.5L605 1005.3L608 1005.1L609.3 1004.5L613 1004.4L616 1005.1L625 1004.9L631 1005.3L634 1003.9L637 1003.9L640 1005L643 1005L646 1003.9L655 1003.5L657 1004.2L659 1004.4L673 1002.7L675 1003.2L679 1003.1L681 1002.3L685 1002.1L688 1002.8L695 1002.4L703 1003.1L705 1002.5L708.2 1002.5L724 1003.8L739 1003.4L742 1004.2L744 1004.3L748 1003.5L756 1004.6L769 1005L771 1004.4L775 1004.5L778 1005.8L783 1006.3L799 1007.3L809 1006.9L817 1007.5L819 1008.3L825 1009L825 1324.5L99 1324.5L99 921.5Z" fill="#0049db" stroke="none"/>
<path d="M99 921.5L106 921.4L120 925.2L132 927.3L138 930.1L142 929.7L145.2 930.5L149 932.3L155 932.6L157.7 933.5L160 935.3L163 936L169 936.4L172 936.1L175 936.6L181 938L192 941.3L196 941.2L199 941.8L202 943.2L205 943.8L209 943.8L216 945.7L220 945.6L229 947L238 949.2L247 950.7L250 952.4L253 953L256 953L265 954.6L268 954.1L271 954.5L275 956.2L277 956.5L280 955.8L296 958.3L307 961.6L313 963L316 962.9L319 963.7L325 966.9L337 970.8L340 972.4L348 973.9L355 976.4L361 977.3L365 979.1L367 979.5L370 979.3L373 980L376 981.6L385 983.7L388 983.9L397 985.8L400 985.9L403 986.7L408 988.8L436 993.9L445 995L448 994.6L469 997.2L472 998.3L478 999.1L499 1003.9L505 1004.8L511 1006.2L517 1008.7L520 1008.7L525 1010.1L535 1010.7L538 1012.2L547 1012.8L550 1012.2L565 1012.5L569 1013.6L577 1013L580 1012.3L583 1012.2L587 1012.9L592 1012L595 1012.1L604 1013.5L607 1013.6L610 1012.7L612 1012.7L616 1013.5L625 1013.5L631 1014.3L633 1013.3L635 1013.1L637 1013.2L640 1014.3L643 1014.5L646 1013.6L655 1013.7L659 1014.9L670 1014.2L679 1014.6L683 1014.2L703 1016.3L706 1015.8L709 1016.1L715 1016.7L718 1017.8L738 1018.3L745 1019.2L748 1018.2L750 1018.2L754 1019L781 1021L790 1022.6L805 1023.3L809 1022.5L817 1023L820 1024.3L825 1024.6L825 1324.5L99 1324.5L99 921.5Z" fill="#0041df" stroke="#000" stroke-width="0.8"/>
<path d="M99 921.5L106 921.6L119 925.3L132 928L137 930.4L139 930.9L142 930.4L150 933.2L154 933.3L156 933.7L158 934.6L160 936.2L163 937L174 937.5L181 938.9L193 942.6L196 942.3L204 944.7L208 944.7L216 946.7L220 946.6L229 948.1L247 952.4L250 954.2L253 954.9L256 954.9L265 956.7L269 956.4L271 956.8L274 958.4L277 958.8L280 958.3L283 958.8L297 961.4L304 963.6L313 965.7L316 965.6L319 966.4L325 969.4L328 970L337 973.1L341 975.1L348 976.7L355 979.5L361 980.4L364 982.2L372 983.4L376 985.3L385 987.6L400 989.8L403 990.5L407 992.5L436 999.3L445 1000.7L448 1000.3L469 1004L472 1005.1L478 1006L488 1008.8L511 1013.3L517 1015.4L520 1015.4L525 1016.8L535 1017.4L538 1019.1L547 1019.5L550 1019.3L559 1020L565 1019.7L569 1021.1L580 1019.9L588 1020.3L593 1019.7L604 1021.8L607 1021.9L611 1021.3L616 1022.2L625 1022.3L630 1023.4L634 1022.7L643 1024.1L646 1023.6L652 1023.9L655 1024.2L659 1025.5L689 1027.1L691 1027.4L695 1029L708 1029.8L715 1031.1L718 1032.6L721 1032.9L736 1033.4L745 1034.2L748 1033.3L750 1033.4L763 1034.6L774 1036.5L778 1036.1L781 1036.5L791 1038.7L796 1038.5L805 1039.5L808 1038.9L816 1039.1L820 1040.3L825 1040.6L825 1324.5L99 1324.5L99 921.5Z" fill="#003de1" stroke="#000" stroke-width="0.8"/>
<path d="M99 922.5L99 921.6L106 921.8L118 925.4L133 928.9L136 930.8L138 931.3L142 931.2L150 934L154 934.1L156 934.6L158 935.5L160 937.2L163 938L173 938.3L181 940L193 943.7L196 943.3L199 943.9L202 945.4L204 945.8L208 945.7L216 947.8L220 947.7L229 949.2L247 954.1L250 956L253 956.8L256 956.8L265 958.8L269 958.6L271 959L274 960.7L277 961.2L280 960.8L282 961.2L298 964.5L313 968.4L317 968.6L325 971.9L328 972.2L332 973.5L337 975.4L340 977.2L348 979.4L353 981.8L361 983.6L364 985.4L366 986L370 986.4L373 987.3L376 989.1L379 989.9L391 992.5L402 994.1L406 996.3L436 1004.6L445 1006.4L449 1006.2L456 1008.3L460 1008.8L469 1010.8L472 1011.9L478 1013L487 1015.8L511 1020.4L517 1022.1L520 1022.2L528 1024L532 1023.8L535 1024.3L538 1026L550 1026.4L559 1027.5L562 1026.7L565 1026.9L567 1028.1L569 1028.5L571 1028.5L574 1027.5L595 1027.6L598 1028.7L604 1029.8L610 1029.9L618 1031L625 1031.2L628 1032.2L634 1032.3L643 1033.7L652 1034.3L658 1035.7L678 1038.1L685 1039.7L688 1039.4L691 1040L695 1042.3L707 1043.5L715 1045.5L718 1047.2L721 1047.8L727 1048.4L730 1047.9L745 1049.1L756 1049.1L763 1050L766 1051.1L772 1052.2L775 1052.6L778 1051.9L787 1053.2L791 1054.5L810 1055.7L817 1055.2L820 1056.2L825 1056.6L825 1324.5L99 1324.5L99 922.5Z" fill="#0039e3" stroke="#000" stroke-width="0.8"/>
<path d="M99 922.5L99 921.9L100 921.9L105 921.9L107.9 922.5L118 925.8L133 929.6L136 931.5L138 932L140 932.3L142 931.9L145 932.7L150 934.9L154 935L156 935.5L158 936.4L160 938.1L163 939L173 939.3L181 941L193 944.8L196 944.3L199 945L202 946.5L204 946.9L208 946.8L216 948.8L220 948.7L229 950.4L247 955.8L250 957.8L253 958.7L256 958.7L265 961L269 960.9L271 961.3L275 963.2L281 963.5L313 971.1L318 971.6L324 974.1L328 974.5L332 975.7L337 977.7L340 979.6L348 982.2L353 984.7L361 986.8L364 988.7L366 989.3L373 990.9L376 992.8L378 993.4L391 996.4L402 998L406 1000.3L430 1008.3L445 1012.1L449 1012L455 1014.4L461 1015.5L480 1020.6L488 1023.3L497 1024.6L503 1026.4L520 1029L526 1030.5L529 1031L532 1030.6L534 1030.9L538 1032.9L546 1032.9L559 1034.9L562 1033.9L565 1034.2L567 1035.4L569 1035.9L571 1035.9L574 1034.8L589 1035.4L592 1035.1L604 1037.8L623 1039.8L628 1041.2L640 1042.5L670 1048.6L678 1049.8L685 1052.1L689 1052.2L691 1052.8L694 1055L697 1055.9L700 1055.8L708 1057.6L715 1059.9L718 1061.7L721 1062.4L727 1063.2L731 1062.6L751 1065.1L754 1064.2L756 1064.4L763 1065.8L766 1066.9L775 1068.4L778 1068.2L781 1068.7L784 1068.4L787 1069L797 1071.7L802 1071.5L811 1072.1L814 1071L816 1071L820 1071.9L825 1072.2L825 1324.5L99 1324.5L99 922.5Z" fill="#0035e5" stroke="#000" stroke-width="0.8"/>
<path d="M99 922.5L99 922.1L100 922.1L106.9 922.5L118 926.2L133 930.2L136 932.1L138 932.7L140 933L142 932.6L145 933.5L148 935.2L150 935.8L154 935.9L156.1 936.5L160 939.2L163 940.1L173 940.4L182 942.5L192 945.9L194 946.1L195 945.5L200 946.5L201 947.4L203 948.2L211 948.5L214 950L223 950.5L228.1 951.5L246.2 957.5L250 960L253 961L255 960.9L259 961.5L265 963.5L269.4 963.5L276 966.1L283 966.6L292 969.3L298.5 970.5L312 974.2L318.3 974.5L321 976.2L324 977.1L331 977.5L333 978.9L337 980.4L341 983.1L349 985.5L353 988.1L355 988.9L359.2 989.5L364 992.3L371.9 994.5L374 995.4L376 997L379 998L392 1000.8L399 1001.5L403 1002.5L405 1004.2L423 1010.5L431 1014.1L437.7 1015.5L445 1018.1L448 1017.7L451 1018.6L453 1020.2L456 1021.4L462 1022.4L488 1030.9L497 1031.9L504 1034.2L509 1034.5L522.1 1036.5L528 1038L531 1037.7L535 1038.3L538 1040.1L541 1040.3L544 1039.7L558 1042.5L560 1042.3L561 1041.5L563.6 1041.5L569 1043.4L571 1043.5L575 1042.4L583 1043.3L593 1043.3L595 1043.7L598 1045L607 1046.4L610 1047.4L625 1049.4L628 1050.5L636 1052.1L640 1052L654 1056.1L659 1056.7L665 1058.8L679 1061.8L683 1063.9L688 1064.8L691 1065.8L694 1067.9L697 1069L700 1069.2L708 1071.5L715 1074.4L718 1076.2L721 1077.1L727 1077.9L730 1077.5L739 1078.6L745 1079.4L748 1080.7L750 1081L752 1080.7L754 1079.6L756 1079.8L760 1081.2L781 1085.3L784 1084.4L793 1086.2L796 1088L797 1088.1L811 1088.3L813 1087.2L815 1086.9L817 1086.9L820 1087.7L825 1087.6L825 1324.5L99 1324.5L99 922.5Z" fill="#002de9" stroke="none"/>
<path d="M99 922.5L106 922.5L118 926.6L130 929.7L133 930.8L136 932.8L138 933.5L140 933.8L142 933.5L145 934.4L150 936.9L156 937.8L158 938.8L160 940.6L162 941.3L169 942.2L172 942.2L181 944.4L193 949.1L196 948.9L199 949.9L202 952.1L205 953.1L208 953.3L217 956.3L220 956.3L223 957L238 961.7L247 965.4L250 967.5L253 968.6L256 968.8L265 972.7L268 973L271 974.1L274 975.8L283 978.2L295 982.8L298 983.1L307 986.6L313 990.3L316 990.4L323 992.5L328 993L332 994.1L337 996.1L343 999.6L346 1000.4L361 1007L364 1009.1L377 1015.9L403 1021.3L406 1023.3L409 1024.1L412 1024.3L421 1027.8L424 1028.1L427 1029.1L430 1031.3L433 1032L435 1031.7L437 1032L444 1035.5L448 1036L451 1037L455 1039.5L461 1040.9L469 1044.1L471 1043.8L473 1044.1L478 1046.3L488 1049.6L493 1050.6L496 1050.1L499 1050.7L502 1052.1L511 1054.3L517 1055.1L520 1056.3L534 1059.7L538 1061.1L541 1061.5L544 1061L547 1061.5L556 1064.2L559 1064.7L562 1063.5L565 1063.9L569 1065.5L576 1065.7L589 1067.8L592 1067.1L595 1067.7L600 1069.5L604 1069.3L607 1069.9L610 1072.2L612 1072.6L614 1072.6L616 1071.8L618 1072.2L620 1072.9L622 1074.4L631 1075.6L635 1077.4L637 1077.7L640 1077L664 1082.9L673 1084.7L676 1084.6L679 1085.3L682 1086.7L691 1089.1L695 1090.9L700 1091.5L709 1094.2L712 1096L721 1098.7L724 1098.2L744 1100.8L748 1102.4L750 1102.7L752 1102.5L754 1101.4L756 1101.6L760 1103.5L769 1105.3L774 1105.6L778 1107.5L781 1108.2L784 1107.2L802 1112.4L811 1112.6L814 1111.5L825 1112.3L825 1324.5L99 1324.5L99 922.5Z" fill="#0028eb" stroke="#000" stroke-width="0.8"/>
<path d="M99 923.5L99 922.6L105 922.7L107 923.1L118 927L130 930.1L133 931.3L136 933.5L139 934.6L142 934.3L145 935.4L150 938L154 938.5L156 939.2L158 940.3L160 942.2L163 943.3L172 944.2L181 946.7L187 949.1L193 952.4L196 952.5L198 953.4L203 957.2L205 958.2L208 958.7L213 961.3L222 963.4L226 965.4L235 968.5L240 969.7L250 975.3L253 976.5L256 977L265 982.2L268 983.2L274 986.3L283 989.8L304 999.2L307 1000.9L313 1006.6L316 1006.9L331 1010.2L337 1012.3L350 1018.8L356 1021L361 1023.9L377 1035L379 1035.6L382 1035.6L397 1038.8L400 1040.1L409 1042.4L412 1042.5L420 1045.3L424 1045.8L427 1046.7L429 1048.4L431 1049.3L433 1049.6L436 1049L439 1050.3L442 1052.6L445 1053.9L451 1055.7L455 1057.8L463 1060.3L466 1062.1L469 1063.1L472 1062.6L475 1063.6L478 1065.7L489 1069L493 1069.9L496 1069.4L501 1070.3L509 1073.3L529 1078.8L532 1080.5L535 1081.4L541 1082.6L544 1082.4L547 1083L556 1086L559 1086.6L562 1085.9L565 1086.4L568 1087.6L583 1089.8L587 1091.4L589 1091.7L592 1091.2L595 1091.9L598 1093.5L600 1094L604 1093.8L607 1094.6L610 1096.6L613 1097.3L615 1096.7L617 1096.8L623 1099.2L625 1099.7L628 1099.6L631 1100.3L633 1102L635 1102.9L637 1103.1L640 1102.5L655 1105.2L658 1106.7L660 1107.1L680 1109.6L691 1112.1L696 1114.1L709 1116.2L712 1118.1L721 1120.3L724 1119.6L736 1122L744 1122.4L750 1124.1L754 1123.6L756 1123.8L760 1125.8L768 1127.5L772 1127.2L774 1127.6L778 1129.9L781 1130.8L784 1130.1L787 1131L790 1132.6L799 1134.2L803 1136.2L811 1136.8L814 1136.5L825 1138.2L825 1324.5L99 1324.5L99 923.5Z" fill="#0024ed" stroke="#000" stroke-width="0.8"/>
<path d="M99 923.5L99 922.9L107 923.4L118 927.3L129.7 930.5L133 931.9L136 934.1L138 935L140 935.4L142 935.2L145 936.3L150 939.2L154 939.8L157 941L160 943.8L162 944.6L172 946.2L181 949.1L187 951.7L193 955.7L196 956.1L198.5 957.5L203 961.8L205 963.2L208 964.1L213 967.3L223 970.5L226 972.7L235 976L238 976.3L240 977.1L250 983L253 984.4L255 984.7L265 991.8L289 1004.5L297 1009.1L301 1011.9L304 1013.1L307 1015.3L313 1022.5L339 1029L350 1035.3L356 1037.3L367 1045.8L370 1048.9L377 1054.5L379 1055L382 1054.9L396 1057.5L400 1059.4L403 1060L406 1059.9L415 1062.1L418 1062.3L427 1064.5L430 1066.2L436 1066.9L445 1072.4L451 1074.3L454 1076.2L457 1077.3L460 1077.9L469 1081.5L472 1081.8L474 1082.5L478 1084.8L490 1088.1L502 1089.8L517 1095.5L520 1095.5L523 1096.6L529 1099.2L532 1101.1L536 1102.5L547 1104.4L550 1106L558 1108.5L562 1108.7L582 1112.5L586 1114.6L592 1115.4L601 1118.2L605 1118.4L607 1118.9L611 1121.1L613 1121.6L616 1121.4L631 1125.8L635 1128.1L640 1128.1L652 1129.4L655 1129.9L658 1131.4L661 1131.8L664 1131.4L673 1132.5L691 1135.6L697 1137.1L703 1138L708 1138.1L712 1140.1L714 1140.5L727 1141.7L730 1142.5L751 1145.7L763 1148.5L772 1149.6L775 1150.5L778 1152.4L781 1153.3L784 1153.1L792 1156.2L799 1157.5L802 1159.3L817 1161.9L820 1163.2L825 1164.1L825 1324.5L99 1324.5L99 923.5Z" fill="#001cf1" stroke="#000" stroke-width="0.8"/>
<path d="M99 923.5L106 923.5L118 927.8L131 931.5L138 935.8L140 936.3L142 936.1L145 937.3L148 939.5L150 940.4L154 941.1L157 942.4L160 945.3L162 946.2L172 948.2L181 951.5L187 954.3L193 958.9L196 959.7L199 961.8L203 966.5L205 968.1L208 969.6L212 972.8L223 977.4L227 980.3L235 983.4L238 983.8L240 984.6L244 987.6L255 992.8L266 1002L295 1020.4L301 1025.6L304 1027.2L308 1031L313 1038.3L322 1041.5L331 1042.8L339 1044.9L350 1052.3L352 1052.4L356 1053.9L358 1056.6L361 1059.4L366 1063L370 1067.5L377 1074.1L395 1076.6L402 1078.4L408 1078.8L415 1080.7L419 1080.3L434 1083.7L445 1090.9L451 1092.6L454 1095.4L457 1096.6L460 1096.4L478 1103.9L490 1106.7L500 1108.3L511 1113.1L517 1115.1L521 1115.7L523 1116.5L526 1119.1L538 1123.9L547 1126L550 1127.8L556 1129.9L565 1132.4L568 1132.5L582 1135.7L584 1136.6L586 1138.2L601 1141.7L604 1142L610 1144.5L631 1150.9L635 1152.8L640 1152.7L652 1154.1L660 1155.7L664 1155.3L667 1155.6L676 1157.6L690 1159.4L694 1159.2L703 1160.4L706 1160.2L709 1160.6L712 1162L714 1162.3L718 1162.1L726 1163.4L738 1164.3L743 1166.8L745 1167.2L748 1167.1L751 1167.7L755 1169.4L763 1170.7L766 1170.4L772 1171.9L775 1172.9L778 1174.8L781 1175.8L799 1181.2L802 1183L817 1186.9L821 1188.3L825 1189L825 1324.5L99 1324.5L99 923.5Z" fill="#0018f3" stroke="#000" stroke-width="0.8"/>
<path d="M99 924.5L99 923.8L100 923.8L106.8 924.5L114 927.3L116 927.5L117 928.3L119 928.5L120 929.3L122.1 929.5L123 930.2L125.3 930.5L126 931.1L131 932.5L136 936.2L138 937.1L142.3 937.5L150 942.2L156 943.8L161 948L164 949.1L165 948.5L169 950.2L172 950.4L175 951.5L176 952.3L180 953.5L184 956.2L187 957.3L192 961.9L194 963L196 963.5L198.3 965.5L204 972.3L206 974.1L207.2 974.5L212 979.1L223 984.5L227 987.8L235 991.1L238 991.5L240 992.4L245 996.1L255 1001.2L268 1013.5L283 1024.3L286 1027.1L295.5 1033.5L301 1039.2L303.1 1040.5L307 1044.4L313 1054.2L316 1055.7L319.3 1056.5L322 1058L325 1058.5L328 1058L330.9 1058.5L334 1060.1L339 1061.3L349 1069.3L350 1069.8L352 1069.3L355.6 1070.5L358.3 1074.5L361 1077.3L365 1080.1L370 1086.4L377 1093.5L391 1096.1L394 1095.8L415 1098.9L418 1098.6L426.1 1099.5L434 1100.9L445 1109L451 1111.2L454 1114.2L456 1115.1L458 1115.5L460 1115.2L472 1120.9L478 1123.1L487 1124.2L490 1125.3L500 1127L511 1132.8L514 1133L519.6 1135.5L523 1137.2L526 1139.8L529 1141.2L532 1141.7L538 1145.3L541 1146.3L545 1146.9L550 1149.3L565 1155L577 1158.4L581 1158.9L586 1161.2L595 1164L605 1166.3L613 1169.2L616 1171.1L625 1174.5L628 1174.9L635 1177.2L643 1178.1L648 1179.3L653 1178.6L655 1178.8L658 1180.1L661 1180.3L664 1179.6L666 1179.7L676 1181.4L691 1182.6L696 1182.4L703 1183.7L705 1182.9L707 1182.8L713 1184L721 1184.2L724 1185.3L726 1185.5L730 1185L738 1185.3L739 1185.5L742 1188L748 1188.9L751 1189.6L755 1191.2L763 1192.9L766 1193L772 1194.6L802 1207L816.5 1211.5L822 1213.9L825 1214.1L825 1324.5L99 1324.5L99 924.5Z" fill="#0014f5" stroke="none"/>
<path d="M99 927.5L99 926.6L105 927.4L115 932.1L130 939.6L139 946.1L141 946.2L143 947L150 952.7L154 953.8L157 955.5L160 959.1L162 960.2L164 960.9L166 960.9L171 963.1L187 971.3L193 977.1L196 978.8L199 981.5L204 988L208 991L213 995.9L223 1002L226 1004.7L239 1010.5L247 1015.8L255 1019.9L266 1031.2L286 1047.9L296 1055.4L307 1066.8L309 1069.5L313 1076.6L316 1078.1L319 1078.9L322 1080.8L325 1081.5L328 1080.5L331 1081.1L334 1082.8L337.3 1083.5L343 1087.6L346 1091.1L349 1093.5L350 1094L352 1093.6L356 1095L358 1097.6L367 1106.4L370 1110.6L377 1117.6L390 1120.4L394 1120.3L409 1123.2L413 1123L419 1124.9L421 1125.2L424 1124.8L434 1126.7L445 1134.6L451 1137.3L454 1139.8L457 1141L461 1141.9L466 1144.8L478 1149.9L481 1150.4L484 1150.2L486 1150.5L490 1152.3L500 1154L510 1159.5L512 1160.1L514 1160L517 1161.5L521 1164.4L529 1168.1L532 1169L535 1170.6L538 1173.3L553 1178.3L557 1178.9L559 1179.6L562 1181.7L571 1184.2L574 1185.6L588 1188.4L601 1193.9L603 1193.5L605 1193.8L622 1201L625 1202L628 1202L635 1204.8L649 1206.6L652 1205.8L655 1206.1L658 1207.9L660 1208.1L662 1207.8L664 1206.8L667 1207.1L670 1208.4L679 1208.7L682 1209.7L685 1209.9L688 1209.5L691 1209.8L703 1212.1L706 1211.7L715 1212.7L719 1212L721 1212.2L724 1213.4L727 1213.6L738 1213.2L742 1215.3L751 1216.7L754 1218.4L772 1223.2L785 1228L798 1233.6L802 1234.3L805 1235.3L808 1237L822 1241.7L825 1242.3L825 1324.5L99 1324.5L99 927.5Z" fill="#000cf9" stroke="#000" stroke-width="0.8"/>
<path d="M99 930.5L99 929.6L100 929.6L103 930.9L105 931.2L107.4 932.5L130 947.6L139 955.3L142 956.1L145 958.5L149 963.1L151 964.6L154 965.2L157 967.2L160 971.2L162 972.6L163 973.2L165 973L166.6 973.5L181 982.7L187 985.6L192 991.2L199 997.3L202 1001.8L205 1005.1L208 1007.3L213 1012.7L217 1015.1L220 1017.8L226 1022L240 1029.7L247 1034.7L255 1038.8L265 1050.2L271 1055.2L280 1064.1L289 1071L298 1079.1L309 1092.2L313 1099.4L319 1101.5L322 1103.2L325 1103.9L329 1103.7L338 1106.8L350 1117.6L356 1119.1L357 1119.8L361 1123.9L370 1134.5L377 1141.4L403 1146.8L409 1147.8L414 1148L418 1149.9L426 1151.7L430 1151.5L433 1152.1L434 1152.5L436 1154.7L439 1156.9L445 1160.7L451 1163.3L455 1165.6L463 1168.8L467 1171.8L469 1172.7L472 1173L478 1176.1L487 1177.5L490 1179.4L493 1180L496 1179.4L500 1180.3L502 1181.9L510 1186.2L514 1187.8L529 1195.9L533 1197.3L535 1198.5L538 1201.4L553 1206.3L556 1206.7L564 1209.8L571 1211.5L575 1213.5L583 1215.8L586 1215.9L601 1221.1L604 1221.4L617 1227.3L628 1229.9L635 1232.6L641 1233.8L647 1233.5L660 1235.2L664 1234.6L666 1234.8L670 1236L682 1237.5L691 1237.6L694 1238.6L703 1240.1L706 1239.5L727 1241.5L730 1240.7L733 1240.8L739 1242.1L745 1244.1L748 1243.7L751 1244.5L754 1246.5L769 1250.1L798 1261.2L805 1263L809 1265.4L825 1269.8L825 1324.5L99 1324.5L99 930.5Z" fill="#0008fb" stroke="#000" stroke-width="0.8"/>
<path d="M99 933.5L99 932.7L100 932.7L103 934.4L105 935L115 942.5L118 945.7L130 955.4L139 964.4L142 965.9L145 968.9L148 973.3L150 975.2L152 976.4L154 976.7L157 979L160 983.4L162 985L164 985.8L166 985.7L176 993.5L187 1000.3L192 1006.3L199 1013.2L202 1017.9L205 1021.4L208 1023.9L212 1028.6L217 1032.2L220 1035.1L232 1043.5L240 1048.1L247 1053.4L255 1057.8L265 1070.1L269 1073.4L280 1084.5L298 1100.6L308 1113.4L313 1122.3L316 1122.8L322 1125L331 1127.4L339 1130.6L350 1140.6L356.2 1142.5L361 1147.6L365 1153.1L377 1165.7L383 1166.3L403 1172.1L406 1171.6L409 1172.2L412 1173.7L418 1175.6L434 1178.8L447 1188.1L463 1195.2L466 1197.9L469 1199.3L472 1199.5L478 1202.8L490 1205.8L493 1206.5L496 1205.7L500 1206.7L511 1213.5L514 1215.9L523 1220.6L526 1223L529 1224.6L532 1224.8L538 1228.9L553 1233.7L556 1235.4L559 1236.4L562 1236.6L571 1239.1L575 1241.4L586 1244.2L595 1247.5L599 1247.8L604 1250.3L616 1255L619 1256L623 1256.6L628 1259L635 1261.2L655 1263.1L667 1263.6L670 1264.5L677 1265.7L685 1266.3L688 1265.9L703 1267.5L706 1267.1L714 1267.7L720 1269L727 1268.9L730 1268.2L733 1268.4L736 1269.8L745 1271.8L754 1274.8L757 1275.6L760 1275.6L766 1277.3L769 1278.3L772 1280L781 1283.1L785 1283.8L796 1288.3L811 1293.4L814 1294.9L823 1297.5L825 1297.4L825 1324.5L99 1324.5L99 933.5Z" fill="#0004fd" stroke="#000" stroke-width="0.8"/>
<path d="M99 936.5L100 936.5L103 939.4L105 939.5L111 945.4L114 947.5L118 952.5L124 958.2L125 958.5L131 964.5L131.2 965.5L137 971.5L138.1 973.5L140 975.4L141 975.5L144 978.5L147.2 984.5L151 988.3L153.1 988.5L158 992.5L158 993.5L159 994.5L159.2 995.5L162 998.2L164 999.3L165.3 998.5L167 999.5L171 1003.5L171.1 1004.5L174 1007.2L175 1007.5L176 1008.4L177 1008.5L179 1010.4L180 1010.5L184 1014.3L185 1014.5L190 1019.5L190.2 1020.5L193 1023.4L194 1024.4L195 1024.5L195.1 1025.5L199 1029.5L200.2 1032.5L204 1036.5L204.1 1037.5L219 1052.2L220 1052.5L222 1054.4L224 1055.5L226 1057.6L232 1062.4L233 1062.5L235 1064.4L236 1064.5L239.1 1066.5L248 1073.4L250 1073.5L253 1076.4L254 1076.5L257.3 1081.5L265 1090.5L300 1125.4L303.2 1130.5L307 1134.4L311 1142.4L311.2 1143.5L313 1145.8L315.2 1145.5L316 1146.1L318.3 1146.5L323 1149.3L325.1 1149.5L326 1150.2L328.8 1150.5L335 1153.1L337.4 1153.5L344 1158.5L350 1164.4L351.7 1164.5L356 1166.4L366.3 1179.5L368 1181.1L369.1 1181.5L374 1186.5L374.1 1187.5L375.2 1189.5L377 1191.3L381 1192L383 1191.5L384 1192.4L390.1 1193.5L391 1194.2L393.2 1194.5L395 1195.4L397 1195.5L399 1197.4L402 1198.4L404 1198.2L405 1197.4L407.7 1197.5L410 1198.4L412 1200.3L415 1200.5L416 1201.4L418.2 1201.5L420 1202.4L422.2 1202.5L427 1204L429 1203.9L433.1 1204.5L435 1205.5L438 1208.4L439 1208.5L441 1211L448 1216.3L450 1217.3L455 1217.5L461 1222.3L464 1223.4L465 1224.4L466 1224.5L469 1226.3L471.1 1226.5L473.4 1227.5L478 1230.3L481.1 1230.5L483 1232.1L486.3 1232.5L488 1233.3L492 1233.5L493 1234.2L496 1233.5L498 1234.4L500 1234.5L501 1235.9L506 1239.3L507 1239.5L511 1242.4L512 1242.5L514 1244.3L515 1244.5L519 1247.4L520 1247.5L524 1250.3L525.1 1250.5L529 1253.2L530 1252.5L531 1253.1L533 1253.5L534 1254.4L535 1254.5L538 1257L542 1258.4L543 1259.4L545 1259.5L546 1260.4L548 1260.5L549 1261.4L551 1261.5L555 1264.4L557 1264.5L558 1265.4L560 1265.4L562 1264.5L563 1264.5L564 1265.4L565.1 1265.5L567 1267.3L569 1267.5L570 1268.4L572 1268.5L573 1269.4L575.1 1269.5L576 1270.3L578.1 1270.5L579 1271.2L581 1271.4L588 1274L593 1274.5L594 1275.4L596 1275.5L597 1276.4L599 1276.5L603 1279L608 1280.5L609 1281.3L611 1281.5L612 1282.4L617 1283.4L620 1284.4L621 1285.3L623.1 1285.5L624 1286.4L626 1286.5L627 1288L629.2 1288.5L630 1289.2L632 1289.5L633 1290.3L635.2 1290.5L637 1291.2L640 1291L648.1 1291.5L650 1292.2L652 1291.7L662.4 1292.5L669 1293.5L670 1294.3L687 1294.5L689 1295.2L697 1295.2L703 1295.9L704 1295.5L710 1295.4L713 1296.3L721.6 1296.5L723 1297.2L725 1297.4L728 1297.4L729 1296.5L732.4 1296.5L736 1299L743.2 1299.5L744 1300.1L746.1 1300.5L748 1302.2L750.5 1302.5L756 1304.3L761 1303.5L766 1306.3L775.5 1309.5L778 1311.4L779.4 1311.5L781 1312.4L782 1312.4L783 1311.7L786 1312.4L787 1313.1L789 1313.5L790 1314.3L792 1314.5L793 1315.4L794 1315.5L796 1317.4L798 1317.5L799 1318.4L801 1318.5L802 1319.4L804.1 1319.5L805 1320.3L807.5 1320.5L810.9 1321.5L813 1322.5L814 1324L816.5 1324.5L99 1324.5L99 936.5Z" fill="#0000ff" stroke="#000" stroke-width="0.8"/>
<path d="M117.6 907.5V1319.4" stroke="#000" stroke-width="1" stroke-dasharray="8.5 4.5" fill="none"/>
<path d="M165.3 907.5V1319.4" stroke="#000" stroke-width="1" stroke-dasharray="8.5 4.5" fill="none"/>
<path d="M223.5 907.5V1319.4" stroke="#000" stroke-width="1" stroke-dasharray="8.5 4.5" fill="none"/>
<path d="M298.2 907.5V1319.4" stroke="#000" stroke-width="1" stroke-dasharray="8.5 4.5" fill="none"/>
<path d="M377.7 907.5V1319.4" stroke="#000" stroke-width="1" stroke-dasharray="8.5 4.5" fill="none"/>
<path d="M434.4 907.5V1319.4" stroke="#000" stroke-width="1" stroke-dasharray="8.5 4.5" fill="none"/>
<path d="M537.8 907.5V1319.4" stroke="#000" stroke-width="1" stroke-dasharray="8.5 4.5" fill="none"/>
<path d="M640.3 907.5V1319.4" stroke="#000" stroke-width="1" stroke-dasharray="8.5 4.5" fill="none"/>
<path d="M724.6 907.5V1319.4" stroke="#000" stroke-width="1" stroke-dasharray="8.5 4.5" fill="none"/>
<path d="M794.9 907.5V1319.4" stroke="#000" stroke-width="1" stroke-dasharray="8.5 4.5" fill="none"/>
<path d="M816.2 907.5V1319.4" stroke="#000" stroke-width="1" stroke-dasharray="8.5 4.5" fill="none"/>
<path d="M99 921.2L106 921.2L121 925.1L132 926.8L137 929.3L143.7 929.5L150 931.9L154 931.8L157 932.5L160 934.6L162 935.1L174 935.5L193 940.7L197.2 940.5L202 942.3L205 942.9L208 942.7L217 945L220 944.6L226.4 945.5L238 948.2L247 949.3L251 951.1L257.7 951.5L265 952.7L268 952.2L271 952.5L274 954L276 954.3L278 954.3L280 953.4L294.8 955.5L307 959.2L314 960.6L316 960.3L320 961.5L325 964.7L340 970.1L349 971.4L352 972.9L361 974.2L366 976.1L370 975.9L373 976.5L376 977.9L385 980L388 980.1L401 982.4L408 984.8L415 985.4L420 986.9L442 989.1L454 989.2L467.6 990.5L483 993.3M509 998.9L511.5 999.5L517 1002.1L520 1002.1L525 1003.6L534 1004L538 1005.4L546 1006L550 1005.3L556 1005.3L565 1005.4L570 1006.2L577 1005.9L582 1004.8L586 1005.5L595 1004.5L605 1005.3L613 1004.4L616 1005.1L631 1005.3L635 1003.8L642 1005.1L646 1003.9L655 1003.5L659 1004.4L673 1002.7L679 1003.1L681 1002.3L684 1002.1L688 1002.8L695 1002.4L703 1003.1L705 1002.5L708.2 1002.5L724 1003.8L739 1003.4L744 1004.3L748.1 1003.5L754 1004.5M781 1006L797 1007.3L808 1006.9L817 1007.5L819 1008.3L825 1009" fill="none" stroke="#000" stroke-width="4" stroke-linecap="butt"/>
<path d="M99 922.1L106.9 922.5L118 926.2L133 930.2L136 932.1L138 932.7L142 932.6L150 935.8L156.1 936.5L160 939.2L163 940.1L173 940.4L182 942.5L192 945.9L196 945.7L200 946.5L203 948.2L211 948.5M249 959.3L253 961L259 961.5L265 963.5L268 963.3L271 963.9L273 965.2L276 966.1L283 966.6L292 969.3L298.5 970.5L312 974.2L318.3 974.5L321 976.2L324 977.1L331 977.5L333 978.9L337 980.4L341 983.1L349 985.5L351 987.1L355 988.9L359.2 989.5L364 992.3L371.9 994.5L376 997L389 1000.2L399 1001.5L403 1002.5L405 1004.2L423 1010.5L431 1014.1L437.7 1015.5L445 1018.1L448 1017.7L451 1018.6L453 1020.2L456 1021.4L462 1022.4L468 1024.6M510 1034.8L522.1 1036.5L528 1038L531 1037.7L535 1038.3L538 1040.1L541 1040.3L544 1039.7L557 1042.4L560 1042.3L562 1041.4L565 1041.7L567 1043L569 1043.4L571 1043.5L575 1042.4L583 1043.3L593 1043.3L598 1045L607 1046.4L610 1047.4L625 1049.4L636 1052.1L640 1052L654 1056.1L659 1056.7L665 1058.8L679 1061.8L683 1063.9L691 1065.8L694 1067.9L697 1069L700 1069.2L708 1071.5L720 1076.9L727 1077.9L730 1077.5L735 1078.2M777 1084.4L781 1085.3L784 1084.4L793 1086.2L796 1088L798 1088.2L811 1088.3L815 1086.9L820 1087.7L825 1087.6" fill="none" stroke="#000" stroke-width="4" stroke-linecap="butt"/>
<path d="M99 923.8L106.8 924.5L114 927.3L116 927.5L117 928.3L119 928.5L120 929.3L122.1 929.5L123 930.2L128.4 931.5L132.8 933.5L136 936.2L138 937.1L142.3 937.5L150 942.2L156 943.8L161 948L164 949.1L165.1 948.5L169 950.2L172.2 950.5L180 953.5L184 956.2L187.3 957.5L193 962.6L196 963.5L199 966.1L201.3 969.5L205 973.3L207.2 974.5L212 979.1L223 984.5L227 987.8L235 991.1L238 991.5L240 992.4L245 996.1L254 1000.5L257.3 1003.5M278 1020.9L283 1024.3L286 1027.1L294.3 1032.5L301 1039.2L304 1041.3L308 1045.8L313 1054.2L322 1058L330.9 1058.5L334 1060.1L339 1061.3L349 1069.3L350 1069.8L352 1069.3L355 1070.2L356 1070.8L358.3 1074.5L361 1077.3L365 1080.1L370 1086.4L377 1093.5L391 1096.1L394 1095.8L415 1098.9L418 1098.6L426.1 1099.5L434 1100.9L445 1109L451 1111.2L454 1114.2L457 1115.5L460 1115.2L475 1122.1L481 1123.6M506.5 1130.5L511 1132.8L514 1133L519.6 1135.5L523 1137.2L526 1139.8L529 1141.2L532 1141.7L540 1146L545 1146.9L565 1155L577 1158.4L581 1158.9L586 1161.2L595 1164L605 1166.3L613 1169.2L616 1171.1L622 1173.5L635 1177.2L643 1178.1L648 1179.3L653 1178.6L655 1178.8L658 1180.1L661 1180.3L664 1179.6L666 1179.7L676 1181.4L691 1182.6L696 1182.4L703 1183.7L707 1182.8L713 1184L721 1184.2L725 1185.4L730 1185L739 1185.5M765 1192.9L774.7 1195.5L778 1197.4L803 1207.4L816.5 1211.5L822 1213.9L825 1214.1" fill="none" stroke="#000" stroke-width="4" stroke-linecap="butt"/>
<text x="230.6" y="958.5" transform="rotate(25 230.6 951.7)" font-size="19" text-anchor="middle" font-family="Liberation Sans, sans-serif" fill="#000">26.5</text>
<text x="267.5" y="1019.3" transform="rotate(37 267.5 1012.5)" font-size="19" text-anchor="middle" font-family="Liberation Sans, sans-serif" fill="#000">27</text>
<text x="496.4" y="1001.8" transform="rotate(10 496.4 995.0)" font-size="19" text-anchor="middle" font-family="Liberation Sans, sans-serif" fill="#000">26</text>
<text x="488.6" y="1036.8" transform="rotate(12 488.6 1030.0)" font-size="19" text-anchor="middle" font-family="Liberation Sans, sans-serif" fill="#000">26.5</text>
<text x="493.8" y="1132.8" transform="rotate(17 493.8 1126.0)" font-size="19" text-anchor="middle" font-family="Liberation Sans, sans-serif" fill="#000">27</text>
<text x="767.6" y="1010.8" transform="rotate(3 767.6 1004.0)" font-size="19" text-anchor="middle" font-family="Liberation Sans, sans-serif" fill="#000">26</text>
<text x="756.0" y="1087.5" transform="rotate(5 756.0 1080.7)" font-size="19" text-anchor="middle" font-family="Liberation Sans, sans-serif" fill="#000">26.5</text>
<text x="752.0" y="1197.8" transform="rotate(6 752.0 1191.0)" font-size="19" text-anchor="middle" font-family="Liberation Sans, sans-serif" fill="#000">27</text>
</g>
<path d="M105.7 922.7L112.5 935.4L114.9 938.6L117.2 941.9L119.6 945.8L122 949.3L124.3 952.1L127 954.4L129.9 956.7L132.8 959.7L135.6 963.2L138.6 966.4L141.7 968.9L144.9 970.7L148.1 972.6L151.2 975.7L154.2 978.9L157.2 981.2L160.2 984.1L163.2 987L165.9 989.5L168.6 992.9L171.3 996.2L174.1 998.7L176.9 1001.7L180 1004.5L183 1006.7L186 1009.5L189 1012.7L192 1015.3L195 1017.5L198 1019.8L201 1022.7L203.9 1025.6L206.7 1028.5L209.6 1031.6L212.5 1034.9L215.3 1037.7L218.2 1040L221 1042.7L223.9 1045.4L226.8 1048.2L229.6 1051.3L232.5 1054.3L235.4 1057L238.2 1059.9L241.1 1063L244 1065.9L246.8 1068.7L249.7 1071.3L252.7 1074L255.7 1076.7L258.7 1079.3L261.7 1082.2L264.7 1084.8L267.7 1086.9L270.7 1089L273.7 1092L276.8 1095.4L280.2 1098L283.3 1100.8L286.3 1103.7L289.4 1105.7L292.5 1107.4L295.5 1110.1L298.6 1113.1L301.7 1115.9L304.8 1119.3L307.8 1122.3L310.9 1124.5L314 1126.7L317.1 1129.1L320.2 1131.1L323.3 1133.5L326.3 1136.7L329.4 1139.6L332.5 1141.8L335.5 1143.9L338.5 1146.6L341.6 1149.4L344.6 1151.9L347.6 1154.6L350.6 1157.5L353.7 1160.6L356.6 1163.9L359.4 1166.9L362.2 1169.4L365 1172.2L367.8 1175.6L370.5 1178.8L373.3 1181.6L376.1 1184.6L378.9 1187.2L381.7 1189.4L384.8 1192.2L387.9 1194.7L391 1197.3L394 1200.5L397.1 1202.8L400.2 1204.9L403.3 1207.4L406.4 1209.7L409.4 1212.7L412.4 1216L415.3 1218.6L418.3 1221.4L421.3 1224.5L423.8 1227.8L426.4 1230.4L428.9 1232.7L431.4 1235.9L433.6 1239.4L435.7 1242.6L437.9 1246.5L440 1250.5L442.2 1254.3L444.4 1257.5L446.7 1259.7L449.1 1262.9L451.5 1266.4L453.8 1269.3L456.2 1272.6L458.8 1275.9L461.5 1279L464.2 1282.6L467.9 1284.2L471.6 1285L475.3 1287L479 1289.5L482.8 1290.8L486.7 1290.6L490.7 1291.2L494.7 1293L498.6 1293.8L502.6 1293.8L506.5 1294.6L510.5 1296.1L514.4 1296.9L518.3 1297.2L522.4 1298L526.4 1298.7L530.4 1298.6L534.4 1298.2L538.4 1297.7L542.4 1298.1L546.5 1298.3L550.5 1297.3L554.3 1295.6L557.9 1294.3L561.6 1292.5L565.3 1290.7L569 1289.2L572.4 1287.9L575.9 1286.3L579.4 1283.7L582.8 1281.2L586.2 1279.3L589.5 1277.8L592.9 1276.2L596.2 1273.7L599.5 1270.2L603 1267.9L606.6 1267.2L610.2 1265.8L613.6 1263.3L617 1261.3L620.4 1259.2L623.9 1257.2L627.5 1255L631.1 1252.3L634.7 1250.6L638.4 1252.3L642.1 1253L645.7 1251.5L649.2 1249.3L653 1248.7L657 1249.1L661 1249.7L664.9 1249.8L668.3 1247.7L671.8 1245.9L675.2 1243.9L678.6 1241.7L682 1239.6L685.5 1237.2L689.2 1235.4L693 1234.5L697 1235.1L701 1236L704.8 1236.6L708.1 1234.2L711.5 1231L714.8 1228.5L718 1226.2L721.3 1223.9L724.5 1221.6L727.8 1219.7L731 1217.7L734.2 1215L737.4 1212.5L740.6 1210.2L743.7 1207.4L746.9 1204.5L750 1202.6L752.9 1200.3L755.8 1196.9L758.6 1193.6L761.5 1191.1L764.3 1188.6L767.1 1185.2L769.5 1181.8L771.9 1179.3L774.2 1176.3L776.6 1172.3L779 1168.5L781.3 1165.3L783.7 1162.8L785.9 1159.8L788.2 1156.2L790.4 1152.5L792.7 1148.5L794.9 1144.8L797.2 1141.7L799.5 1138.5L801.6 1135.2L803.7 1132.2L805.8 1128.7L807.9 1124.7L810 1121.2L812.1 1118.2L814.2 1114.8L817 1115L817 1319.4L105.7 1319.4Z" fill="#fff" stroke="#000" stroke-width="5.4" stroke-linejoin="miter" stroke-miterlimit="3"/>
<path d="M105.0 924.1650362318841V907.5H817.5V1111.9576086956522" fill="none" stroke="#000" stroke-width="1.1"/>
<path d="M105.0 959.0h7M817.5 959.0h-7M105.0 1010.5h7M817.5 1010.5h-7M105.0 1062.0h7M817.5 1062.0h-7M105.0 1113.5h7M817.5 1113.5h-7M105.0 1164.9h7M817.5 1164.9h-7M105.0 1216.4h7M817.5 1216.4h-7M105.0 1267.9h7M817.5 1267.9h-7M109.0 907.5v7M109.0 1316.9v-7M251.9 907.5v7M251.9 1316.9v-7M395.2 907.5v7M395.2 1316.9v-7M538.4 907.5v7M538.4 1316.9v-7M681.6 907.5v7M681.6 1316.9v-7" stroke="#000" stroke-width="1" fill="none"/>
<rect x="839.3" y="28.70" width="35.6" height="6.88" fill="#800000"/>
<rect x="839.3" y="35.18" width="35.6" height="6.88" fill="#8f0000"/>
<rect x="839.3" y="41.67" width="35.6" height="6.88" fill="#9f0000"/>
<rect x="839.3" y="48.15" width="35.6" height="6.88" fill="#af0000"/>
<rect x="839.3" y="54.64" width="35.6" height="6.88" fill="#bf0000"/>
<rect x="839.3" y="61.12" width="35.6" height="6.88" fill="#cf0000"/>
<rect x="839.3" y="67.61" width="35.6" height="6.88" fill="#df0000"/>
<rect x="839.3" y="74.09" width="35.6" height="6.88" fill="#ef0000"/>
<rect x="839.3" y="80.58" width="35.6" height="6.88" fill="#ff0000"/>
<rect x="839.3" y="87.06" width="35.6" height="6.88" fill="#ff1000"/>
<rect x="839.3" y="93.54" width="35.6" height="6.88" fill="#ff2000"/>
<rect x="839.3" y="100.03" width="35.6" height="6.88" fill="#ff3000"/>
<rect x="839.3" y="106.51" width="35.6" height="6.88" fill="#ff4000"/>
<rect x="839.3" y="113.00" width="35.6" height="6.88" fill="#ff5000"/>
<rect x="839.3" y="119.48" width="35.6" height="6.88" fill="#ff6000"/>
<rect x="839.3" y="125.97" width="35.6" height="6.88" fill="#ff7000"/>
<rect x="839.3" y="132.45" width="35.6" height="6.88" fill="#ff8000"/>
<rect x="839.3" y="138.93" width="35.6" height="6.88" fill="#ff8f00"/>
<rect x="839.3" y="145.42" width="35.6" height="6.88" fill="#ff9f00"/>
<rect x="839.3" y="151.90" width="35.6" height="6.88" fill="#ffaf00"/>
<rect x="839.3" y="158.39" width="35.6" height="6.88" fill="#ffbf00"/>
<rect x="839.3" y="164.87" width="35.6" height="6.88" fill="#ffcf00"/>
<rect x="839.3" y="171.36" width="35.6" height="6.88" fill="#ffdf00"/>
<rect x="839.3" y="177.84" width="35.6" height="6.88" fill="#ffef00"/>
<rect x="839.3" y="184.32" width="35.6" height="6.88" fill="#ffff00"/>
<rect x="839.3" y="190.81" width="35.6" height="6.88" fill="#efff10"/>
<rect x="839.3" y="197.29" width="35.6" height="6.88" fill="#dfff20"/>
<rect x="839.3" y="203.78" width="35.6" height="6.88" fill="#cfff30"/>
<rect x="839.3" y="210.26" width="35.6" height="6.88" fill="#bfff40"/>
<rect x="839.3" y="216.75" width="35.6" height="6.88" fill="#afff50"/>
<rect x="839.3" y="223.23" width="35.6" height="6.88" fill="#9fff60"/>
<rect x="839.3" y="229.72" width="35.6" height="6.88" fill="#8fff70"/>
<rect x="839.3" y="236.20" width="35.6" height="6.88" fill="#80ff80"/>
<rect x="839.3" y="242.68" width="35.6" height="6.88" fill="#70ff8f"/>
<rect x="839.3" y="249.17" width="35.6" height="6.88" fill="#60ff9f"/>
<rect x="839.3" y="255.65" width="35.6" height="6.88" fill="#50ffaf"/>
<rect x="839.3" y="262.14" width="35.6" height="6.88" fill="#40ffbf"/>
<rect x="839.3" y="268.62" width="35.6" height="6.88" fill="#30ffcf"/>
<rect x="839.3" y="275.11" width="35.6" height="6.88" fill="#20ffdf"/>
<rect x="839.3" y="281.59" width="35.6" height="6.88" fill="#10ffef"/>
<rect x="839.3" y="288.07" width="35.6" height="6.88" fill="#00ffff"/>
<rect x="839.3" y="294.56" width="35.6" height="6.88" fill="#00efff"/>
<rect x="839.3" y="301.04" width="35.6" height="6.88" fill="#00dfff"/>
<rect x="839.3" y="307.53" width="35.6" height="6.88" fill="#00cfff"/>
<rect x="839.3" y="314.01" width="35.6" height="6.88" fill="#00bfff"/>
<rect x="839.3" y="320.50" width="35.6" height="6.88" fill="#00afff"/>
<rect x="839.3" y="326.98" width="35.6" height="6.88" fill="#009fff"/>
<rect x="839.3" y="333.47" width="35.6" height="6.88" fill="#008fff"/>
<rect x="839.3" y="339.95" width="35.6" height="6.88" fill="#0080ff"/>
<rect x="839.3" y="346.43" width="35.6" height="6.88" fill="#0070ff"/>
<rect x="839.3" y="352.92" width="35.6" height="6.88" fill="#0060ff"/>
<rect x="839.3" y="359.40" width="35.6" height="6.88" fill="#0050ff"/>
<rect x="839.3" y="365.89" width="35.6" height="6.88" fill="#0040ff"/>
<rect x="839.3" y="372.37" width="35.6" height="6.88" fill="#0030ff"/>
<rect x="839.3" y="378.86" width="35.6" height="6.88" fill="#0020ff"/>
<rect x="839.3" y="385.34" width="35.6" height="6.88" fill="#0010ff"/>
<rect x="839.3" y="391.82" width="35.6" height="6.88" fill="#0000ff"/>
<rect x="839.3" y="398.31" width="35.6" height="6.88" fill="#0000ef"/>
<rect x="839.3" y="404.79" width="35.6" height="6.88" fill="#0000df"/>
<rect x="839.3" y="411.28" width="35.6" height="6.88" fill="#0000cf"/>
<rect x="839.3" y="417.76" width="35.6" height="6.88" fill="#0000bf"/>
<rect x="839.3" y="424.25" width="35.6" height="6.88" fill="#0000af"/>
<rect x="839.3" y="430.73" width="35.6" height="6.88" fill="#00009f"/>
<rect x="839.3" y="437.22" width="35.6" height="6.88" fill="#00008f"/>
<rect x="839.3" y="28.7" width="35.6" height="415.0" fill="none" stroke="#000" stroke-width="1"/>
<path d="M874.9 94.2h-5" stroke="#000" stroke-width="1"/>
<text x="883.4" y="104.2" font-size="28" font-family="Liberation Sans, sans-serif" fill="#222">36.5</text>
<path d="M874.9 204.2h-5" stroke="#000" stroke-width="1"/>
<text x="883.4" y="214.2" font-size="28" font-family="Liberation Sans, sans-serif" fill="#222">36</text>
<path d="M874.9 314.2h-5" stroke="#000" stroke-width="1"/>
<text x="883.4" y="324.2" font-size="28" font-family="Liberation Sans, sans-serif" fill="#222">35.5</text>
<path d="M874.9 424.1h-5" stroke="#000" stroke-width="1"/>
<text x="883.4" y="434.1" font-size="28" font-family="Liberation Sans, sans-serif" fill="#222">35</text>
<text x="972" y="227.5" transform="rotate(-90 972 227.5)" font-size="30" text-anchor="middle" font-family="Liberation Sans, sans-serif" fill="#222">Salinity (psu)</text>
<rect x="839.3" y="467.50" width="35.6" height="6.89" fill="#800000"/>
<rect x="839.3" y="473.99" width="35.6" height="6.89" fill="#8f0000"/>
<rect x="839.3" y="480.47" width="35.6" height="6.89" fill="#9f0000"/>
<rect x="839.3" y="486.96" width="35.6" height="6.89" fill="#af0000"/>
<rect x="839.3" y="493.44" width="35.6" height="6.89" fill="#bf0000"/>
<rect x="839.3" y="499.93" width="35.6" height="6.89" fill="#cf0000"/>
<rect x="839.3" y="506.42" width="35.6" height="6.89" fill="#df0000"/>
<rect x="839.3" y="512.90" width="35.6" height="6.89" fill="#ef0000"/>
<rect x="839.3" y="519.39" width="35.6" height="6.89" fill="#ff0000"/>
<rect x="839.3" y="525.87" width="35.6" height="6.89" fill="#ff1000"/>
<rect x="839.3" y="532.36" width="35.6" height="6.89" fill="#ff2000"/>
<rect x="839.3" y="538.85" width="35.6" height="6.89" fill="#ff3000"/>
<rect x="839.3" y="545.33" width="35.6" height="6.89" fill="#ff4000"/>
<rect x="839.3" y="551.82" width="35.6" height="6.89" fill="#ff5000"/>
<rect x="839.3" y="558.30" width="35.6" height="6.89" fill="#ff6000"/>
<rect x="839.3" y="564.79" width="35.6" height="6.89" fill="#ff7000"/>
<rect x="839.3" y="571.27" width="35.6" height="6.89" fill="#ff8000"/>
<rect x="839.3" y="577.76" width="35.6" height="6.89" fill="#ff8f00"/>
<rect x="839.3" y="584.25" width="35.6" height="6.89" fill="#ff9f00"/>
<rect x="839.3" y="590.73" width="35.6" height="6.89" fill="#ffaf00"/>
<rect x="839.3" y="597.22" width="35.6" height="6.89" fill="#ffbf00"/>
<rect x="839.3" y="603.70" width="35.6" height="6.89" fill="#ffcf00"/>
<rect x="839.3" y="610.19" width="35.6" height="6.89" fill="#ffdf00"/>
<rect x="839.3" y="616.68" width="35.6" height="6.89" fill="#ffef00"/>
<rect x="839.3" y="623.16" width="35.6" height="6.89" fill="#ffff00"/>
<rect x="839.3" y="629.65" width="35.6" height="6.89" fill="#efff10"/>
<rect x="839.3" y="636.13" width="35.6" height="6.89" fill="#dfff20"/>
<rect x="839.3" y="642.62" width="35.6" height="6.89" fill="#cfff30"/>
<rect x="839.3" y="649.11" width="35.6" height="6.89" fill="#bfff40"/>
<rect x="839.3" y="655.59" width="35.6" height="6.89" fill="#afff50"/>
<rect x="839.3" y="662.08" width="35.6" height="6.89" fill="#9fff60"/>
<rect x="839.3" y="668.56" width="35.6" height="6.89" fill="#8fff70"/>
<rect x="839.3" y="675.05" width="35.6" height="6.89" fill="#80ff80"/>
<rect x="839.3" y="681.54" width="35.6" height="6.89" fill="#70ff8f"/>
<rect x="839.3" y="688.02" width="35.6" height="6.89" fill="#60ff9f"/>
<rect x="839.3" y="694.51" width="35.6" height="6.89" fill="#50ffaf"/>
<rect x="839.3" y="700.99" width="35.6" height="6.89" fill="#40ffbf"/>
<rect x="839.3" y="707.48" width="35.6" height="6.89" fill="#30ffcf"/>
<rect x="839.3" y="713.97" width="35.6" height="6.89" fill="#20ffdf"/>
<rect x="839.3" y="720.45" width="35.6" height="6.89" fill="#10ffef"/>
<rect x="839.3" y="726.94" width="35.6" height="6.89" fill="#00ffff"/>
<rect x="839.3" y="733.42" width="35.6" height="6.89" fill="#00efff"/>
<rect x="839.3" y="739.91" width="35.6" height="6.89" fill="#00dfff"/>
<rect x="839.3" y="746.40" width="35.6" height="6.89" fill="#00cfff"/>
<rect x="839.3" y="752.88" width="35.6" height="6.89" fill="#00bfff"/>
<rect x="839.3" y="759.37" width="35.6" height="6.89" fill="#00afff"/>
<rect x="839.3" y="765.85" width="35.6" height="6.89" fill="#009fff"/>
<rect x="839.3" y="772.34" width="35.6" height="6.89" fill="#008fff"/>
<rect x="839.3" y="778.83" width="35.6" height="6.89" fill="#0080ff"/>
<rect x="839.3" y="785.31" width="35.6" height="6.89" fill="#0070ff"/>
<rect x="839.3" y="791.80" width="35.6" height="6.89" fill="#0060ff"/>
<rect x="839.3" y="798.28" width="35.6" height="6.89" fill="#0050ff"/>
<rect x="839.3" y="804.77" width="35.6" height="6.89" fill="#0040ff"/>
<rect x="839.3" y="811.25" width="35.6" height="6.89" fill="#0030ff"/>
<rect x="839.3" y="817.74" width="35.6" height="6.89" fill="#0020ff"/>
<rect x="839.3" y="824.23" width="35.6" height="6.89" fill="#0010ff"/>
<rect x="839.3" y="830.71" width="35.6" height="6.89" fill="#0000ff"/>
<rect x="839.3" y="837.20" width="35.6" height="6.89" fill="#0000ef"/>
<rect x="839.3" y="843.68" width="35.6" height="6.89" fill="#0000df"/>
<rect x="839.3" y="850.17" width="35.6" height="6.89" fill="#0000cf"/>
<rect x="839.3" y="856.66" width="35.6" height="6.89" fill="#0000bf"/>
<rect x="839.3" y="863.14" width="35.6" height="6.89" fill="#0000af"/>
<rect x="839.3" y="869.63" width="35.6" height="6.89" fill="#00009f"/>
<rect x="839.3" y="876.11" width="35.6" height="6.89" fill="#00008f"/>
<rect x="839.3" y="467.5" width="35.6" height="415.1" fill="none" stroke="#000" stroke-width="1"/>
<path d="M874.9 467.5h-5" stroke="#000" stroke-width="1"/>
<text x="883.4" y="477.5" font-size="28" font-family="Liberation Sans, sans-serif" fill="#222">30</text>
<path d="M874.9 556.1h-5" stroke="#000" stroke-width="1"/>
<text x="883.4" y="566.1" font-size="28" font-family="Liberation Sans, sans-serif" fill="#222">25</text>
<path d="M874.9 644.7h-5" stroke="#000" stroke-width="1"/>
<text x="883.4" y="654.7" font-size="28" font-family="Liberation Sans, sans-serif" fill="#222">20</text>
<path d="M874.9 733.2h-5" stroke="#000" stroke-width="1"/>
<text x="883.4" y="743.2" font-size="28" font-family="Liberation Sans, sans-serif" fill="#222">15</text>
<path d="M874.9 821.8h-5" stroke="#000" stroke-width="1"/>
<text x="883.4" y="831.8" font-size="28" font-family="Liberation Sans, sans-serif" fill="#222">10</text>
<g transform="translate(966.7 694) rotate(-90) skewX(-15)" fill="none" stroke="#222" stroke-width="1.5"><ellipse cx="0" cy="0" rx="4.4" ry="10.2"/><path d="M-4.4 0H4.4"/></g><text transform="translate(977.5 680) rotate(-90)" font-size="30" font-family="Liberation Sans, sans-serif" fill="#222">(<tspan font-size="21" dy="-13">o</tspan><tspan dy="13">C)</tspan></text>
<rect x="841.2" y="906.30" width="34.8" height="6.86" fill="#00ff80"/>
<rect x="841.2" y="912.76" width="34.8" height="6.86" fill="#00fb82"/>
<rect x="841.2" y="919.22" width="34.8" height="6.86" fill="#00f784"/>
<rect x="841.2" y="925.67" width="34.8" height="6.86" fill="#00f386"/>
<rect x="841.2" y="932.13" width="34.8" height="6.86" fill="#00ef88"/>
<rect x="841.2" y="938.59" width="34.8" height="6.86" fill="#00eb8a"/>
<rect x="841.2" y="945.05" width="34.8" height="6.86" fill="#00e78c"/>
<rect x="841.2" y="951.50" width="34.8" height="6.86" fill="#00e38e"/>
<rect x="841.2" y="957.96" width="34.8" height="6.86" fill="#00df90"/>
<rect x="841.2" y="964.42" width="34.8" height="6.86" fill="#00db92"/>
<rect x="841.2" y="970.88" width="34.8" height="6.86" fill="#00d794"/>
<rect x="841.2" y="977.34" width="34.8" height="6.86" fill="#00d296"/>
<rect x="841.2" y="983.79" width="34.8" height="6.86" fill="#00ce98"/>
<rect x="841.2" y="990.25" width="34.8" height="6.86" fill="#00ca9a"/>
<rect x="841.2" y="996.71" width="34.8" height="6.86" fill="#00c69c"/>
<rect x="841.2" y="1003.17" width="34.8" height="6.86" fill="#00c29e"/>
<rect x="841.2" y="1009.62" width="34.8" height="6.86" fill="#00bea0"/>
<rect x="841.2" y="1016.08" width="34.8" height="6.86" fill="#00baa2"/>
<rect x="841.2" y="1022.54" width="34.8" height="6.86" fill="#00b6a4"/>
<rect x="841.2" y="1029.00" width="34.8" height="6.86" fill="#00b2a6"/>
<rect x="841.2" y="1035.46" width="34.8" height="6.86" fill="#00aea8"/>
<rect x="841.2" y="1041.91" width="34.8" height="6.86" fill="#00aaaa"/>
<rect x="841.2" y="1048.37" width="34.8" height="6.86" fill="#00a6ac"/>
<rect x="841.2" y="1054.83" width="34.8" height="6.86" fill="#00a2ae"/>
<rect x="841.2" y="1061.29" width="34.8" height="6.86" fill="#009eb0"/>
<rect x="841.2" y="1067.75" width="34.8" height="6.86" fill="#009ab2"/>
<rect x="841.2" y="1074.20" width="34.8" height="6.86" fill="#0096b4"/>
<rect x="841.2" y="1080.66" width="34.8" height="6.86" fill="#0092b6"/>
<rect x="841.2" y="1087.12" width="34.8" height="6.86" fill="#008eb8"/>
<rect x="841.2" y="1093.58" width="34.8" height="6.86" fill="#008aba"/>
<rect x="841.2" y="1100.03" width="34.8" height="6.86" fill="#0086bc"/>
<rect x="841.2" y="1106.49" width="34.8" height="6.86" fill="#0082be"/>
<rect x="841.2" y="1112.95" width="34.8" height="6.86" fill="#007dc0"/>
<rect x="841.2" y="1119.41" width="34.8" height="6.86" fill="#0079c2"/>
<rect x="841.2" y="1125.87" width="34.8" height="6.86" fill="#0075c4"/>
<rect x="841.2" y="1132.32" width="34.8" height="6.86" fill="#0071c6"/>
<rect x="841.2" y="1138.78" width="34.8" height="6.86" fill="#006dc8"/>
<rect x="841.2" y="1145.24" width="34.8" height="6.86" fill="#0069ca"/>
<rect x="841.2" y="1151.70" width="34.8" height="6.86" fill="#0065cc"/>
<rect x="841.2" y="1158.15" width="34.8" height="6.86" fill="#0061ce"/>
<rect x="841.2" y="1164.61" width="34.8" height="6.86" fill="#005dd0"/>
<rect x="841.2" y="1171.07" width="34.8" height="6.86" fill="#0059d2"/>
<rect x="841.2" y="1177.53" width="34.8" height="6.86" fill="#0055d4"/>
<rect x="841.2" y="1183.99" width="34.8" height="6.86" fill="#0051d7"/>
<rect x="841.2" y="1190.44" width="34.8" height="6.86" fill="#004dd9"/>
<rect x="841.2" y="1196.90" width="34.8" height="6.86" fill="#0049db"/>
<rect x="841.2" y="1203.36" width="34.8" height="6.86" fill="#0045dd"/>
<rect x="841.2" y="1209.82" width="34.8" height="6.86" fill="#0041df"/>
<rect x="841.2" y="1216.27" width="34.8" height="6.86" fill="#003de1"/>
<rect x="841.2" y="1222.73" width="34.8" height="6.86" fill="#0039e3"/>
<rect x="841.2" y="1229.19" width="34.8" height="6.86" fill="#0035e5"/>
<rect x="841.2" y="1235.65" width="34.8" height="6.86" fill="#0031e7"/>
<rect x="841.2" y="1242.11" width="34.8" height="6.86" fill="#002de9"/>
<rect x="841.2" y="1248.56" width="34.8" height="6.86" fill="#0028eb"/>
<rect x="841.2" y="1255.02" width="34.8" height="6.86" fill="#0024ed"/>
<rect x="841.2" y="1261.48" width="34.8" height="6.86" fill="#0020ef"/>
<rect x="841.2" y="1267.94" width="34.8" height="6.86" fill="#001cf1"/>
<rect x="841.2" y="1274.40" width="34.8" height="6.86" fill="#0018f3"/>
<rect x="841.2" y="1280.85" width="34.8" height="6.86" fill="#0014f5"/>
<rect x="841.2" y="1287.31" width="34.8" height="6.86" fill="#0010f7"/>
<rect x="841.2" y="1293.77" width="34.8" height="6.86" fill="#000cf9"/>
<rect x="841.2" y="1300.23" width="34.8" height="6.86" fill="#0008fb"/>
<rect x="841.2" y="1306.68" width="34.8" height="6.86" fill="#0004fd"/>
<rect x="841.2" y="1313.14" width="34.8" height="6.86" fill="#0000ff"/>
<rect x="841.2" y="906.3" width="34.8" height="413.29999999999995" fill="none" stroke="#000" stroke-width="1"/>
<path d="M876.0 952.9h-5" stroke="#000" stroke-width="1"/>
<text x="884.5" y="962.9" font-size="28" font-family="Liberation Sans, sans-serif" fill="#222">23</text>
<path d="M876.0 1036.0h-5" stroke="#000" stroke-width="1"/>
<text x="884.5" y="1046.0" font-size="28" font-family="Liberation Sans, sans-serif" fill="#222">24</text>
<path d="M876.0 1119.2h-5" stroke="#000" stroke-width="1"/>
<text x="884.5" y="1129.2" font-size="28" font-family="Liberation Sans, sans-serif" fill="#222">25</text>
<path d="M876.0 1202.3h-5" stroke="#000" stroke-width="1"/>
<text x="884.5" y="1212.3" font-size="28" font-family="Liberation Sans, sans-serif" fill="#222">26</text>
<path d="M876.0 1285.5h-5" stroke="#000" stroke-width="1"/>
<text x="884.5" y="1295.5" font-size="28" font-family="Liberation Sans, sans-serif" fill="#222">27</text>
<g transform="translate(986 1042.6) rotate(-90) skewX(-15)" fill="none" stroke="#222" stroke-width="1.2"><ellipse cx="0" cy="0" rx="3.0" ry="7.8"/><path d="M-3.0 0H3.0"/></g><text transform="translate(980 1133.8) rotate(-90)" font-size="30" font-family="Liberation Sans, sans-serif" fill="#222">Sigma</text>
<text x="93.8" y="40.0" font-size="31" text-anchor="end" font-family="Liberation Sans, sans-serif" fill="#222">0</text>
<text x="93.8" y="91.8" font-size="31" text-anchor="end" font-family="Liberation Sans, sans-serif" fill="#222">100</text>
<text x="93.8" y="143.5" font-size="31" text-anchor="end" font-family="Liberation Sans, sans-serif" fill="#222">200</text>
<text x="93.8" y="195.2" font-size="31" text-anchor="end" font-family="Liberation Sans, sans-serif" fill="#222">300</text>
<text x="93.8" y="247.0" font-size="31" text-anchor="end" font-family="Liberation Sans, sans-serif" fill="#222">400</text>
<text x="93.8" y="298.8" font-size="31" text-anchor="end" font-family="Liberation Sans, sans-serif" fill="#222">500</text>
<text x="93.8" y="350.5" font-size="31" text-anchor="end" font-family="Liberation Sans, sans-serif" fill="#222">600</text>
<text x="93.8" y="402.2" font-size="31" text-anchor="end" font-family="Liberation Sans, sans-serif" fill="#222">700</text>
<text x="93.8" y="454.0" font-size="31" text-anchor="end" font-family="Liberation Sans, sans-serif" fill="#222">800</text>
<text x="30" y="236.0" transform="rotate(-90 30 236.0)" font-size="33.7" text-anchor="middle" font-family="Liberation Sans, sans-serif" fill="#222">Pressure (dbar)</text>
<text x="93.8" y="478.7" font-size="31" text-anchor="end" font-family="Liberation Sans, sans-serif" fill="#222">0</text>
<text x="93.8" y="530.5" font-size="31" text-anchor="end" font-family="Liberation Sans, sans-serif" fill="#222">100</text>
<text x="93.8" y="582.2" font-size="31" text-anchor="end" font-family="Liberation Sans, sans-serif" fill="#222">200</text>
<text x="93.8" y="634.0" font-size="31" text-anchor="end" font-family="Liberation Sans, sans-serif" fill="#222">300</text>
<text x="93.8" y="685.7" font-size="31" text-anchor="end" font-family="Liberation Sans, sans-serif" fill="#222">400</text>
<text x="93.8" y="737.5" font-size="31" text-anchor="end" font-family="Liberation Sans, sans-serif" fill="#222">500</text>
<text x="93.8" y="789.2" font-size="31" text-anchor="end" font-family="Liberation Sans, sans-serif" fill="#222">600</text>
<text x="93.8" y="841.0" font-size="31" text-anchor="end" font-family="Liberation Sans, sans-serif" fill="#222">700</text>
<text x="93.8" y="892.7" font-size="31" text-anchor="end" font-family="Liberation Sans, sans-serif" fill="#222">800</text>
<text x="30" y="674.7" transform="rotate(-90 30 674.7)" font-size="33.7" text-anchor="middle" font-family="Liberation Sans, sans-serif" fill="#222">Pressure (dbar)</text>
<text x="93.8" y="918.0" font-size="31" text-anchor="end" font-family="Liberation Sans, sans-serif" fill="#222">0</text>
<text x="93.8" y="969.5" font-size="31" text-anchor="end" font-family="Liberation Sans, sans-serif" fill="#222">100</text>
<text x="93.8" y="1021.0" font-size="31" text-anchor="end" font-family="Liberation Sans, sans-serif" fill="#222">200</text>
<text x="93.8" y="1072.5" font-size="31" text-anchor="end" font-family="Liberation Sans, sans-serif" fill="#222">300</text>
<text x="93.8" y="1124.0" font-size="31" text-anchor="end" font-family="Liberation Sans, sans-serif" fill="#222">400</text>
<text x="93.8" y="1175.4" font-size="31" text-anchor="end" font-family="Liberation Sans, sans-serif" fill="#222">500</text>
<text x="93.8" y="1226.9" font-size="31" text-anchor="end" font-family="Liberation Sans, sans-serif" fill="#222">600</text>
<text x="93.8" y="1278.4" font-size="31" text-anchor="end" font-family="Liberation Sans, sans-serif" fill="#222">700</text>
<text x="93.8" y="1329.9" font-size="31" text-anchor="end" font-family="Liberation Sans, sans-serif" fill="#222">800</text>
<text x="30" y="1112.95" transform="rotate(-90 30 1112.95)" font-size="33.7" text-anchor="middle" font-family="Liberation Sans, sans-serif" fill="#222">Pressure (dbar)</text>
<text x="109.6" y="18" font-size="18" text-anchor="middle" font-family="Liberation Sans, sans-serif" fill="#000">22</text>
<text x="169.5" y="18" font-size="18" text-anchor="middle" font-family="Liberation Sans, sans-serif" fill="#000">24</text>
<text x="300" y="18" font-size="18" text-anchor="middle" font-family="Liberation Sans, sans-serif" fill="#000">26</text>
<text x="436" y="18" font-size="18" text-anchor="middle" font-family="Liberation Sans, sans-serif" fill="#000">28</text>
<text x="640" y="18" font-size="18" text-anchor="middle" font-family="Liberation Sans, sans-serif" fill="#000">30</text>
<text x="796" y="18" font-size="18" text-anchor="middle" font-family="Liberation Sans, sans-serif" fill="#000">32</text>
<text x="123.5" y="401.5" font-size="23.3" font-weight="bold" font-family="Liberation Sans, sans-serif" fill="#000">a. Salinity</text>
<text x="123.5" y="840" font-size="23.3" font-weight="bold" font-family="Liberation Sans, sans-serif" fill="#000">b. Potential Temperature</text>
<text x="123.5" y="1277" font-size="23.3" font-weight="bold" font-family="Liberation Sans, sans-serif" fill="#000">c. Potential Density</text>
<text x="108" y="1366" font-size="31" text-anchor="middle" font-family="Liberation Sans, sans-serif" fill="#222">80<tspan font-size="23" dy="-14">o</tspan><tspan dy="14">W</tspan></text>
<text x="251" y="1366" font-size="31" text-anchor="middle" font-family="Liberation Sans, sans-serif" fill="#222">79<tspan font-size="23" dy="-14">o</tspan><tspan dy="14">50' W</tspan></text>
<text x="394" y="1366" font-size="31" text-anchor="middle" font-family="Liberation Sans, sans-serif" fill="#222">79<tspan font-size="23" dy="-14">o</tspan><tspan dy="14">40' W</tspan></text>
<text x="536.5" y="1366" font-size="31" text-anchor="middle" font-family="Liberation Sans, sans-serif" fill="#222">79<tspan font-size="23" dy="-14">o</tspan><tspan dy="14">30' W</tspan></text>
<text x="679" y="1366" font-size="31" text-anchor="middle" font-family="Liberation Sans, sans-serif" fill="#222">79<tspan font-size="23" dy="-14">o</tspan><tspan dy="14">20' W</tspan></text>
<text x="815" y="1366" font-size="31" text-anchor="middle" font-family="Liberation Sans, sans-serif" fill="#222">79<tspan font-size="23" dy="-14">o</tspan><tspan dy="14">10' W</tspan></text>
<text x="461" y="1407.6" font-size="34.6" text-anchor="middle" font-family="Liberation Sans, sans-serif" fill="#222">Longitude</text>
</svg>
</body></html>
